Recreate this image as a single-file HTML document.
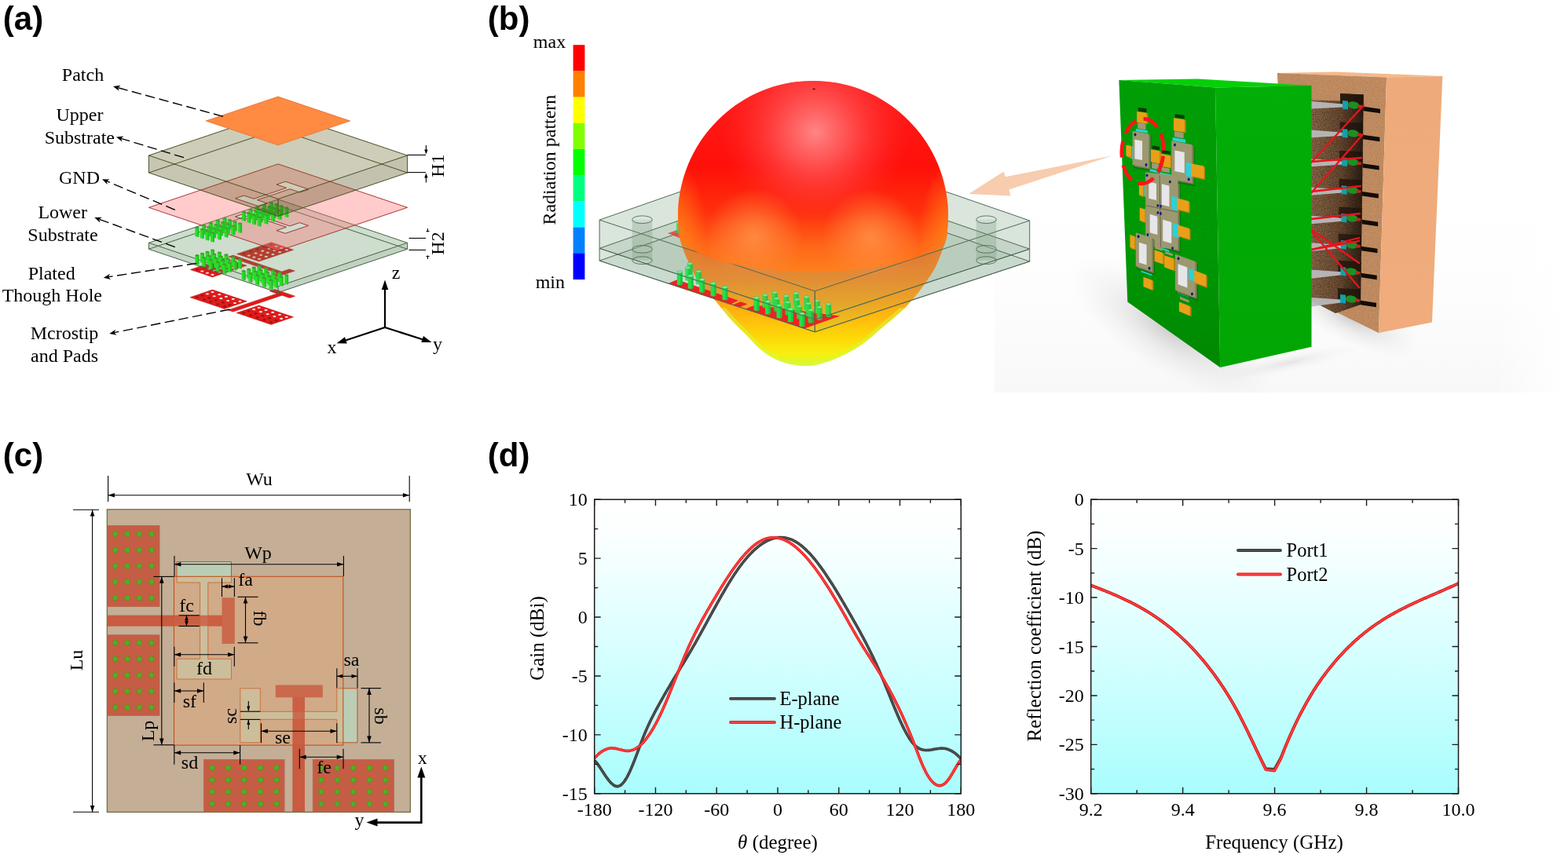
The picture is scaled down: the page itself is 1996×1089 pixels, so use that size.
<!DOCTYPE html>
<html lang="en"><head><meta charset="utf-8"><title>Figure</title>
<style>html,body{margin:0;padding:0;background:#fff;overflow:hidden}svg{display:block}text{white-space:pre}</style>
</head><body>
<svg width="1996" height="1089" viewBox="0 0 1996 1089">
<rect width="1996" height="1089" fill="#fff"/>
<g id="pa">
<path d="M345.46 308.67 L373.61 318.15 L329.64 332.95 L301.5 323.47ZM286 328.69 L314.14 338.16 L270.39 352.89 L242.25 343.41ZM270.49 369.07 L314.2 383.78 L285.64 393.39 L241.94 378.68ZM329.68 388.99 L373.6 403.77 L345.05 413.39 L301.12 398.6ZM296.67 325.1 L358.72 345.98 L368.32 342.75 L375.27 345.09 L350.21 353.52 L343.26 351.18 L352.87 347.95 L290.82 327.06ZM349.98 368.53 L375.56 377.14 L368.82 379.41 L359.1 376.13 L296.73 397.12 L290.12 394.9 L352.49 373.91 L343.23 370.8Z" fill="#e01a1a" stroke="#b01010" stroke-width="0.5"/>
<ellipse cx="345.16" cy="311.59" rx="2.1" ry="1.1" fill="#8c1414"/>
<ellipse cx="336.41" cy="314.53" rx="2.1" ry="1.1" fill="#8c1414"/>
<ellipse cx="327.74" cy="317.45" rx="2.1" ry="1.1" fill="#8c1414"/>
<ellipse cx="319.12" cy="320.35" rx="2.1" ry="1.1" fill="#8c1414"/>
<ellipse cx="310.37" cy="323.3" rx="2.1" ry="1.1" fill="#8c1414"/>
<ellipse cx="351.64" cy="313.77" rx="2.1" ry="1.1" fill="#f6e6e6"/>
<ellipse cx="342.89" cy="316.72" rx="2.1" ry="1.1" fill="#f6e6e6"/>
<ellipse cx="334.22" cy="319.63" rx="2.1" ry="1.1" fill="#f6e6e6"/>
<ellipse cx="325.6" cy="322.54" rx="2.1" ry="1.1" fill="#f6e6e6"/>
<ellipse cx="316.85" cy="325.48" rx="2.1" ry="1.1" fill="#f6e6e6"/>
<ellipse cx="358.21" cy="315.98" rx="2.1" ry="1.1" fill="#f6e6e6"/>
<ellipse cx="349.46" cy="318.93" rx="2.1" ry="1.1" fill="#f6e6e6"/>
<ellipse cx="340.79" cy="321.84" rx="2.1" ry="1.1" fill="#f6e6e6"/>
<ellipse cx="332.17" cy="324.75" rx="2.1" ry="1.1" fill="#f6e6e6"/>
<ellipse cx="323.42" cy="327.69" rx="2.1" ry="1.1" fill="#f6e6e6"/>
<ellipse cx="364.82" cy="318.21" rx="2.1" ry="1.1" fill="#f6e6e6"/>
<ellipse cx="356.07" cy="321.15" rx="2.1" ry="1.1" fill="#f6e6e6"/>
<ellipse cx="347.4" cy="324.07" rx="2.1" ry="1.1" fill="#f6e6e6"/>
<ellipse cx="338.78" cy="326.97" rx="2.1" ry="1.1" fill="#f6e6e6"/>
<ellipse cx="330.03" cy="329.92" rx="2.1" ry="1.1" fill="#f6e6e6"/>
<ellipse cx="285.91" cy="331.53" rx="2.1" ry="1.1" fill="#8c1414"/>
<ellipse cx="277.16" cy="334.48" rx="2.1" ry="1.1" fill="#8c1414"/>
<ellipse cx="268.32" cy="337.45" rx="2.1" ry="1.1" fill="#8c1414"/>
<ellipse cx="259.57" cy="340.4" rx="2.1" ry="1.1" fill="#8c1414"/>
<ellipse cx="250.82" cy="343.34" rx="2.1" ry="1.1" fill="#8c1414"/>
<ellipse cx="292.39" cy="333.71" rx="2.1" ry="1.1" fill="#f6e6e6"/>
<ellipse cx="283.64" cy="336.66" rx="2.1" ry="1.1" fill="#f6e6e6"/>
<ellipse cx="274.8" cy="339.63" rx="2.1" ry="1.1" fill="#f6e6e6"/>
<ellipse cx="266.05" cy="342.58" rx="2.1" ry="1.1" fill="#f6e6e6"/>
<ellipse cx="257.3" cy="345.52" rx="2.1" ry="1.1" fill="#f6e6e6"/>
<ellipse cx="298.96" cy="335.92" rx="2.1" ry="1.1" fill="#f6e6e6"/>
<ellipse cx="290.21" cy="338.87" rx="2.1" ry="1.1" fill="#f6e6e6"/>
<ellipse cx="281.37" cy="341.84" rx="2.1" ry="1.1" fill="#f6e6e6"/>
<ellipse cx="272.62" cy="344.79" rx="2.1" ry="1.1" fill="#f6e6e6"/>
<ellipse cx="263.87" cy="347.73" rx="2.1" ry="1.1" fill="#f6e6e6"/>
<ellipse cx="305.57" cy="338.15" rx="2.1" ry="1.1" fill="#f6e6e6"/>
<ellipse cx="296.82" cy="341.09" rx="2.1" ry="1.1" fill="#f6e6e6"/>
<ellipse cx="287.98" cy="344.07" rx="2.1" ry="1.1" fill="#f6e6e6"/>
<ellipse cx="279.23" cy="347.01" rx="2.1" ry="1.1" fill="#f6e6e6"/>
<ellipse cx="270.48" cy="349.96" rx="2.1" ry="1.1" fill="#f6e6e6"/>
<ellipse cx="270.49" cy="372.09" rx="2.1" ry="1.1" fill="#f6e6e6"/>
<ellipse cx="263.96" cy="374.28" rx="2.1" ry="1.1" fill="#f6e6e6"/>
<ellipse cx="257.47" cy="376.47" rx="2.1" ry="1.1" fill="#8c1414"/>
<ellipse cx="250.94" cy="378.67" rx="2.1" ry="1.1" fill="#8c1414"/>
<ellipse cx="279.23" cy="375.03" rx="2.1" ry="1.1" fill="#f6e6e6"/>
<ellipse cx="272.7" cy="377.23" rx="2.1" ry="1.1" fill="#f6e6e6"/>
<ellipse cx="266.21" cy="379.41" rx="2.1" ry="1.1" fill="#8c1414"/>
<ellipse cx="259.68" cy="381.61" rx="2.1" ry="1.1" fill="#8c1414"/>
<ellipse cx="287.89" cy="377.94" rx="2.1" ry="1.1" fill="#f6e6e6"/>
<ellipse cx="281.36" cy="380.14" rx="2.1" ry="1.1" fill="#f6e6e6"/>
<ellipse cx="274.87" cy="382.32" rx="2.1" ry="1.1" fill="#8c1414"/>
<ellipse cx="268.34" cy="384.52" rx="2.1" ry="1.1" fill="#8c1414"/>
<ellipse cx="296.71" cy="380.91" rx="2.1" ry="1.1" fill="#f6e6e6"/>
<ellipse cx="290.18" cy="383.11" rx="2.1" ry="1.1" fill="#f6e6e6"/>
<ellipse cx="283.69" cy="385.29" rx="2.1" ry="1.1" fill="#8c1414"/>
<ellipse cx="277.16" cy="387.49" rx="2.1" ry="1.1" fill="#8c1414"/>
<ellipse cx="305.46" cy="383.85" rx="2.1" ry="1.1" fill="#f6e6e6"/>
<ellipse cx="298.92" cy="386.05" rx="2.1" ry="1.1" fill="#f6e6e6"/>
<ellipse cx="292.44" cy="388.24" rx="2.1" ry="1.1" fill="#8c1414"/>
<ellipse cx="285.9" cy="390.44" rx="2.1" ry="1.1" fill="#8c1414"/>
<ellipse cx="329.68" cy="392.01" rx="2.1" ry="1.1" fill="#f6e6e6"/>
<ellipse cx="323.15" cy="394.21" rx="2.1" ry="1.1" fill="#f6e6e6"/>
<ellipse cx="316.66" cy="396.39" rx="2.1" ry="1.1" fill="#8c1414"/>
<ellipse cx="310.13" cy="398.59" rx="2.1" ry="1.1" fill="#8c1414"/>
<ellipse cx="338.42" cy="394.95" rx="2.1" ry="1.1" fill="#f6e6e6"/>
<ellipse cx="331.89" cy="397.15" rx="2.1" ry="1.1" fill="#f6e6e6"/>
<ellipse cx="325.4" cy="399.33" rx="2.1" ry="1.1" fill="#8c1414"/>
<ellipse cx="318.87" cy="401.53" rx="2.1" ry="1.1" fill="#8c1414"/>
<ellipse cx="347.16" cy="397.89" rx="2.1" ry="1.1" fill="#f6e6e6"/>
<ellipse cx="340.63" cy="400.09" rx="2.1" ry="1.1" fill="#f6e6e6"/>
<ellipse cx="334.14" cy="402.27" rx="2.1" ry="1.1" fill="#8c1414"/>
<ellipse cx="327.61" cy="404.47" rx="2.1" ry="1.1" fill="#8c1414"/>
<ellipse cx="355.9" cy="400.83" rx="2.1" ry="1.1" fill="#f6e6e6"/>
<ellipse cx="349.37" cy="403.03" rx="2.1" ry="1.1" fill="#f6e6e6"/>
<ellipse cx="342.88" cy="405.22" rx="2.1" ry="1.1" fill="#8c1414"/>
<ellipse cx="336.35" cy="407.41" rx="2.1" ry="1.1" fill="#8c1414"/>
<ellipse cx="364.64" cy="403.78" rx="2.1" ry="1.1" fill="#f6e6e6"/>
<ellipse cx="358.11" cy="405.97" rx="2.1" ry="1.1" fill="#f6e6e6"/>
<ellipse cx="351.62" cy="408.16" rx="2.1" ry="1.1" fill="#8c1414"/>
<ellipse cx="345.09" cy="410.36" rx="2.1" ry="1.1" fill="#8c1414"/>
<polygon points="189.4,309.3 354,253.9 518.6,309.3 518.6,317.3 354,372.7 189.4,317.3" fill="#5c8e5c" stroke="none" stroke-width="0" fill-opacity="0.3" />
<polygon points="189.4,309.3 354,364.7 354,372.7 189.4,317.3" fill="#000" stroke="none" stroke-width="0" fill-opacity="0.03" />
<polygon points="354,364.7 518.6,309.3 518.6,317.3 354,372.7" fill="#000" stroke="none" stroke-width="0" fill-opacity="0.05" />
<path d="M354 253.9 L518.6 309.3 L354 364.7 L189.4 309.3ZM354 261.9 L518.6 317.3 L354 372.7 L189.4 317.3ZM354 253.9L354 261.9M518.6 309.3L518.6 317.3M354 364.7L354 372.7M189.4 309.3L189.4 317.3" fill="none" stroke="#456345" stroke-width="1.0" stroke-linejoin="round"/>
<path d="M354 208.9 L518.6 264.3 L354 319.7 L189.4 264.3ZM363.35 231.21 L392.99 241.19 L381.68 245 L369.01 240.73 L327.48 254.71 L340.14 258.97 L329.17 262.67 L299.54 252.69 L310.51 249 L323.13 253.25 L364.66 239.27 L352.04 235.02ZM328.95 265.98 L339.83 269.64 L327.23 273.88 L368.81 287.88 L381.4 283.64 L392.58 287.4 L363.12 297.31 L351.95 293.55 L364.54 289.31 L322.97 275.32 L310.37 279.56 L299.5 275.9Z" fill="#ff7070" fill-opacity="0.36" fill-rule="evenodd" stroke="#a02424" stroke-width="0.9" stroke-linejoin="round"/>
<path d="M342.66 258.14V268.64A2.5 1.2 0 0 0 347.66 268.64V258.14Z" fill="#27e027"/>
<path d="M345.66 258.14V269.74A1 1.2 0 0 0 347.66 268.64V258.14Z" fill="#1fa81f" fill-opacity="0.55"/>
<ellipse cx="345.16" cy="258.14" rx="2.5" ry="1.2" fill="#4a9a3a"/>
<path d="M349.14 260.32V270.82A2.5 1.2 0 0 0 354.14 270.82V260.32Z" fill="#27e027"/>
<path d="M352.14 260.32V271.92A1 1.2 0 0 0 354.14 270.82V260.32Z" fill="#1fa81f" fill-opacity="0.55"/>
<ellipse cx="351.64" cy="260.32" rx="2.5" ry="1.2" fill="#4a9a3a"/>
<path d="M333.91 261.08V271.58A2.5 1.2 0 0 0 338.91 271.58V261.08Z" fill="#27e027"/>
<path d="M336.91 261.08V272.68A1 1.2 0 0 0 338.91 271.58V261.08Z" fill="#1fa81f" fill-opacity="0.55"/>
<ellipse cx="336.41" cy="261.08" rx="2.5" ry="1.2" fill="#4a9a3a"/>
<path d="M355.71 262.53V273.03A2.5 1.2 0 0 0 360.71 273.03V262.53Z" fill="#27e027"/>
<path d="M358.71 262.53V274.13A1 1.2 0 0 0 360.71 273.03V262.53Z" fill="#1fa81f" fill-opacity="0.55"/>
<ellipse cx="358.21" cy="262.53" rx="2.5" ry="1.2" fill="#4a9a3a"/>
<path d="M340.39 263.27V273.77A2.5 1.2 0 0 0 345.39 273.77V263.27Z" fill="#27e027"/>
<path d="M343.39 263.27V274.87A1 1.2 0 0 0 345.39 273.77V263.27Z" fill="#1fa81f" fill-opacity="0.55"/>
<ellipse cx="342.89" cy="263.27" rx="2.5" ry="1.2" fill="#4a9a3a"/>
<path d="M325.24 264V274.5A2.5 1.2 0 0 0 330.24 274.5V264Z" fill="#27e027"/>
<path d="M328.24 264V275.6A1 1.2 0 0 0 330.24 274.5V264Z" fill="#1fa81f" fill-opacity="0.55"/>
<ellipse cx="327.74" cy="264" rx="2.5" ry="1.2" fill="#4a9a3a"/>
<path d="M362.32 264.76V275.26A2.5 1.2 0 0 0 367.32 275.26V264.76Z" fill="#27e027"/>
<path d="M365.32 264.76V276.36A1 1.2 0 0 0 367.32 275.26V264.76Z" fill="#1fa81f" fill-opacity="0.55"/>
<ellipse cx="364.82" cy="264.76" rx="2.5" ry="1.2" fill="#4a9a3a"/>
<path d="M346.96 265.48V275.98A2.5 1.2 0 0 0 351.96 275.98V265.48Z" fill="#27e027"/>
<path d="M349.96 265.48V277.08A1 1.2 0 0 0 351.96 275.98V265.48Z" fill="#1fa81f" fill-opacity="0.55"/>
<ellipse cx="349.46" cy="265.48" rx="2.5" ry="1.2" fill="#4a9a3a"/>
<path d="M331.72 266.18V276.68A2.5 1.2 0 0 0 336.72 276.68V266.18Z" fill="#27e027"/>
<path d="M334.72 266.18V277.78A1 1.2 0 0 0 336.72 276.68V266.18Z" fill="#1fa81f" fill-opacity="0.55"/>
<ellipse cx="334.22" cy="266.18" rx="2.5" ry="1.2" fill="#4a9a3a"/>
<path d="M316.62 266.9V277.4A2.5 1.2 0 0 0 321.62 277.4V266.9Z" fill="#27e027"/>
<path d="M319.62 266.9V278.5A1 1.2 0 0 0 321.62 277.4V266.9Z" fill="#1fa81f" fill-opacity="0.55"/>
<ellipse cx="319.12" cy="266.9" rx="2.5" ry="1.2" fill="#4a9a3a"/>
<path d="M353.57 267.7V278.2A2.5 1.2 0 0 0 358.57 278.2V267.7Z" fill="#27e027"/>
<path d="M356.57 267.7V279.3A1 1.2 0 0 0 358.57 278.2V267.7Z" fill="#1fa81f" fill-opacity="0.55"/>
<ellipse cx="356.07" cy="267.7" rx="2.5" ry="1.2" fill="#4a9a3a"/>
<path d="M338.29 268.39V278.89A2.5 1.2 0 0 0 343.29 278.89V268.39Z" fill="#27e027"/>
<path d="M341.29 268.39V279.99A1 1.2 0 0 0 343.29 278.89V268.39Z" fill="#1fa81f" fill-opacity="0.55"/>
<ellipse cx="340.79" cy="268.39" rx="2.5" ry="1.2" fill="#4a9a3a"/>
<path d="M323.1 269.09V279.59A2.5 1.2 0 0 0 328.1 279.59V269.09Z" fill="#27e027"/>
<path d="M326.1 269.09V280.69A1 1.2 0 0 0 328.1 279.59V269.09Z" fill="#1fa81f" fill-opacity="0.55"/>
<ellipse cx="325.6" cy="269.09" rx="2.5" ry="1.2" fill="#4a9a3a"/>
<path d="M307.87 269.85V280.35A2.5 1.2 0 0 0 312.87 280.35V269.85Z" fill="#27e027"/>
<path d="M310.87 269.85V281.45A1 1.2 0 0 0 312.87 280.35V269.85Z" fill="#1fa81f" fill-opacity="0.55"/>
<ellipse cx="310.37" cy="269.85" rx="2.5" ry="1.2" fill="#4a9a3a"/>
<path d="M344.9 270.62V281.12A2.5 1.2 0 0 0 349.9 281.12V270.62Z" fill="#27e027"/>
<path d="M347.9 270.62V282.22A1 1.2 0 0 0 349.9 281.12V270.62Z" fill="#1fa81f" fill-opacity="0.55"/>
<ellipse cx="347.4" cy="270.62" rx="2.5" ry="1.2" fill="#4a9a3a"/>
<path d="M329.67 271.3V281.8A2.5 1.2 0 0 0 334.67 281.8V271.3Z" fill="#27e027"/>
<path d="M332.67 271.3V282.9A1 1.2 0 0 0 334.67 281.8V271.3Z" fill="#1fa81f" fill-opacity="0.55"/>
<ellipse cx="332.17" cy="271.3" rx="2.5" ry="1.2" fill="#4a9a3a"/>
<path d="M314.35 272.03V282.53A2.5 1.2 0 0 0 319.35 282.53V272.03Z" fill="#27e027"/>
<path d="M317.35 272.03V283.63A1 1.2 0 0 0 319.35 282.53V272.03Z" fill="#1fa81f" fill-opacity="0.55"/>
<ellipse cx="316.85" cy="272.03" rx="2.5" ry="1.2" fill="#4a9a3a"/>
<path d="M336.28 273.52V284.02A2.5 1.2 0 0 0 341.28 284.02V273.52Z" fill="#27e027"/>
<path d="M339.28 273.52V285.12A1 1.2 0 0 0 341.28 284.02V273.52Z" fill="#1fa81f" fill-opacity="0.55"/>
<ellipse cx="338.78" cy="273.52" rx="2.5" ry="1.2" fill="#4a9a3a"/>
<path d="M320.92 274.24V284.74A2.5 1.2 0 0 0 325.92 284.74V274.24Z" fill="#27e027"/>
<path d="M323.92 274.24V285.84A1 1.2 0 0 0 325.92 284.74V274.24Z" fill="#1fa81f" fill-opacity="0.55"/>
<ellipse cx="323.42" cy="274.24" rx="2.5" ry="1.2" fill="#4a9a3a"/>
<path d="M327.53 276.47V286.97A2.5 1.2 0 0 0 332.53 286.97V276.47Z" fill="#27e027"/>
<path d="M330.53 276.47V288.07A1 1.2 0 0 0 332.53 286.97V276.47Z" fill="#1fa81f" fill-opacity="0.55"/>
<ellipse cx="330.03" cy="276.47" rx="2.5" ry="1.2" fill="#4a9a3a"/>
<path d="M283.41 278.08V288.58A2.5 1.2 0 0 0 288.41 288.58V278.08Z" fill="#27e027"/>
<path d="M286.41 278.08V289.68A1 1.2 0 0 0 288.41 288.58V278.08Z" fill="#1fa81f" fill-opacity="0.55"/>
<ellipse cx="285.91" cy="278.08" rx="2.5" ry="1.2" fill="#4a9a3a"/>
<path d="M289.89 280.26V290.76A2.5 1.2 0 0 0 294.89 290.76V280.26Z" fill="#27e027"/>
<path d="M292.89 280.26V291.86A1 1.2 0 0 0 294.89 290.76V280.26Z" fill="#1fa81f" fill-opacity="0.55"/>
<ellipse cx="292.39" cy="280.26" rx="2.5" ry="1.2" fill="#4a9a3a"/>
<path d="M274.66 281.03V291.53A2.5 1.2 0 0 0 279.66 291.53V281.03Z" fill="#27e027"/>
<path d="M277.66 281.03V292.63A1 1.2 0 0 0 279.66 291.53V281.03Z" fill="#1fa81f" fill-opacity="0.55"/>
<ellipse cx="277.16" cy="281.03" rx="2.5" ry="1.2" fill="#4a9a3a"/>
<path d="M296.46 282.47V292.97A2.5 1.2 0 0 0 301.46 292.97V282.47Z" fill="#27e027"/>
<path d="M299.46 282.47V294.07A1 1.2 0 0 0 301.46 292.97V282.47Z" fill="#1fa81f" fill-opacity="0.55"/>
<ellipse cx="298.96" cy="282.47" rx="2.5" ry="1.2" fill="#4a9a3a"/>
<path d="M281.14 283.21V293.71A2.5 1.2 0 0 0 286.14 293.71V283.21Z" fill="#27e027"/>
<path d="M284.14 283.21V294.81A1 1.2 0 0 0 286.14 293.71V283.21Z" fill="#1fa81f" fill-opacity="0.55"/>
<ellipse cx="283.64" cy="283.21" rx="2.5" ry="1.2" fill="#4a9a3a"/>
<path d="M265.82 284V294.5A2.5 1.2 0 0 0 270.82 294.5V284Z" fill="#27e027"/>
<path d="M268.82 284V295.6A1 1.2 0 0 0 270.82 294.5V284Z" fill="#1fa81f" fill-opacity="0.55"/>
<ellipse cx="268.32" cy="284" rx="2.5" ry="1.2" fill="#4a9a3a"/>
<path d="M303.07 284.7V295.2A2.5 1.2 0 0 0 308.07 295.2V284.7Z" fill="#27e027"/>
<path d="M306.07 284.7V296.3A1 1.2 0 0 0 308.07 295.2V284.7Z" fill="#1fa81f" fill-opacity="0.55"/>
<ellipse cx="305.57" cy="284.7" rx="2.5" ry="1.2" fill="#4a9a3a"/>
<path d="M287.71 285.42V295.92A2.5 1.2 0 0 0 292.71 295.92V285.42Z" fill="#27e027"/>
<path d="M290.71 285.42V297.02A1 1.2 0 0 0 292.71 295.92V285.42Z" fill="#1fa81f" fill-opacity="0.55"/>
<ellipse cx="290.21" cy="285.42" rx="2.5" ry="1.2" fill="#4a9a3a"/>
<path d="M272.3 286.18V296.68A2.5 1.2 0 0 0 277.3 296.68V286.18Z" fill="#27e027"/>
<path d="M275.3 286.18V297.78A1 1.2 0 0 0 277.3 296.68V286.18Z" fill="#1fa81f" fill-opacity="0.55"/>
<ellipse cx="274.8" cy="286.18" rx="2.5" ry="1.2" fill="#4a9a3a"/>
<path d="M257.07 286.95V297.45A2.5 1.2 0 0 0 262.07 297.45V286.95Z" fill="#27e027"/>
<path d="M260.07 286.95V298.55A1 1.2 0 0 0 262.07 297.45V286.95Z" fill="#1fa81f" fill-opacity="0.55"/>
<ellipse cx="259.57" cy="286.95" rx="2.5" ry="1.2" fill="#4a9a3a"/>
<path d="M294.32 287.64V298.14A2.5 1.2 0 0 0 299.32 298.14V287.64Z" fill="#27e027"/>
<path d="M297.32 287.64V299.24A1 1.2 0 0 0 299.32 298.14V287.64Z" fill="#1fa81f" fill-opacity="0.55"/>
<ellipse cx="296.82" cy="287.64" rx="2.5" ry="1.2" fill="#4a9a3a"/>
<path d="M278.87 288.39V298.89A2.5 1.2 0 0 0 283.87 298.89V288.39Z" fill="#27e027"/>
<path d="M281.87 288.39V299.99A1 1.2 0 0 0 283.87 298.89V288.39Z" fill="#1fa81f" fill-opacity="0.55"/>
<ellipse cx="281.37" cy="288.39" rx="2.5" ry="1.2" fill="#4a9a3a"/>
<path d="M263.55 289.13V299.63A2.5 1.2 0 0 0 268.55 299.63V289.13Z" fill="#27e027"/>
<path d="M266.55 289.13V300.73A1 1.2 0 0 0 268.55 299.63V289.13Z" fill="#1fa81f" fill-opacity="0.55"/>
<ellipse cx="266.05" cy="289.13" rx="2.5" ry="1.2" fill="#4a9a3a"/>
<path d="M248.32 289.89V300.39A2.5 1.2 0 0 0 253.32 300.39V289.89Z" fill="#27e027"/>
<path d="M251.32 289.89V301.49A1 1.2 0 0 0 253.32 300.39V289.89Z" fill="#1fa81f" fill-opacity="0.55"/>
<ellipse cx="250.82" cy="289.89" rx="2.5" ry="1.2" fill="#4a9a3a"/>
<path d="M285.48 290.62V301.12A2.5 1.2 0 0 0 290.48 301.12V290.62Z" fill="#27e027"/>
<path d="M288.48 290.62V302.22A1 1.2 0 0 0 290.48 301.12V290.62Z" fill="#1fa81f" fill-opacity="0.55"/>
<ellipse cx="287.98" cy="290.62" rx="2.5" ry="1.2" fill="#4a9a3a"/>
<path d="M270.12 291.34V301.84A2.5 1.2 0 0 0 275.12 301.84V291.34Z" fill="#27e027"/>
<path d="M273.12 291.34V302.94A1 1.2 0 0 0 275.12 301.84V291.34Z" fill="#1fa81f" fill-opacity="0.55"/>
<ellipse cx="272.62" cy="291.34" rx="2.5" ry="1.2" fill="#4a9a3a"/>
<path d="M254.8 292.07V302.57A2.5 1.2 0 0 0 259.8 302.57V292.07Z" fill="#27e027"/>
<path d="M257.8 292.07V303.67A1 1.2 0 0 0 259.8 302.57V292.07Z" fill="#1fa81f" fill-opacity="0.55"/>
<ellipse cx="257.3" cy="292.07" rx="2.5" ry="1.2" fill="#4a9a3a"/>
<path d="M276.73 293.56V304.06A2.5 1.2 0 0 0 281.73 304.06V293.56Z" fill="#27e027"/>
<path d="M279.73 293.56V305.16A1 1.2 0 0 0 281.73 304.06V293.56Z" fill="#1fa81f" fill-opacity="0.55"/>
<ellipse cx="279.23" cy="293.56" rx="2.5" ry="1.2" fill="#4a9a3a"/>
<path d="M261.37 294.28V304.78A2.5 1.2 0 0 0 266.37 304.78V294.28Z" fill="#27e027"/>
<path d="M264.37 294.28V305.88A1 1.2 0 0 0 266.37 304.78V294.28Z" fill="#1fa81f" fill-opacity="0.55"/>
<ellipse cx="263.87" cy="294.28" rx="2.5" ry="1.2" fill="#4a9a3a"/>
<path d="M267.98 296.51V307.01A2.5 1.2 0 0 0 272.98 307.01V296.51Z" fill="#27e027"/>
<path d="M270.98 296.51V308.11A1 1.2 0 0 0 272.98 307.01V296.51Z" fill="#1fa81f" fill-opacity="0.55"/>
<ellipse cx="270.48" cy="296.51" rx="2.5" ry="1.2" fill="#4a9a3a"/>
<path d="M267.99 318.64V329.14A2.5 1.2 0 0 0 272.99 329.14V318.64Z" fill="#27e027"/>
<path d="M270.99 318.64V330.24A1 1.2 0 0 0 272.99 329.14V318.64Z" fill="#1fa81f" fill-opacity="0.55"/>
<ellipse cx="270.49" cy="318.64" rx="2.5" ry="1.2" fill="#4a9a3a"/>
<path d="M261.46 320.83V331.33A2.5 1.2 0 0 0 266.46 331.33V320.83Z" fill="#27e027"/>
<path d="M264.46 320.83V332.43A1 1.2 0 0 0 266.46 331.33V320.83Z" fill="#1fa81f" fill-opacity="0.55"/>
<ellipse cx="263.96" cy="320.83" rx="2.5" ry="1.2" fill="#4a9a3a"/>
<path d="M276.73 321.58V332.08A2.5 1.2 0 0 0 281.73 332.08V321.58Z" fill="#27e027"/>
<path d="M279.73 321.58V333.18A1 1.2 0 0 0 281.73 332.08V321.58Z" fill="#1fa81f" fill-opacity="0.55"/>
<ellipse cx="279.23" cy="321.58" rx="2.5" ry="1.2" fill="#4a9a3a"/>
<path d="M254.97 323.02V333.52A2.5 1.2 0 0 0 259.97 333.52V323.02Z" fill="#27e027"/>
<path d="M257.97 323.02V334.62A1 1.2 0 0 0 259.97 333.52V323.02Z" fill="#1fa81f" fill-opacity="0.55"/>
<ellipse cx="257.47" cy="323.02" rx="2.5" ry="1.2" fill="#4a9a3a"/>
<path d="M270.2 323.78V334.28A2.5 1.2 0 0 0 275.2 334.28V323.78Z" fill="#27e027"/>
<path d="M273.2 323.78V335.38A1 1.2 0 0 0 275.2 334.28V323.78Z" fill="#1fa81f" fill-opacity="0.55"/>
<ellipse cx="272.7" cy="323.78" rx="2.5" ry="1.2" fill="#4a9a3a"/>
<path d="M285.39 324.49V334.99A2.5 1.2 0 0 0 290.39 334.99V324.49Z" fill="#27e027"/>
<path d="M288.39 324.49V336.09A1 1.2 0 0 0 290.39 334.99V324.49Z" fill="#1fa81f" fill-opacity="0.55"/>
<ellipse cx="287.89" cy="324.49" rx="2.5" ry="1.2" fill="#4a9a3a"/>
<path d="M248.44 325.22V335.72A2.5 1.2 0 0 0 253.44 335.72V325.22Z" fill="#27e027"/>
<path d="M251.44 325.22V336.82A1 1.2 0 0 0 253.44 335.72V325.22Z" fill="#1fa81f" fill-opacity="0.55"/>
<ellipse cx="250.94" cy="325.22" rx="2.5" ry="1.2" fill="#4a9a3a"/>
<path d="M263.71 325.96V336.46A2.5 1.2 0 0 0 268.71 336.46V325.96Z" fill="#27e027"/>
<path d="M266.71 325.96V337.56A1 1.2 0 0 0 268.71 336.46V325.96Z" fill="#1fa81f" fill-opacity="0.55"/>
<ellipse cx="266.21" cy="325.96" rx="2.5" ry="1.2" fill="#4a9a3a"/>
<path d="M278.86 326.69V337.19A2.5 1.2 0 0 0 283.86 337.19V326.69Z" fill="#27e027"/>
<path d="M281.86 326.69V338.29A1 1.2 0 0 0 283.86 337.19V326.69Z" fill="#1fa81f" fill-opacity="0.55"/>
<ellipse cx="281.36" cy="326.69" rx="2.5" ry="1.2" fill="#4a9a3a"/>
<path d="M294.21 327.46V337.96A2.5 1.2 0 0 0 299.21 337.96V327.46Z" fill="#27e027"/>
<path d="M297.21 327.46V339.06A1 1.2 0 0 0 299.21 337.96V327.46Z" fill="#1fa81f" fill-opacity="0.55"/>
<ellipse cx="296.71" cy="327.46" rx="2.5" ry="1.2" fill="#4a9a3a"/>
<path d="M257.18 328.16V338.66A2.5 1.2 0 0 0 262.18 338.66V328.16Z" fill="#27e027"/>
<path d="M260.18 328.16V339.76A1 1.2 0 0 0 262.18 338.66V328.16Z" fill="#1fa81f" fill-opacity="0.55"/>
<ellipse cx="259.68" cy="328.16" rx="2.5" ry="1.2" fill="#4a9a3a"/>
<path d="M272.37 328.87V339.37A2.5 1.2 0 0 0 277.37 339.37V328.87Z" fill="#27e027"/>
<path d="M275.37 328.87V340.47A1 1.2 0 0 0 277.37 339.37V328.87Z" fill="#1fa81f" fill-opacity="0.55"/>
<ellipse cx="274.87" cy="328.87" rx="2.5" ry="1.2" fill="#4a9a3a"/>
<path d="M287.68 329.66V340.16A2.5 1.2 0 0 0 292.68 340.16V329.66Z" fill="#27e027"/>
<path d="M290.68 329.66V341.26A1 1.2 0 0 0 292.68 340.16V329.66Z" fill="#1fa81f" fill-opacity="0.55"/>
<ellipse cx="290.18" cy="329.66" rx="2.5" ry="1.2" fill="#4a9a3a"/>
<path d="M302.96 330.4V340.9A2.5 1.2 0 0 0 307.96 340.9V330.4Z" fill="#27e027"/>
<path d="M305.96 330.4V342A1 1.2 0 0 0 307.96 340.9V330.4Z" fill="#1fa81f" fill-opacity="0.55"/>
<ellipse cx="305.46" cy="330.4" rx="2.5" ry="1.2" fill="#4a9a3a"/>
<path d="M265.84 331.07V341.57A2.5 1.2 0 0 0 270.84 341.57V331.07Z" fill="#27e027"/>
<path d="M268.84 331.07V342.67A1 1.2 0 0 0 270.84 341.57V331.07Z" fill="#1fa81f" fill-opacity="0.55"/>
<ellipse cx="268.34" cy="331.07" rx="2.5" ry="1.2" fill="#4a9a3a"/>
<path d="M281.19 331.84V342.34A2.5 1.2 0 0 0 286.19 342.34V331.84Z" fill="#27e027"/>
<path d="M284.19 331.84V343.44A1 1.2 0 0 0 286.19 342.34V331.84Z" fill="#1fa81f" fill-opacity="0.55"/>
<ellipse cx="283.69" cy="331.84" rx="2.5" ry="1.2" fill="#4a9a3a"/>
<path d="M296.42 332.6V343.1A2.5 1.2 0 0 0 301.42 343.1V332.6Z" fill="#27e027"/>
<path d="M299.42 332.6V344.2A1 1.2 0 0 0 301.42 343.1V332.6Z" fill="#1fa81f" fill-opacity="0.55"/>
<ellipse cx="298.92" cy="332.6" rx="2.5" ry="1.2" fill="#4a9a3a"/>
<path d="M274.66 334.04V344.54A2.5 1.2 0 0 0 279.66 344.54V334.04Z" fill="#27e027"/>
<path d="M277.66 334.04V345.64A1 1.2 0 0 0 279.66 344.54V334.04Z" fill="#1fa81f" fill-opacity="0.55"/>
<ellipse cx="277.16" cy="334.04" rx="2.5" ry="1.2" fill="#4a9a3a"/>
<path d="M289.94 334.79V345.29A2.5 1.2 0 0 0 294.94 345.29V334.79Z" fill="#27e027"/>
<path d="M292.94 334.79V346.39A1 1.2 0 0 0 294.94 345.29V334.79Z" fill="#1fa81f" fill-opacity="0.55"/>
<ellipse cx="292.44" cy="334.79" rx="2.5" ry="1.2" fill="#4a9a3a"/>
<path d="M283.4 336.99V347.49A2.5 1.2 0 0 0 288.4 347.49V336.99Z" fill="#27e027"/>
<path d="M286.4 336.99V348.59A1 1.2 0 0 0 288.4 347.49V336.99Z" fill="#1fa81f" fill-opacity="0.55"/>
<ellipse cx="285.9" cy="336.99" rx="2.5" ry="1.2" fill="#4a9a3a"/>
<path d="M327.18 338.56V349.06A2.5 1.2 0 0 0 332.18 349.06V338.56Z" fill="#27e027"/>
<path d="M330.18 338.56V350.16A1 1.2 0 0 0 332.18 349.06V338.56Z" fill="#1fa81f" fill-opacity="0.55"/>
<ellipse cx="329.68" cy="338.56" rx="2.5" ry="1.2" fill="#4a9a3a"/>
<path d="M320.65 340.76V351.26A2.5 1.2 0 0 0 325.65 351.26V340.76Z" fill="#27e027"/>
<path d="M323.65 340.76V352.36A1 1.2 0 0 0 325.65 351.26V340.76Z" fill="#1fa81f" fill-opacity="0.55"/>
<ellipse cx="323.15" cy="340.76" rx="2.5" ry="1.2" fill="#4a9a3a"/>
<path d="M335.92 341.5V352A2.5 1.2 0 0 0 340.92 352V341.5Z" fill="#27e027"/>
<path d="M338.92 341.5V353.1A1 1.2 0 0 0 340.92 352V341.5Z" fill="#1fa81f" fill-opacity="0.55"/>
<ellipse cx="338.42" cy="341.5" rx="2.5" ry="1.2" fill="#4a9a3a"/>
<path d="M314.16 342.94V353.44A2.5 1.2 0 0 0 319.16 353.44V342.94Z" fill="#27e027"/>
<path d="M317.16 342.94V354.54A1 1.2 0 0 0 319.16 353.44V342.94Z" fill="#1fa81f" fill-opacity="0.55"/>
<ellipse cx="316.66" cy="342.94" rx="2.5" ry="1.2" fill="#4a9a3a"/>
<path d="M329.39 343.7V354.2A2.5 1.2 0 0 0 334.39 354.2V343.7Z" fill="#27e027"/>
<path d="M332.39 343.7V355.3A1 1.2 0 0 0 334.39 354.2V343.7Z" fill="#1fa81f" fill-opacity="0.55"/>
<ellipse cx="331.89" cy="343.7" rx="2.5" ry="1.2" fill="#4a9a3a"/>
<path d="M344.66 344.44V354.94A2.5 1.2 0 0 0 349.66 354.94V344.44Z" fill="#27e027"/>
<path d="M347.66 344.44V356.04A1 1.2 0 0 0 349.66 354.94V344.44Z" fill="#1fa81f" fill-opacity="0.55"/>
<ellipse cx="347.16" cy="344.44" rx="2.5" ry="1.2" fill="#4a9a3a"/>
<path d="M307.63 345.14V355.64A2.5 1.2 0 0 0 312.63 355.64V345.14Z" fill="#27e027"/>
<path d="M310.63 345.14V356.74A1 1.2 0 0 0 312.63 355.64V345.14Z" fill="#1fa81f" fill-opacity="0.55"/>
<ellipse cx="310.13" cy="345.14" rx="2.5" ry="1.2" fill="#4a9a3a"/>
<path d="M322.9 345.88V356.38A2.5 1.2 0 0 0 327.9 356.38V345.88Z" fill="#27e027"/>
<path d="M325.9 345.88V357.48A1 1.2 0 0 0 327.9 356.38V345.88Z" fill="#1fa81f" fill-opacity="0.55"/>
<ellipse cx="325.4" cy="345.88" rx="2.5" ry="1.2" fill="#4a9a3a"/>
<path d="M338.13 346.64V357.14A2.5 1.2 0 0 0 343.13 357.14V346.64Z" fill="#27e027"/>
<path d="M341.13 346.64V358.24A1 1.2 0 0 0 343.13 357.14V346.64Z" fill="#1fa81f" fill-opacity="0.55"/>
<ellipse cx="340.63" cy="346.64" rx="2.5" ry="1.2" fill="#4a9a3a"/>
<path d="M353.4 347.38V357.88A2.5 1.2 0 0 0 358.4 357.88V347.38Z" fill="#27e027"/>
<path d="M356.4 347.38V358.98A1 1.2 0 0 0 358.4 357.88V347.38Z" fill="#1fa81f" fill-opacity="0.55"/>
<ellipse cx="355.9" cy="347.38" rx="2.5" ry="1.2" fill="#4a9a3a"/>
<path d="M316.37 348.08V358.58A2.5 1.2 0 0 0 321.37 358.58V348.08Z" fill="#27e027"/>
<path d="M319.37 348.08V359.68A1 1.2 0 0 0 321.37 358.58V348.08Z" fill="#1fa81f" fill-opacity="0.55"/>
<ellipse cx="318.87" cy="348.08" rx="2.5" ry="1.2" fill="#4a9a3a"/>
<path d="M331.64 348.82V359.32A2.5 1.2 0 0 0 336.64 359.32V348.82Z" fill="#27e027"/>
<path d="M334.64 348.82V360.42A1 1.2 0 0 0 336.64 359.32V348.82Z" fill="#1fa81f" fill-opacity="0.55"/>
<ellipse cx="334.14" cy="348.82" rx="2.5" ry="1.2" fill="#4a9a3a"/>
<path d="M346.87 349.58V360.08A2.5 1.2 0 0 0 351.87 360.08V349.58Z" fill="#27e027"/>
<path d="M349.87 349.58V361.18A1 1.2 0 0 0 351.87 360.08V349.58Z" fill="#1fa81f" fill-opacity="0.55"/>
<ellipse cx="349.37" cy="349.58" rx="2.5" ry="1.2" fill="#4a9a3a"/>
<path d="M362.14 350.33V360.83A2.5 1.2 0 0 0 367.14 360.83V350.33Z" fill="#27e027"/>
<path d="M365.14 350.33V361.93A1 1.2 0 0 0 367.14 360.83V350.33Z" fill="#1fa81f" fill-opacity="0.55"/>
<ellipse cx="364.64" cy="350.33" rx="2.5" ry="1.2" fill="#4a9a3a"/>
<path d="M325.11 351.02V361.52A2.5 1.2 0 0 0 330.11 361.52V351.02Z" fill="#27e027"/>
<path d="M328.11 351.02V362.62A1 1.2 0 0 0 330.11 361.52V351.02Z" fill="#1fa81f" fill-opacity="0.55"/>
<ellipse cx="327.61" cy="351.02" rx="2.5" ry="1.2" fill="#4a9a3a"/>
<path d="M340.38 351.77V362.27A2.5 1.2 0 0 0 345.38 362.27V351.77Z" fill="#27e027"/>
<path d="M343.38 351.77V363.37A1 1.2 0 0 0 345.38 362.27V351.77Z" fill="#1fa81f" fill-opacity="0.55"/>
<ellipse cx="342.88" cy="351.77" rx="2.5" ry="1.2" fill="#4a9a3a"/>
<path d="M355.61 352.52V363.02A2.5 1.2 0 0 0 360.61 363.02V352.52Z" fill="#27e027"/>
<path d="M358.61 352.52V364.12A1 1.2 0 0 0 360.61 363.02V352.52Z" fill="#1fa81f" fill-opacity="0.55"/>
<ellipse cx="358.11" cy="352.52" rx="2.5" ry="1.2" fill="#4a9a3a"/>
<path d="M333.85 353.96V364.46A2.5 1.2 0 0 0 338.85 364.46V353.96Z" fill="#27e027"/>
<path d="M336.85 353.96V365.56A1 1.2 0 0 0 338.85 364.46V353.96Z" fill="#1fa81f" fill-opacity="0.55"/>
<ellipse cx="336.35" cy="353.96" rx="2.5" ry="1.2" fill="#4a9a3a"/>
<path d="M349.12 354.71V365.21A2.5 1.2 0 0 0 354.12 365.21V354.71Z" fill="#27e027"/>
<path d="M352.12 354.71V366.31A1 1.2 0 0 0 354.12 365.21V354.71Z" fill="#1fa81f" fill-opacity="0.55"/>
<ellipse cx="351.62" cy="354.71" rx="2.5" ry="1.2" fill="#4a9a3a"/>
<path d="M342.59 356.91V367.41A2.5 1.2 0 0 0 347.59 367.41V356.91Z" fill="#27e027"/>
<path d="M345.59 356.91V368.51A1 1.2 0 0 0 347.59 367.41V356.91Z" fill="#1fa81f" fill-opacity="0.55"/>
<ellipse cx="345.09" cy="356.91" rx="2.5" ry="1.2" fill="#4a9a3a"/>
<polygon points="189.4,198 354,142.6 518.6,198 518.6,220 354,275.4 189.4,220" fill="#5a5a16" stroke="none" stroke-width="0" fill-opacity="0.3" />
<polygon points="189.4,198 354,253.4 354,275.4 189.4,220" fill="#000" stroke="none" stroke-width="0" fill-opacity="0.03" />
<polygon points="354,253.4 518.6,198 518.6,220 354,275.4" fill="#000" stroke="none" stroke-width="0" fill-opacity="0.05" />
<path d="M354 142.6 L518.6 198 L354 253.4 L189.4 198ZM354 164.6 L518.6 220 L354 275.4 L189.4 220ZM354 142.6L354 164.6M518.6 198L518.6 220M354 253.4L354 275.4M189.4 198L189.4 220" fill="none" stroke="#4c5026" stroke-width="1.0" stroke-linejoin="round"/>
<path d="M353.83 123.11 L445.64 154.01 L353.95 184.87 L262.14 153.97Z" fill="#ff8a42" stroke="#e0702c" stroke-width="0.8"/>
<line x1="518.5" y1="197.4" x2="542" y2="197.4" stroke="#000" stroke-width="1.1" />
<line x1="518.5" y1="219.6" x2="542" y2="219.6" stroke="#000" stroke-width="1.1" />
<line x1="542.4" y1="185" x2="542.4" y2="191" stroke="#000" stroke-width="1.1" />
<polygon points="542.4,196.6 540.2,190.6 544.6,190.6" fill="#000" stroke="none" stroke-width="1" />
<line x1="542.4" y1="226" x2="542.4" y2="232.5" stroke="#000" stroke-width="1.1" />
<polygon points="542.4,220.4 544.6,226.4 540.2,226.4" fill="#000" stroke="none" stroke-width="1" />
<text x="564.5" y="211" font-family="'Liberation Serif','Times New Roman',serif" font-size="24" font-weight="normal" font-style="normal" text-anchor="middle" fill="#000" transform="rotate(-90 564.5 211)" >H1</text>
<line x1="520.5" y1="303.4" x2="542" y2="303.4" stroke="#000" stroke-width="1.1" />
<line x1="520.5" y1="318.4" x2="542" y2="318.4" stroke="#000" stroke-width="1.1" />
<line x1="544.4" y1="291" x2="544.4" y2="295.5" stroke="#000" stroke-width="1.1" />
<line x1="542.5" y1="294.5" x2="546.5" y2="294.5" stroke="#000" stroke-width="1.1" />
<line x1="544.4" y1="325.5" x2="544.4" y2="330" stroke="#000" stroke-width="1.1" />
<line x1="542.5" y1="326.5" x2="546.5" y2="326.5" stroke="#000" stroke-width="1.1" />
<text x="564.5" y="310" font-family="'Liberation Serif','Times New Roman',serif" font-size="24" font-weight="normal" font-style="normal" text-anchor="middle" fill="#000" transform="rotate(-90 564.5 310)" >H2</text>
<path d="M490 368V417L438.5 434M490 417L540 433" fill="none" stroke="#000" stroke-width="2.2" stroke-linejoin="miter"/>
<polygon points="490,356.5 494.25,369 485.75,369" fill="#000" stroke="none" stroke-width="1" />
<polygon points="428.5,437.3 439.01,429.32 441.7,437.38" fill="#000" stroke="none" stroke-width="1" />
<polygon points="549.5,436 536.3,436.08 538.99,428.02" fill="#000" stroke="none" stroke-width="1" />
<text x="504" y="355" font-family="'Liberation Serif','Times New Roman',serif" font-size="24" font-weight="normal" font-style="normal" text-anchor="middle" fill="#000" >z</text>
<text x="422.5" y="450" font-family="'Liberation Serif','Times New Roman',serif" font-size="24" font-weight="normal" font-style="normal" text-anchor="middle" fill="#000" >x</text>
<text x="557" y="446" font-family="'Liberation Serif','Times New Roman',serif" font-size="24" font-weight="normal" font-style="normal" text-anchor="middle" fill="#000" >y</text>
<text x="105.5" y="103.3" font-family="'Liberation Serif','Times New Roman',serif" font-size="24" font-weight="normal" font-style="normal" text-anchor="middle" fill="#000" >Patch</text>
<text x="101.5" y="153.8" font-family="'Liberation Serif','Times New Roman',serif" font-size="24" font-weight="normal" font-style="normal" text-anchor="middle" fill="#000" >Upper</text>
<text x="101.3" y="183" font-family="'Liberation Serif','Times New Roman',serif" font-size="24" font-weight="normal" font-style="normal" text-anchor="middle" fill="#000" >Substrate</text>
<text x="101" y="234.3" font-family="'Liberation Serif','Times New Roman',serif" font-size="24" font-weight="normal" font-style="normal" text-anchor="middle" fill="#000" >GND</text>
<text x="79.7" y="277.5" font-family="'Liberation Serif','Times New Roman',serif" font-size="24" font-weight="normal" font-style="normal" text-anchor="middle" fill="#000" >Lower</text>
<text x="80" y="306.8" font-family="'Liberation Serif','Times New Roman',serif" font-size="24" font-weight="normal" font-style="normal" text-anchor="middle" fill="#000" >Substrate</text>
<text x="65.7" y="355.8" font-family="'Liberation Serif','Times New Roman',serif" font-size="24" font-weight="normal" font-style="normal" text-anchor="middle" fill="#000" >Plated</text>
<text x="66.3" y="383.8" font-family="'Liberation Serif','Times New Roman',serif" font-size="24" font-weight="normal" font-style="normal" text-anchor="middle" fill="#000" >Though Hole</text>
<text x="82" y="431.7" font-family="'Liberation Serif','Times New Roman',serif" font-size="24" font-weight="normal" font-style="normal" text-anchor="middle" fill="#000" >Mcrostip</text>
<text x="82" y="460.7" font-family="'Liberation Serif','Times New Roman',serif" font-size="24" font-weight="normal" font-style="normal" text-anchor="middle" fill="#000" >and Pads</text>
<line x1="284" y1="148.3" x2="148.82" y2="111.32" stroke="#000" stroke-width="1.35" stroke-dasharray="12.5 5.5"/>
<polygon points="144,110 153.44,108.85 150.08,111.66 151.54,115.79" fill="#000" stroke="none" stroke-width="1" />
<line x1="234" y1="200.7" x2="152.78" y2="175.96" stroke="#000" stroke-width="1.35" stroke-dasharray="12.5 5.5"/>
<polygon points="148,174.5 157.47,173.62 154.03,176.34 155.37,180.51" fill="#000" stroke="none" stroke-width="1" />
<line x1="222.8" y1="267.3" x2="134.61" y2="230.24" stroke="#000" stroke-width="1.35" stroke-dasharray="12.5 5.5"/>
<polygon points="130,228.3 139.51,228.39 135.81,230.74 136.72,235.03" fill="#000" stroke="none" stroke-width="1" />
<line x1="222.8" y1="314.6" x2="124.99" y2="278.72" stroke="#000" stroke-width="1.35" stroke-dasharray="12.5 5.5"/>
<polygon points="120.3,277 129.8,276.65 126.21,279.17 127.32,283.41" fill="#000" stroke="none" stroke-width="1" />
<line x1="250.3" y1="335.3" x2="136.74" y2="352.93" stroke="#000" stroke-width="1.35" stroke-dasharray="12.5 5.5"/>
<polygon points="131.8,353.7 139.94,348.79 138.03,352.73 141.05,355.91" fill="#000" stroke="none" stroke-width="1" />
<line x1="292.5" y1="394" x2="144.1" y2="423.91" stroke="#000" stroke-width="1.35" stroke-dasharray="12.5 5.5"/>
<polygon points="139.2,424.9 147.12,419.63 145.38,423.66 148.54,426.69" fill="#000" stroke="none" stroke-width="1" />
</g>
<g id="pb">
<defs>
<linearGradient id="flg" x1="0" y1="0" x2="0" y2="1"><stop offset="0" stop-color="#ffffff"/><stop offset="0.5" stop-color="#fdfdfd"/><stop offset="1" stop-color="#f8f8f8"/></linearGradient>
<linearGradient id="flr" x1="0" y1="0" x2="1" y2="0"><stop offset="0" stop-color="#ffffff" stop-opacity="0"/><stop offset="1" stop-color="#ffffff" stop-opacity="1"/></linearGradient>
<radialGradient id="shd" gradientUnits="userSpaceOnUse" cx="0" cy="0" r="1"><stop offset="0" stop-color="#8a8a8a" stop-opacity="0.42"/><stop offset="0.5" stop-color="#aaaaaa" stop-opacity="0.18"/><stop offset="1" stop-color="#cccccc" stop-opacity="0"/></radialGradient>
<linearGradient id="gfront" x1="0" y1="0" x2="0" y2="1"><stop offset="0" stop-color="#00a206"/><stop offset="0.6" stop-color="#009a04"/><stop offset="1" stop-color="#008a02"/></linearGradient>
<linearGradient id="gside" x1="0" y1="0" x2="0" y2="1"><stop offset="0" stop-color="#02ae08"/><stop offset="1" stop-color="#02a604"/></linearGradient>
<linearGradient id="tside" x1="0" y1="0" x2="0" y2="1"><stop offset="0" stop-color="#eeaa7a"/><stop offset="1" stop-color="#f0ac7c"/></linearGradient>
<linearGradient id="rec" x1="0" y1="0" x2="1" y2="0"><stop offset="0" stop-color="#8a6848"/><stop offset="0.55" stop-color="#6a4a30"/><stop offset="1" stop-color="#2a1c12"/></linearGradient>
<filter id="noise" x="0" y="0" width="100%" height="100%"><feTurbulence type="fractalNoise" baseFrequency="0.9" numOctaves="2" seed="3" result="n"/><feColorMatrix in="n" type="matrix" values="0 0 0 0 0  0 0 0 0 0  0 0 0 0 0  0 0 0 -2.2 1.25"/><feComposite in2="SourceGraphic" operator="in"/></filter>
</defs>
<rect x="1266" y="250" width="730" height="250" fill="url(#flg)" stroke="none" stroke-width="1" />
<g clip-path="url(#flclip)"><clipPath id="flclip"><rect x="1266" y="250" width="730" height="250"/></clipPath>
<ellipse cx="0" cy="0" rx="1" ry="1" fill="url(#shd)" transform="translate(1490 420) rotate(32) scale(150 55)"/>
<ellipse cx="0" cy="0" rx="1" ry="1" fill="url(#shd)" transform="translate(1720 405) rotate(25) scale(95 32)"/>
<ellipse cx="0" cy="0" rx="1" ry="1" fill="url(#shd)" transform="translate(1640 462) rotate(-12) scale(90 12)" opacity="0.45"/>
<rect x="1900" y="250" width="96" height="250" fill="url(#flr)"/>
</g>
<rect x="729.6" y="57.2" width="14.8" height="33.4" fill="#ff0000" stroke="none" stroke-width="1" />
<rect x="729.6" y="90.4" width="14.8" height="33.4" fill="#ff8000" stroke="none" stroke-width="1" />
<rect x="729.6" y="123.6" width="14.8" height="33.4" fill="#ffff00" stroke="none" stroke-width="1" />
<rect x="729.6" y="156.8" width="14.8" height="33.4" fill="#80ff00" stroke="none" stroke-width="1" />
<rect x="729.6" y="190" width="14.8" height="33.4" fill="#00ff00" stroke="none" stroke-width="1" />
<rect x="729.6" y="223.2" width="14.8" height="33.4" fill="#00ff80" stroke="none" stroke-width="1" />
<rect x="729.6" y="256.4" width="14.8" height="33.4" fill="#00ffff" stroke="none" stroke-width="1" />
<rect x="729.6" y="289.6" width="14.8" height="33.4" fill="#0080ff" stroke="none" stroke-width="1" />
<rect x="729.6" y="322.8" width="14.8" height="33.2" fill="#0000ff" stroke="none" stroke-width="1" />
<text x="699.5" y="61" font-family="'Liberation Serif','Times New Roman',serif" font-size="24" font-weight="normal" font-style="normal" text-anchor="middle" fill="#000" >max</text>
<text x="700.3" y="367.3" font-family="'Liberation Serif','Times New Roman',serif" font-size="24" font-weight="normal" font-style="normal" text-anchor="middle" fill="#000" >min</text>
<text x="707" y="203.6" font-family="'Liberation Serif','Times New Roman',serif" font-size="24" font-weight="normal" font-style="normal" text-anchor="middle" fill="#000" transform="rotate(-90 707 203.6)" >Radiation pattern</text>
<polygon points="763.1,280.1 1034,185.4 1310.7,281 1310.7,333 1037.3,422.8 763.1,332.1" fill="#8fb094" stroke="none" stroke-width="0" fill-opacity="0.33" />
<polygon points="763.1,316.3 1037.3,407 1310.7,317.2 1034,221.6" fill="#7fa386" stroke="none" stroke-width="0" fill-opacity="0.22" />
<polygon points="763.1,332.1 1037.3,422.8 1310.7,333 1034,237.4" fill="#7fa386" stroke="none" stroke-width="0" fill-opacity="0.16" />
<path d="M763.1 280.1 L1037.3 370.8 L1310.7 281 L1034 185.4ZM763.1 316.3 L1037.3 407 L1310.7 317.2 L1034 221.6ZM763.1 332.1 L1037.3 422.8 L1310.7 333 L1034 237.4ZM763.1 280.1V332.1M1037.3 370.8V422.8M1310.7 281V333M1034 185.4V237.4" fill="none" stroke="#4f6a55" stroke-width="1" stroke-linejoin="round"/>
<rect x="804.7" y="279.7" width="25.6" height="52" fill="#6f9378" stroke="none" stroke-width="0" fill-opacity="0.28"/>
<ellipse cx="817.5" cy="279.7" rx="12.8" ry="4.8" fill="#dfe9df" fill-opacity="0.5" stroke="#4f6a55" stroke-width="0.9"/>
<ellipse cx="817.5" cy="317.4" rx="12.8" ry="4.8" fill="#dfe9df" fill-opacity="0.15" stroke="#4f6a55" stroke-width="0.9"/>
<ellipse cx="817.5" cy="331.7" rx="12.8" ry="4.8" fill="#dfe9df" fill-opacity="0.15" stroke="#4f6a55" stroke-width="0.9"/>
<rect x="1242.7" y="279.7" width="25.6" height="52" fill="#6f9378" stroke="none" stroke-width="0" fill-opacity="0.28"/>
<ellipse cx="1255.5" cy="279.7" rx="12.8" ry="4.8" fill="#dfe9df" fill-opacity="0.5" stroke="#4f6a55" stroke-width="0.9"/>
<ellipse cx="1255.5" cy="317.4" rx="12.8" ry="4.8" fill="#dfe9df" fill-opacity="0.15" stroke="#4f6a55" stroke-width="0.9"/>
<ellipse cx="1255.5" cy="331.7" rx="12.8" ry="4.8" fill="#dfe9df" fill-opacity="0.15" stroke="#4f6a55" stroke-width="0.9"/>
<polygon points="850,297 868,291 884,297 866,303.5" fill="#e03838" stroke="none" stroke-width="0" fill-opacity="0.8" />
<g opacity="0.8"><path d="M861 284V296A3 1.6 0 0 0 867 296V284Z" fill="#22e04a"/>
<rect x="864.72" y="284" width="2.28" height="13" fill="#0fae3a" fill-opacity="0.55"/>
<ellipse cx="864" cy="284" rx="3" ry="1.7" fill="#7af09a" stroke="#1fae45" stroke-width="0.5"/></g>
<g opacity="0.8"><path d="M867 280V292A3 1.6 0 0 0 873 292V280Z" fill="#22e04a"/>
<rect x="870.72" y="280" width="2.28" height="13" fill="#0fae3a" fill-opacity="0.55"/>
<ellipse cx="870" cy="280" rx="3" ry="1.7" fill="#7af09a" stroke="#1fae45" stroke-width="0.5"/></g>
<defs>
<clipPath id="pclip"><path d="M865.61 304.87C863.99 298.73 864.09 294.97 863.65 289.99C863.22 285.01 863 280 863 275C863 270 863.22 264.99 863.65 260.01C864.09 255.03 864.75 250.05 865.61 245.13C866.48 240.21 867.57 235.31 868.86 230.48C870.15 225.66 871.66 220.87 873.37 216.17C875.08 211.48 877 206.84 879.12 202.31C881.23 197.78 883.55 193.33 886.04 189C888.54 184.67 891.24 180.44 894.11 176.34C896.97 172.25 900.03 168.27 903.24 164.44C906.45 160.61 909.84 156.91 913.38 153.38C916.91 149.84 920.61 146.45 924.44 143.24C928.27 140.03 932.25 136.97 936.34 134.11C940.44 131.24 944.67 128.54 949 126.04C953.33 123.55 957.78 121.23 962.31 119.12C966.84 117 971.48 115.08 976.17 113.37C980.87 111.66 985.66 110.15 990.48 108.86C995.31 107.57 1000.21 106.48 1005.13 105.61C1010.05 104.75 1015.03 104.09 1020.01 103.65C1024.99 103.22 1030 103 1035 103C1040 103 1045.01 103.22 1049.99 103.65C1054.97 104.09 1059.95 104.75 1064.87 105.61C1069.79 106.48 1074.69 107.57 1079.52 108.86C1084.34 110.15 1089.13 111.66 1093.83 113.37C1098.52 115.08 1103.16 117 1107.69 119.12C1112.22 121.23 1116.67 123.55 1121 126.04C1125.33 128.54 1129.56 131.24 1133.66 134.11C1137.75 136.97 1141.73 140.03 1145.56 143.24C1149.39 146.45 1153.09 149.84 1156.62 153.38C1160.16 156.91 1163.55 160.61 1166.76 164.44C1169.97 168.27 1173.03 172.25 1175.89 176.34C1178.76 180.44 1181.46 184.67 1183.96 189C1186.45 193.33 1188.77 197.78 1190.88 202.31C1193 206.84 1194.92 211.48 1196.63 216.17C1198.34 220.87 1199.85 225.66 1201.14 230.48C1202.43 235.31 1203.52 240.21 1204.39 245.13C1205.25 250.05 1205.91 255.03 1206.35 260.01C1206.78 264.99 1207 270 1207 275C1207 280 1206.78 285.01 1206.35 289.99C1205.91 294.97 1205.56 300.02 1204.39 304.87C1203.21 309.72 1201.76 312.88 1199.3 319.1C1196.84 325.32 1193.78 334.48 1189.6 342.2C1185.42 349.92 1179.33 358.32 1174.2 365.4C1169.07 372.48 1163.93 378.92 1158.8 384.7C1153.67 390.48 1149.83 394.32 1143.4 400.1C1136.97 405.88 1127.92 412.97 1120.2 419.4C1112.48 425.83 1105.45 432.92 1097.1 438.7C1088.75 444.48 1079.1 449.93 1070.1 454.1C1061.1 458.27 1051.45 461.77 1043.1 463.7C1034.75 465.63 1028.35 466.33 1020 465.7C1011.65 465.07 1001.37 463.12 993 459.9C984.63 456.68 976.88 451.87 969.8 446.4C962.72 440.93 956.92 433.53 950.5 427.1C944.08 420.67 937.72 414.87 931.3 407.8C924.88 400.73 919.08 393.05 912 384.7C904.92 376.35 895.23 367.35 888.8 357.7C882.37 348.05 877.26 335.61 873.4 326.8C869.54 317.99 867.24 311 865.61 304.87Z"/></clipPath>
<clipPath id="lowclip"><rect x="855" y="392" width="360" height="90"/></clipPath>
<clipPath id="fclip"><path d="M860 292A173 54 0 0 0 1210 292V480H860Z"/></clipPath>
<linearGradient id="pbase" gradientUnits="userSpaceOnUse" x1="0" y1="103" x2="0" y2="466">
<stop offset="0" stop-color="#ff1c1c"/><stop offset="0.3" stop-color="#ff100a"/><stop offset="0.46" stop-color="#ff300c"/>
<stop offset="0.58" stop-color="#ff6618"/><stop offset="0.7" stop-color="#fd8a1e"/><stop offset="0.8" stop-color="#ffae10"/>
<stop offset="0.9" stop-color="#fdd808"/><stop offset="0.96" stop-color="#f6f010"/><stop offset="1" stop-color="#d6f832"/></linearGradient>
<radialGradient id="phl" gradientUnits="userSpaceOnUse" cx="1038" cy="168" r="120"><stop offset="0" stop-color="#ff8686"/><stop offset="0.35" stop-color="#ff5a5a" stop-opacity="0.85"/><stop offset="1" stop-color="#ff2a2a" stop-opacity="0"/></radialGradient>
<radialGradient id="pho" gradientUnits="userSpaceOnUse" cx="0" cy="0" r="62"><stop offset="0" stop-color="#ff8c40" stop-opacity="0.95"/><stop offset="1" stop-color="#ff8c40" stop-opacity="0"/></radialGradient>
<radialGradient id="pedge" gradientUnits="userSpaceOnUse" cx="0" cy="0" r="1"><stop offset="0" stop-color="#ff8a18" stop-opacity="0.85"/><stop offset="0.5" stop-color="#ff8a18" stop-opacity="0.45"/><stop offset="1" stop-color="#ff8a18" stop-opacity="0"/></radialGradient>
</defs>
<g clip-path="url(#pclip)">
<rect x="855" y="95" width="360" height="380" fill="url(#pbase)"/>
<ellipse cx="0" cy="0" rx="1" ry="1" fill="url(#pedge)" transform="translate(858 300) scale(42 95)"/>
<ellipse cx="0" cy="0" rx="1" ry="1" fill="url(#pedge)" transform="translate(1212 300) scale(42 95)"/>
<rect x="855" y="95" width="360" height="260" fill="url(#phl)"/>
<rect x="-75" y="-65" width="150" height="130" fill="url(#pho)" transform="translate(960 302)"/>
<rect x="-75" y="-65" width="150" height="130" fill="url(#pho)" transform="translate(1108 303)"/>
<path d="M865.61 304.87C863.99 298.73 864.09 294.97 863.65 289.99C863.22 285.01 863 280 863 275C863 270 863.22 264.99 863.65 260.01C864.09 255.03 864.75 250.05 865.61 245.13C866.48 240.21 867.57 235.31 868.86 230.48C870.15 225.66 871.66 220.87 873.37 216.17C875.08 211.48 877 206.84 879.12 202.31C881.23 197.78 883.55 193.33 886.04 189C888.54 184.67 891.24 180.44 894.11 176.34C896.97 172.25 900.03 168.27 903.24 164.44C906.45 160.61 909.84 156.91 913.38 153.38C916.91 149.84 920.61 146.45 924.44 143.24C928.27 140.03 932.25 136.97 936.34 134.11C940.44 131.24 944.67 128.54 949 126.04C953.33 123.55 957.78 121.23 962.31 119.12C966.84 117 971.48 115.08 976.17 113.37C980.87 111.66 985.66 110.15 990.48 108.86C995.31 107.57 1000.21 106.48 1005.13 105.61C1010.05 104.75 1015.03 104.09 1020.01 103.65C1024.99 103.22 1030 103 1035 103C1040 103 1045.01 103.22 1049.99 103.65C1054.97 104.09 1059.95 104.75 1064.87 105.61C1069.79 106.48 1074.69 107.57 1079.52 108.86C1084.34 110.15 1089.13 111.66 1093.83 113.37C1098.52 115.08 1103.16 117 1107.69 119.12C1112.22 121.23 1116.67 123.55 1121 126.04C1125.33 128.54 1129.56 131.24 1133.66 134.11C1137.75 136.97 1141.73 140.03 1145.56 143.24C1149.39 146.45 1153.09 149.84 1156.62 153.38C1160.16 156.91 1163.55 160.61 1166.76 164.44C1169.97 168.27 1173.03 172.25 1175.89 176.34C1178.76 180.44 1181.46 184.67 1183.96 189C1186.45 193.33 1188.77 197.78 1190.88 202.31C1193 206.84 1194.92 211.48 1196.63 216.17C1198.34 220.87 1199.85 225.66 1201.14 230.48C1202.43 235.31 1203.52 240.21 1204.39 245.13C1205.25 250.05 1205.91 255.03 1206.35 260.01C1206.78 264.99 1207 270 1207 275C1207 280 1206.78 285.01 1206.35 289.99C1205.91 294.97 1205.56 300.02 1204.39 304.87C1203.21 309.72 1201.76 312.88 1199.3 319.1C1196.84 325.32 1193.78 334.48 1189.6 342.2C1185.42 349.92 1179.33 358.32 1174.2 365.4C1169.07 372.48 1163.93 378.92 1158.8 384.7C1153.67 390.48 1149.83 394.32 1143.4 400.1C1136.97 405.88 1127.92 412.97 1120.2 419.4C1112.48 425.83 1105.45 432.92 1097.1 438.7C1088.75 444.48 1079.1 449.93 1070.1 454.1C1061.1 458.27 1051.45 461.77 1043.1 463.7C1034.75 465.63 1028.35 466.33 1020 465.7C1011.65 465.07 1001.37 463.12 993 459.9C984.63 456.68 976.88 451.87 969.8 446.4C962.72 440.93 956.92 433.53 950.5 427.1C944.08 420.67 937.72 414.87 931.3 407.8C924.88 400.73 919.08 393.05 912 384.7C904.92 376.35 895.23 367.35 888.8 357.7C882.37 348.05 877.26 335.61 873.4 326.8C869.54 317.99 867.24 311 865.61 304.87Z" fill="none" stroke="#d4fb3c" stroke-width="9" stroke-opacity="0.55" clip-path="url(#lowclip)"/>
<ellipse cx="1036.2" cy="113.3" rx="1.8" ry="0.9" fill="#5a1010"/>
</g>
<g clip-path="url(#pclip)"><g clip-path="url(#fclip)">
<polygon points="763.1,280.1 1034,185.4 1310.7,281 1310.7,333 1037.3,422.8 763.1,332.1" fill="#8fb094" stroke="none" stroke-width="0" fill-opacity="0.10890000000000001" />
<polygon points="763.1,316.3 1037.3,407 1310.7,317.2 1034,221.6" fill="#7fa386" stroke="none" stroke-width="0" fill-opacity="0.0726" />
<polygon points="763.1,332.1 1037.3,422.8 1310.7,333 1034,237.4" fill="#7fa386" stroke="none" stroke-width="0" fill-opacity="0.05280000000000001" />
<path d="M763.1 280.1 L1037.3 370.8 L1310.7 281 L1034 185.4ZM763.1 316.3 L1037.3 407 L1310.7 317.2 L1034 221.6ZM763.1 332.1 L1037.3 422.8 L1310.7 333 L1034 237.4ZM763.1 280.1V332.1M1037.3 370.8V422.8M1310.7 281V333M1034 185.4V237.4" fill="none" stroke="#4f6a55" stroke-width="1" stroke-linejoin="round"/>
<rect x="804.7" y="279.7" width="25.6" height="52" fill="#6f9378" stroke="none" stroke-width="0" fill-opacity="0.28"/>
<ellipse cx="817.5" cy="279.7" rx="12.8" ry="4.8" fill="#dfe9df" fill-opacity="0.5" stroke="#4f6a55" stroke-width="0.9"/>
<ellipse cx="817.5" cy="317.4" rx="12.8" ry="4.8" fill="#dfe9df" fill-opacity="0.15" stroke="#4f6a55" stroke-width="0.9"/>
<ellipse cx="817.5" cy="331.7" rx="12.8" ry="4.8" fill="#dfe9df" fill-opacity="0.15" stroke="#4f6a55" stroke-width="0.9"/>
<rect x="1242.7" y="279.7" width="25.6" height="52" fill="#6f9378" stroke="none" stroke-width="0" fill-opacity="0.28"/>
<ellipse cx="1255.5" cy="279.7" rx="12.8" ry="4.8" fill="#dfe9df" fill-opacity="0.5" stroke="#4f6a55" stroke-width="0.9"/>
<ellipse cx="1255.5" cy="317.4" rx="12.8" ry="4.8" fill="#dfe9df" fill-opacity="0.15" stroke="#4f6a55" stroke-width="0.9"/>
<ellipse cx="1255.5" cy="331.7" rx="12.8" ry="4.8" fill="#dfe9df" fill-opacity="0.15" stroke="#4f6a55" stroke-width="0.9"/>
</g></g>
<polygon points="850.66,361.12 861.84,356.3 939.93,382.72 929.33,387.73" fill="#ee2222" stroke="none" stroke-width="1" />
<polygon points="932.22,388.5 942.83,384.26 951.5,387.15 940.9,391.59" fill="#ee2222" stroke="none" stroke-width="1" />
<polygon points="948.61,393.52 961.15,388.5 1069.3,402.4 1024,418.6" fill="#ee2222" stroke="none" stroke-width="1" />
<g opacity="0.85"><path d="M874.73 335.8V350.8A3.5 1.6 0 0 0 881.73 350.8V335.8Z" fill="#22e04a"/>
<rect x="879.07" y="335.8" width="2.66" height="16" fill="#0fae3a" fill-opacity="0.55"/>
<ellipse cx="878.23" cy="335.8" rx="3.5" ry="1.7" fill="#7af09a" stroke="#1fae45" stroke-width="0.5"/></g>
<g opacity="0.85"><path d="M872.22 341.01V356.01A3.5 1.6 0 0 0 879.22 356.01V341.01Z" fill="#22e04a"/>
<rect x="876.56" y="341.01" width="2.66" height="16" fill="#0fae3a" fill-opacity="0.55"/>
<ellipse cx="875.72" cy="341.01" rx="3.5" ry="1.7" fill="#7af09a" stroke="#1fae45" stroke-width="0.5"/></g>
<g opacity="0.85"><path d="M885.72 345.64V360.64A3.5 1.6 0 0 0 892.72 360.64V345.64Z" fill="#22e04a"/>
<rect x="890.06" y="345.64" width="2.66" height="16" fill="#0fae3a" fill-opacity="0.55"/>
<ellipse cx="889.22" cy="345.64" rx="3.5" ry="1.7" fill="#7af09a" stroke="#1fae45" stroke-width="0.5"/></g>
<g opacity="1"><path d="M861.81 346.41V361.41A3.5 1.6 0 0 0 868.81 361.41V346.41Z" fill="#22e04a"/>
<rect x="866.15" y="346.41" width="2.66" height="16" fill="#0fae3a" fill-opacity="0.55"/>
<ellipse cx="865.31" cy="346.41" rx="3.5" ry="1.7" fill="#7af09a" stroke="#1fae45" stroke-width="0.5"/></g>
<g opacity="1"><path d="M875.69 351.23V366.23A3.5 1.6 0 0 0 882.69 366.23V351.23Z" fill="#22e04a"/>
<rect x="880.03" y="351.23" width="2.66" height="16" fill="#0fae3a" fill-opacity="0.55"/>
<ellipse cx="879.19" cy="351.23" rx="3.5" ry="1.7" fill="#7af09a" stroke="#1fae45" stroke-width="0.5"/></g>
<g opacity="1"><path d="M890.16 356.05V371.05A3.5 1.6 0 0 0 897.16 371.05V356.05Z" fill="#22e04a"/>
<rect x="894.5" y="356.05" width="2.66" height="16" fill="#0fae3a" fill-opacity="0.55"/>
<ellipse cx="893.66" cy="356.05" rx="3.5" ry="1.7" fill="#7af09a" stroke="#1fae45" stroke-width="0.5"/></g>
<g opacity="1"><path d="M904.62 360.87V375.87A3.5 1.6 0 0 0 911.62 375.87V360.87Z" fill="#22e04a"/>
<rect x="908.96" y="360.87" width="2.66" height="16" fill="#0fae3a" fill-opacity="0.55"/>
<ellipse cx="908.12" cy="360.87" rx="3.5" ry="1.7" fill="#7af09a" stroke="#1fae45" stroke-width="0.5"/></g>
<g opacity="1"><path d="M919.47 365.69V380.69A3.5 1.6 0 0 0 926.47 380.69V365.69Z" fill="#22e04a"/>
<rect x="923.81" y="365.69" width="2.66" height="16" fill="#0fae3a" fill-opacity="0.55"/>
<ellipse cx="922.97" cy="365.69" rx="3.5" ry="1.7" fill="#7af09a" stroke="#1fae45" stroke-width="0.5"/></g>
<g opacity="0.85"><path d="M982.71 372.44V387.44A3.5 1.6 0 0 0 989.71 387.44V372.44Z" fill="#22e04a"/>
<rect x="987.05" y="372.44" width="2.66" height="16" fill="#0fae3a" fill-opacity="0.55"/>
<ellipse cx="986.21" cy="372.44" rx="3.5" ry="1.7" fill="#7af09a" stroke="#1fae45" stroke-width="0.5"/></g>
<g opacity="0.85"><path d="M1009.71 373.4V388.4A3.5 1.6 0 0 0 1016.71 388.4V373.4Z" fill="#22e04a"/>
<rect x="1014.05" y="373.4" width="2.66" height="16" fill="#0fae3a" fill-opacity="0.55"/>
<ellipse cx="1013.21" cy="373.4" rx="3.5" ry="1.7" fill="#7af09a" stroke="#1fae45" stroke-width="0.5"/></g>
<g opacity="0.85"><path d="M970.56 375.72V390.72A3.5 1.6 0 0 0 977.56 390.72V375.72Z" fill="#22e04a"/>
<rect x="974.9" y="375.72" width="2.66" height="16" fill="#0fae3a" fill-opacity="0.55"/>
<ellipse cx="974.06" cy="375.72" rx="3.5" ry="1.7" fill="#7af09a" stroke="#1fae45" stroke-width="0.5"/></g>
<g opacity="0.85"><path d="M997.17 376.88V391.88A3.5 1.6 0 0 0 1004.17 391.88V376.88Z" fill="#22e04a"/>
<rect x="1001.51" y="376.88" width="2.66" height="16" fill="#0fae3a" fill-opacity="0.55"/>
<ellipse cx="1000.67" cy="376.88" rx="3.5" ry="1.7" fill="#7af09a" stroke="#1fae45" stroke-width="0.5"/></g>
<g opacity="0.85"><path d="M1023.21 378.23V393.23A3.5 1.6 0 0 0 1030.21 393.23V378.23Z" fill="#22e04a"/>
<rect x="1027.55" y="378.23" width="2.66" height="16" fill="#0fae3a" fill-opacity="0.55"/>
<ellipse cx="1026.71" cy="378.23" rx="3.5" ry="1.7" fill="#7af09a" stroke="#1fae45" stroke-width="0.5"/></g>
<g opacity="1"><path d="M959.57 379.19V394.19A3.5 1.6 0 0 0 966.57 394.19V379.19Z" fill="#22e04a"/>
<rect x="963.91" y="379.19" width="2.66" height="16" fill="#0fae3a" fill-opacity="0.55"/>
<ellipse cx="963.07" cy="379.19" rx="3.5" ry="1.7" fill="#7af09a" stroke="#1fae45" stroke-width="0.5"/></g>
<g opacity="0.85"><path d="M985.22 380.15V395.15A3.5 1.6 0 0 0 992.22 395.15V380.15Z" fill="#22e04a"/>
<rect x="989.56" y="380.15" width="2.66" height="16" fill="#0fae3a" fill-opacity="0.55"/>
<ellipse cx="988.72" cy="380.15" rx="3.5" ry="1.7" fill="#7af09a" stroke="#1fae45" stroke-width="0.5"/></g>
<g opacity="0.85"><path d="M1011.06 381.5V396.5A3.5 1.6 0 0 0 1018.06 396.5V381.5Z" fill="#22e04a"/>
<rect x="1015.4" y="381.5" width="2.66" height="16" fill="#0fae3a" fill-opacity="0.55"/>
<ellipse cx="1014.56" cy="381.5" rx="3.5" ry="1.7" fill="#7af09a" stroke="#1fae45" stroke-width="0.5"/></g>
<g opacity="0.85"><path d="M1036.7 383.05V398.05A3.5 1.6 0 0 0 1043.7 398.05V383.05Z" fill="#22e04a"/>
<rect x="1041.04" y="383.05" width="2.66" height="16" fill="#0fae3a" fill-opacity="0.55"/>
<ellipse cx="1040.2" cy="383.05" rx="3.5" ry="1.7" fill="#7af09a" stroke="#1fae45" stroke-width="0.5"/></g>
<g opacity="1"><path d="M974.04 384.01V399.01A3.5 1.6 0 0 0 981.04 399.01V384.01Z" fill="#22e04a"/>
<rect x="978.38" y="384.01" width="2.66" height="16" fill="#0fae3a" fill-opacity="0.55"/>
<ellipse cx="977.54" cy="384.01" rx="3.5" ry="1.7" fill="#7af09a" stroke="#1fae45" stroke-width="0.5"/></g>
<g opacity="0.85"><path d="M999.49 384.97V399.97A3.5 1.6 0 0 0 1006.49 399.97V384.97Z" fill="#22e04a"/>
<rect x="1003.83" y="384.97" width="2.66" height="16" fill="#0fae3a" fill-opacity="0.55"/>
<ellipse cx="1002.99" cy="384.97" rx="3.5" ry="1.7" fill="#7af09a" stroke="#1fae45" stroke-width="0.5"/></g>
<g opacity="0.85"><path d="M1025.52 386.52V401.52A3.5 1.6 0 0 0 1032.52 401.52V386.52Z" fill="#22e04a"/>
<rect x="1029.86" y="386.52" width="2.66" height="16" fill="#0fae3a" fill-opacity="0.55"/>
<ellipse cx="1029.02" cy="386.52" rx="3.5" ry="1.7" fill="#7af09a" stroke="#1fae45" stroke-width="0.5"/></g>
<g opacity="0.85"><path d="M1051.17 387.29V402.29A3.5 1.6 0 0 0 1058.17 402.29V387.29Z" fill="#22e04a"/>
<rect x="1055.51" y="387.29" width="2.66" height="16" fill="#0fae3a" fill-opacity="0.55"/>
<ellipse cx="1054.67" cy="387.29" rx="3.5" ry="1.7" fill="#7af09a" stroke="#1fae45" stroke-width="0.5"/></g>
<g opacity="1"><path d="M988.5 388.83V403.83A3.5 1.6 0 0 0 995.5 403.83V388.83Z" fill="#22e04a"/>
<rect x="992.84" y="388.83" width="2.66" height="16" fill="#0fae3a" fill-opacity="0.55"/>
<ellipse cx="992" cy="388.83" rx="3.5" ry="1.7" fill="#7af09a" stroke="#1fae45" stroke-width="0.5"/></g>
<g opacity="0.85"><path d="M1014.14 389.99V404.99A3.5 1.6 0 0 0 1021.14 404.99V389.99Z" fill="#22e04a"/>
<rect x="1018.48" y="389.99" width="2.66" height="16" fill="#0fae3a" fill-opacity="0.55"/>
<ellipse cx="1017.64" cy="389.99" rx="3.5" ry="1.7" fill="#7af09a" stroke="#1fae45" stroke-width="0.5"/></g>
<g opacity="0.85"><path d="M1039.6 391.15V406.15A3.5 1.6 0 0 0 1046.6 406.15V391.15Z" fill="#22e04a"/>
<rect x="1043.94" y="391.15" width="2.66" height="16" fill="#0fae3a" fill-opacity="0.55"/>
<ellipse cx="1043.1" cy="391.15" rx="3.5" ry="1.7" fill="#7af09a" stroke="#1fae45" stroke-width="0.5"/></g>
<g opacity="1"><path d="M1002.96 393.65V408.65A3.5 1.6 0 0 0 1009.96 408.65V393.65Z" fill="#22e04a"/>
<rect x="1007.3" y="393.65" width="2.66" height="16" fill="#0fae3a" fill-opacity="0.55"/>
<ellipse cx="1006.46" cy="393.65" rx="3.5" ry="1.7" fill="#7af09a" stroke="#1fae45" stroke-width="0.5"/></g>
<g opacity="0.85"><path d="M1028.61 395V410A3.5 1.6 0 0 0 1035.61 410V395Z" fill="#22e04a"/>
<rect x="1032.95" y="395" width="2.66" height="16" fill="#0fae3a" fill-opacity="0.55"/>
<ellipse cx="1032.11" cy="395" rx="3.5" ry="1.7" fill="#7af09a" stroke="#1fae45" stroke-width="0.5"/></g>
<g opacity="1"><path d="M1017.42 399.44V414.44A3.5 1.6 0 0 0 1024.42 414.44V399.44Z" fill="#22e04a"/>
<rect x="1021.76" y="399.44" width="2.66" height="16" fill="#0fae3a" fill-opacity="0.55"/>
<ellipse cx="1020.92" cy="399.44" rx="3.5" ry="1.7" fill="#7af09a" stroke="#1fae45" stroke-width="0.5"/></g>
<path d="M763.1 316.3L1037.3 407M1037.3 407L1310.7 317.2M763.1 332.1L1037.3 422.8L1310.7 333M1037.3 370.8V422.8" fill="none" stroke="#4f6a55" stroke-width="1" stroke-opacity="0.9"/>
<polygon points="1416.1,198.2 1279.8,225.3 1277.6,218.5 1233.1,247.1 1286.6,249.4 1284.3,241.6" fill="#f8ccae" stroke="none" stroke-width="1" />
<polygon points="1625.9,92.9 1700,91.5 1836.3,96.9 1765,98.4" fill="#f6b88a" stroke="none" stroke-width="1" />
<polygon points="1625.9,92.9 1765,98.4 1755,424 1640,367.5" fill="#c48e62" stroke="none" stroke-width="1" />
<polygon points="1625.9,92.9 1765,98.4 1755,424 1640,367.5" fill="#3a2410" stroke="none" stroke-width="0" fill-opacity="0.16" filter="url(#noise)"/>
<polygon points="1765,98.4 1836.3,96.9 1822.9,410.6 1755,424" fill="url(#tside)" stroke="none" stroke-width="1" />
<polygon points="1669,127.5 1706,128.5 1706,119 1735.8,120.5 1732,388 1700,399 1669,383" fill="url(#rec)" stroke="none" stroke-width="1" />
<polygon points="1669,127.5 1706,128.5 1706,119 1735.8,120.5 1732,388 1700,399 1669,383" fill="#000" stroke="none" stroke-width="0" fill-opacity="0.55" filter="url(#noise)"/>
<polygon points="1706,119 1735.5,120.5 1735.5,136.5 1706,135" fill="#1c120a" stroke="none" stroke-width="0" fill-opacity="0.75" />
<polygon points="1669,129 1710,132.5 1710,136.5 1669,138.5" fill="#b9b9bc" stroke="none" stroke-width="0" fill-opacity="0.95" />
<polygon points="1735.5,135.8 1757,138.8 1757,144.2 1735.5,141.2" fill="#120c08" stroke="none" stroke-width="1" />
<polygon points="1709,128 1716,128.7 1716,139.5 1709,138.8" fill="#14a0aa" stroke="none" stroke-width="1" />
<ellipse cx="1723" cy="134" rx="7.5" ry="4.6" fill="#1e8f24" transform="rotate(8 1723 134)"/>
<ellipse cx="1731" cy="135.5" rx="3.2" ry="2" fill="#c02818"/>
<polygon points="1705.57,155.14 1735,156.64 1735,172.5 1705.57,171" fill="#1c120a" stroke="none" stroke-width="0" fill-opacity="0.75" />
<polygon points="1669,165.43 1709.57,168.79 1709.57,172.79 1669,175.21" fill="#b9b9bc" stroke="none" stroke-width="0" fill-opacity="0.95" />
<polygon points="1735,171.8 1756.29,174.8 1756.29,180.2 1735,177.2" fill="#120c08" stroke="none" stroke-width="1" />
<polygon points="1708.57,164 1715.57,164.7 1715.57,175.5 1708.57,174.8" fill="#14a0aa" stroke="none" stroke-width="1" />
<ellipse cx="1722.57" cy="170" rx="7.5" ry="4.6" fill="#1e8f24" transform="rotate(8 1722.57 170)"/>
<ellipse cx="1730.57" cy="171.5" rx="3.2" ry="2" fill="#c02818"/>
<polygon points="1705.14,191.69 1734.5,193.19 1734.5,208.9 1705.14,207.4" fill="#1c120a" stroke="none" stroke-width="0" fill-opacity="0.75" />
<polygon points="1669,202.26 1709.14,205.47 1709.14,209.47 1669,212.33" fill="#b9b9bc" stroke="none" stroke-width="0" fill-opacity="0.95" />
<polygon points="1734.5,208.2 1755.57,211.2 1755.57,216.6 1734.5,213.6" fill="#120c08" stroke="none" stroke-width="1" />
<polygon points="1708.14,200.4 1715.14,201.1 1715.14,211.9 1708.14,211.2" fill="#14a0aa" stroke="none" stroke-width="1" />
<ellipse cx="1722.14" cy="206.4" rx="7.5" ry="4.6" fill="#1e8f24" transform="rotate(8 1722.14 206.4)"/>
<ellipse cx="1730.14" cy="207.9" rx="3.2" ry="2" fill="#c02818"/>
<polygon points="1704.71,227.63 1734,229.13 1734,244.7 1704.71,243.2" fill="#1c120a" stroke="none" stroke-width="0" fill-opacity="0.75" />
<polygon points="1669,238.49 1708.71,241.56 1708.71,245.56 1669,248.84" fill="#b9b9bc" stroke="none" stroke-width="0" fill-opacity="0.95" />
<polygon points="1734,244 1754.86,247 1754.86,252.4 1734,249.4" fill="#120c08" stroke="none" stroke-width="1" />
<polygon points="1707.71,236.2 1714.71,236.9 1714.71,247.7 1707.71,247" fill="#14a0aa" stroke="none" stroke-width="1" />
<ellipse cx="1721.71" cy="242.2" rx="7.5" ry="4.6" fill="#1e8f24" transform="rotate(8 1721.71 242.2)"/>
<ellipse cx="1729.71" cy="243.7" rx="3.2" ry="2" fill="#c02818"/>
<polygon points="1704.29,263.57 1733.5,265.07 1733.5,280.5 1704.29,279" fill="#1c120a" stroke="none" stroke-width="0" fill-opacity="0.75" />
<polygon points="1669,274.71 1708.29,277.64 1708.29,281.64 1669,285.36" fill="#b9b9bc" stroke="none" stroke-width="0" fill-opacity="0.95" />
<polygon points="1733.5,279.8 1754.14,282.8 1754.14,288.2 1733.5,285.2" fill="#120c08" stroke="none" stroke-width="1" />
<polygon points="1707.29,272 1714.29,272.7 1714.29,283.5 1707.29,282.8" fill="#14a0aa" stroke="none" stroke-width="1" />
<ellipse cx="1721.29" cy="278" rx="7.5" ry="4.6" fill="#1e8f24" transform="rotate(8 1721.29 278)"/>
<ellipse cx="1729.29" cy="279.5" rx="3.2" ry="2" fill="#c02818"/>
<polygon points="1703.86,297.71 1733,299.21 1733,314.5 1703.86,313" fill="#1c120a" stroke="none" stroke-width="0" fill-opacity="0.75" />
<polygon points="1669,309.14 1707.86,311.93 1707.86,315.93 1669,320.07" fill="#b9b9bc" stroke="none" stroke-width="0" fill-opacity="0.95" />
<polygon points="1733,313.8 1753.43,316.8 1753.43,322.2 1733,319.2" fill="#120c08" stroke="none" stroke-width="1" />
<polygon points="1706.86,306 1713.86,306.7 1713.86,317.5 1706.86,316.8" fill="#14a0aa" stroke="none" stroke-width="1" />
<ellipse cx="1720.86" cy="312" rx="7.5" ry="4.6" fill="#1e8f24" transform="rotate(8 1720.86 312)"/>
<ellipse cx="1728.86" cy="313.5" rx="3.2" ry="2" fill="#c02818"/>
<polygon points="1703.43,331.86 1732.5,333.36 1732.5,348.5 1703.43,347" fill="#1c120a" stroke="none" stroke-width="0" fill-opacity="0.75" />
<polygon points="1669,343.57 1707.43,346.21 1707.43,350.21 1669,354.79" fill="#b9b9bc" stroke="none" stroke-width="0" fill-opacity="0.95" />
<polygon points="1732.5,347.8 1752.71,350.8 1752.71,356.2 1732.5,353.2" fill="#120c08" stroke="none" stroke-width="1" />
<polygon points="1706.43,340 1713.43,340.7 1713.43,351.5 1706.43,350.8" fill="#14a0aa" stroke="none" stroke-width="1" />
<ellipse cx="1720.43" cy="346" rx="7.5" ry="4.6" fill="#1e8f24" transform="rotate(8 1720.43 346)"/>
<ellipse cx="1728.43" cy="347.5" rx="3.2" ry="2" fill="#c02818"/>
<polygon points="1703,367 1732,368.5 1732,383.5 1703,382" fill="#1c120a" stroke="none" stroke-width="0" fill-opacity="0.75" />
<polygon points="1669,379 1707,381.5 1707,385.5 1669,390.5" fill="#b9b9bc" stroke="none" stroke-width="0" fill-opacity="0.95" />
<polygon points="1732,382.8 1752,385.8 1752,391.2 1732,388.2" fill="#120c08" stroke="none" stroke-width="1" />
<polygon points="1706,375 1713,375.7 1713,386.5 1706,385.8" fill="#14a0aa" stroke="none" stroke-width="1" />
<ellipse cx="1720" cy="381" rx="7.5" ry="4.6" fill="#1e8f24" transform="rotate(8 1720 381)"/>
<ellipse cx="1728" cy="382.5" rx="3.2" ry="2" fill="#c02818"/>
<line x1="1736" y1="134" x2="1669" y2="207" stroke="#e8141c" stroke-width="2.3" stroke-linecap="round"/>
<line x1="1735" y1="171" x2="1669" y2="246" stroke="#e8141c" stroke-width="2.3" stroke-linecap="round"/>
<line x1="1733" y1="201" x2="1669" y2="206" stroke="#e8141c" stroke-width="2.3" stroke-linecap="round"/>
<line x1="1732" y1="237" x2="1669" y2="244" stroke="#e8141c" stroke-width="2.3" stroke-linecap="round"/>
<line x1="1731" y1="272" x2="1669" y2="279" stroke="#e8141c" stroke-width="2.3" stroke-linecap="round"/>
<line x1="1730" y1="307" x2="1669" y2="318" stroke="#e8141c" stroke-width="2.3" stroke-linecap="round"/>
<line x1="1730" y1="335" x2="1669" y2="292" stroke="#e8141c" stroke-width="2.3" stroke-linecap="round"/>
<line x1="1730" y1="366" x2="1669" y2="294" stroke="#e8141c" stroke-width="2.3" stroke-linecap="round"/>
<line x1="1730" y1="303" x2="1669" y2="318" stroke="#e8141c" stroke-width="2.3" stroke-linecap="round"/>
<polygon points="1424.4,102 1525,100.4 1669.5,108.9 1547,111.5" fill="#04d008" stroke="none" stroke-width="1" />
<polygon points="1547,111.5 1669.5,108.9 1669.5,441.7 1553.2,468" fill="url(#gside)" stroke="none" stroke-width="1" />
<polygon points="1424.4,102 1547,111.5 1553.2,468 1435.3,384.4" fill="url(#gfront)" stroke="none" stroke-width="1" />
<polygon points="1424.4,102 1547,111.5 1553.2,468 1435.3,384.4" fill="#000" stroke="none" stroke-width="0" fill-opacity="0.1" filter="url(#noise)"/>
<polygon points="1438.92,186.1 1442.5,186.75 1442.5,202.62 1438.92,201.97" fill="#2cd0d8" stroke="none" stroke-width="0" />
<polygon points="1434.79,186.1 1441.12,187.25 1441.12,201.52 1434.79,200.37" fill="#c08010" stroke="none" stroke-width="0" />
<polygon points="1433.41,184.72 1439.74,185.86 1439.74,199.87 1433.41,198.73" fill="#e8a018" stroke="none" stroke-width="0" />
<polygon points="1448.28,156.08 1458.47,157.54 1458.47,165.17 1448.28,163.7" fill="#a09878" stroke="none" stroke-width="0" />
<polygon points="1448.83,137.08 1459.57,138.37 1459.57,143.13 1448.83,141.84" fill="#0a3a0a" stroke="none" stroke-width="0" />
<polygon points="1445.8,164.06 1460.95,166.35 1460.95,169.57 1445.8,167.29" fill="#2cd0d8" stroke="none" stroke-width="0" />
<polygon points="1448.83,142.86 1461.5,144.53 1461.5,158.01 1448.83,156.33" fill="#c08010" stroke="none" stroke-width="0" />
<polygon points="1447.18,142.03 1459.57,143.66 1459.57,157.18 1447.18,155.56" fill="#e8a018" stroke="none" stroke-width="0" />
<polygon points="1442.77,168.47 1465.63,172.62 1465.63,218.04 1442.77,213.9" fill="#003c00" stroke="none" stroke-width="0" fill-opacity="0.35" />
<polygon points="1443.87,167.92 1464.53,171.64 1464.53,215.84 1443.87,212.13" fill="#7c7a58" stroke="none" stroke-width="0" />
<polygon points="1441.67,166.82 1462.33,170.49 1462.33,213.64 1441.67,209.96" fill="#9c9870" stroke="none" stroke-width="0" />
<polygon points="1444.43,177.84 1454.06,179.56 1454.06,204 1444.43,202.28" fill="#e6e6ea" stroke="none" stroke-width="0" />
<ellipse cx="1444.98" cy="171.5" rx="1.5" ry="2" fill="#101a80"/>
<ellipse cx="1459.02" cy="209.89" rx="1.5" ry="2" fill="#101a80"/>
<polygon points="1495.1,167.09 1506.67,168.9 1506.67,176.18 1495.1,174.37" fill="#a09878" stroke="none" stroke-width="0" />
<polygon points="1495.65,145.34 1507.77,146.91 1507.77,151.4 1495.65,149.83" fill="#0a3a0a" stroke="none" stroke-width="0" />
<polygon points="1492.62,175.08 1509.15,177.8 1509.15,181.97 1492.62,179.25" fill="#2cd0d8" stroke="none" stroke-width="0" />
<polygon points="1495.65,151.12 1509.7,153.13 1509.7,169.02 1495.65,167.01" fill="#c08010" stroke="none" stroke-width="0" />
<polygon points="1494,150.29 1507.77,152.25 1507.77,168.2 1494,166.24" fill="#e8a018" stroke="none" stroke-width="0" />
<polygon points="1492.35,180.86 1520.71,186.53 1520.71,237.32 1492.35,231.66" fill="#003c00" stroke="none" stroke-width="0" fill-opacity="0.35" />
<polygon points="1493.45,180.31 1519.61,185.5 1519.61,235.12 1493.45,229.94" fill="#7c7a58" stroke="none" stroke-width="0" />
<polygon points="1491.24,179.21 1517.41,184.35 1517.41,232.92 1491.24,227.78" fill="#9c9870" stroke="none" stroke-width="0" />
<polygon points="1495.38,191.61 1507.77,194.04 1507.77,220.52 1495.38,218.09" fill="#e6e6ea" stroke="none" stroke-width="0" />
<ellipse cx="1495.43" cy="184.58" rx="1.5" ry="2" fill="#101a80"/>
<ellipse cx="1513.22" cy="228.62" rx="1.5" ry="2" fill="#101a80"/>
<polygon points="1509.7,206.75 1518.79,208.64 1518.79,226.03 1509.7,224.14" fill="#2cd0d8" stroke="none" stroke-width="0" />
<polygon points="1517.41,209.51 1533.93,213 1533.93,229.06 1517.41,225.57" fill="#c08010" stroke="none" stroke-width="0" />
<polygon points="1516.03,208.13 1532.56,211.6 1532.56,227.41 1516.03,223.94" fill="#e8a018" stroke="none" stroke-width="0" />
<polygon points="1466.18,207.03 1475,208.81 1475,216.12 1466.18,214.33" fill="#a09878" stroke="none" stroke-width="0" />
<polygon points="1466.73,185.27 1476.1,186.92 1476.1,191.33 1466.73,189.68" fill="#0a3a0a" stroke="none" stroke-width="0" />
<polygon points="1463.7,215.02 1474.72,217.33 1474.72,220.52 1463.7,218.21" fill="#2cd0d8" stroke="none" stroke-width="0" />
<polygon points="1466.73,191.05 1478.03,193.19 1478.03,208.96 1466.73,206.82" fill="#c08010" stroke="none" stroke-width="0" />
<polygon points="1465.08,190.23 1476.1,192.3 1476.1,208.13 1465.08,206.06" fill="#e8a018" stroke="none" stroke-width="0" />
<polygon points="1478.58,212.54 1488.77,214.66 1488.77,220.25 1478.58,218.13" fill="#a09878" stroke="none" stroke-width="0" />
<polygon points="1479.13,190.78 1489.87,192.74 1489.87,196.84 1479.13,194.88" fill="#0a3a0a" stroke="none" stroke-width="0" />
<polygon points="1476.1,219.15 1491.24,222.4 1491.24,224.65 1476.1,221.41" fill="#2cd0d8" stroke="none" stroke-width="0" />
<polygon points="1479.13,196.56 1491.8,199.04 1491.8,214.46 1479.13,211.99" fill="#c08010" stroke="none" stroke-width="0" />
<polygon points="1477.47,195.74 1489.87,198.15 1489.87,213.64 1477.47,211.23" fill="#e8a018" stroke="none" stroke-width="0" />
<polygon points="1455.44,234.29 1459.57,235.28 1459.57,250.82 1455.44,249.83" fill="#2cd0d8" stroke="none" stroke-width="0" />
<polygon points="1451.31,234.29 1456.82,235.61 1456.82,251.09 1451.31,249.78" fill="#c08010" stroke="none" stroke-width="0" />
<polygon points="1449.93,232.92 1455.44,234.22 1455.44,249.44 1449.93,248.14" fill="#e8a018" stroke="none" stroke-width="0" />
<polygon points="1456.27,265.97 1460.67,267.18 1460.67,283.04 1456.27,281.83" fill="#2cd0d8" stroke="none" stroke-width="0" />
<polygon points="1452.14,265.97 1458.75,267.79 1458.75,284.14 1452.14,282.32" fill="#c08010" stroke="none" stroke-width="0" />
<polygon points="1450.76,264.59 1457.37,266.4 1457.37,282.49 1450.76,280.68" fill="#e8a018" stroke="none" stroke-width="0" />
<polygon points="1470.31,313.06 1479.13,315.91 1479.13,319.39 1470.31,316.54" fill="#a09878" stroke="none" stroke-width="0" />
<polygon points="1466.46,308.65 1474.72,311.28 1474.72,314.16 1466.46,311.54" fill="#2cd0d8" stroke="none" stroke-width="0" />
<polygon points="1470.86,319.12 1482.16,322.92 1482.16,337.02 1470.86,333.21" fill="#c08010" stroke="none" stroke-width="0" />
<polygon points="1469.21,318.29 1480.23,321.99 1480.23,336.19 1469.21,332.49" fill="#e8a018" stroke="none" stroke-width="0" />
<polygon points="1483.26,319.94 1492.9,323.14 1492.9,326.28 1483.26,323.09" fill="#a09878" stroke="none" stroke-width="0" />
<polygon points="1478.85,315.54 1488.49,318.68 1488.49,321.05 1478.85,317.91" fill="#2cd0d8" stroke="none" stroke-width="0" />
<polygon points="1483.81,326 1495.93,330.19 1495.93,345.28 1483.81,341.09" fill="#c08010" stroke="none" stroke-width="0" />
<polygon points="1482.16,325.18 1494,329.26 1494,344.46 1482.16,340.37" fill="#e8a018" stroke="none" stroke-width="0" />
<polygon points="1460.67,223.55 1502.81,235.08 1502.81,322.7 1460.67,311.17" fill="#003c00" stroke="none" stroke-width="0" fill-opacity="0.35" />
<polygon points="1461.78,224.1 1501.71,234.99 1501.71,320.5 1461.78,309.61" fill="#7c7a58" stroke="none" stroke-width="0" />
<polygon points="1458.2,219.15 1499.51,224.1 1499.51,318.29 1458.2,313.34" fill="#9c9870" stroke="none" stroke-width="0" />
<polygon points="1462.33,231.54 1471.97,233.84 1471.97,254.95 1462.33,252.64" fill="#e6e6ea" stroke="none" stroke-width="0" />
<polygon points="1478.85,234.29 1488.49,236.66 1488.49,263.21 1478.85,260.84" fill="#e6e6ea" stroke="none" stroke-width="0" />
<polygon points="1463.7,272.85 1473.34,275.63 1473.34,299.01 1463.7,296.23" fill="#e6e6ea" stroke="none" stroke-width="0" />
<polygon points="1480.23,279.74 1491.24,283.03 1491.24,310.03 1480.23,306.74" fill="#e6e6ea" stroke="none" stroke-width="0" />
<line x1="1476.1" y1="223.28" x2="1477.47" y2="314.16" stroke="#5c5a40" stroke-width="0.8" />
<line x1="1459.02" y1="261.83" x2="1499.51" y2="270.1" stroke="#5c5a40" stroke-width="0.8" />
<ellipse cx="1473.89" cy="261.83" rx="1.4" ry="1.9" fill="#101a80"/>
<ellipse cx="1477.47" cy="262.66" rx="1.4" ry="1.9" fill="#101a80"/>
<ellipse cx="1473.89" cy="270.92" rx="1.4" ry="1.9" fill="#101a80"/>
<ellipse cx="1477.47" cy="272.02" rx="1.4" ry="1.9" fill="#101a80"/>
<ellipse cx="1460.12" cy="223.28" rx="1.4" ry="1.9" fill="#101a80"/>
<ellipse cx="1489.32" cy="231.54" rx="1.4" ry="1.9" fill="#101a80"/>
<ellipse cx="1460.95" cy="299.01" rx="1.4" ry="1.9" fill="#101a80"/>
<ellipse cx="1492.62" cy="316.09" rx="1.4" ry="1.9" fill="#101a80"/>
<polygon points="1491.24,249.44 1499.51,251.57 1499.51,268.72 1491.24,266.59" fill="#2cd0d8" stroke="none" stroke-width="0" />
<polygon points="1499.51,253.57 1514.65,257.53 1514.65,271.75 1499.51,267.79" fill="#c08010" stroke="none" stroke-width="0" />
<polygon points="1498.13,252.19 1513.28,256.13 1513.28,270.1 1498.13,266.16" fill="#e8a018" stroke="none" stroke-width="0" />
<polygon points="1492.62,283.87 1500.88,286.32 1500.88,303.15 1492.62,300.69" fill="#2cd0d8" stroke="none" stroke-width="0" />
<polygon points="1500.88,288 1515.48,292.4 1515.48,306.17 1500.88,301.78" fill="#c08010" stroke="none" stroke-width="0" />
<polygon points="1499.51,286.62 1514.1,290.99 1514.1,304.52 1499.51,300.15" fill="#e8a018" stroke="none" stroke-width="0" />
<polygon points="1443.6,301.77 1447.18,302.9 1447.18,318.29 1443.6,317.16" fill="#2cd0d8" stroke="none" stroke-width="0" />
<polygon points="1439.74,300.39 1445.8,302.3 1445.8,318.57 1439.74,316.66" fill="#c08010" stroke="none" stroke-width="0" />
<polygon points="1438.37,299.01 1444.43,300.92 1444.43,316.92 1438.37,315.01" fill="#e8a018" stroke="none" stroke-width="0" />
<polygon points="1456.54,350.24 1465.36,353.45 1465.36,353.82 1456.54,350.61" fill="#a09878" stroke="none" stroke-width="0" />
<polygon points="1452.69,344.46 1466.46,349.41 1466.46,351.34 1452.69,346.39" fill="#2cd0d8" stroke="none" stroke-width="0" />
<polygon points="1457.09,353.54 1468.39,357.79 1468.39,370.07 1457.09,365.82" fill="#c08010" stroke="none" stroke-width="0" />
<polygon points="1455.44,352.72 1466.46,356.85 1466.46,369.24 1455.44,365.11" fill="#e8a018" stroke="none" stroke-width="0" />
<polygon points="1446.9,297.91 1469.76,305.51 1469.76,350.24 1446.9,342.64" fill="#003c00" stroke="none" stroke-width="0" fill-opacity="0.35" />
<polygon points="1448.01,297.36 1468.66,304.19 1468.66,348.04 1448.01,341.2" fill="#7c7a58" stroke="none" stroke-width="0" />
<polygon points="1445.8,296.26 1466.46,303.05 1466.46,345.83 1445.8,339.04" fill="#9c9870" stroke="none" stroke-width="0" />
<polygon points="1449.93,308.65 1459.57,311.85 1459.57,337.57 1449.93,334.38" fill="#e6e6ea" stroke="none" stroke-width="0" />
<ellipse cx="1449.11" cy="301.22" rx="1.5" ry="2" fill="#101a80"/>
<ellipse cx="1463.15" cy="341.87" rx="1.5" ry="2" fill="#101a80"/>
<polygon points="1501.99,377.78 1513.55,382.39 1513.55,385.49 1501.99,380.88" fill="#a09878" stroke="none" stroke-width="0" />
<polygon points="1498.13,372 1513.28,377.93 1513.28,378.88 1498.13,372.95" fill="#2cd0d8" stroke="none" stroke-width="0" />
<polygon points="1502.54,385.22 1516.58,391.02 1516.58,403.12 1502.54,397.31" fill="#c08010" stroke="none" stroke-width="0" />
<polygon points="1500.88,384.39 1514.65,390.07 1514.65,402.29 1500.88,396.61" fill="#e8a018" stroke="none" stroke-width="0" />
<polygon points="1497.03,325.45 1524.84,335.67 1524.84,383.29 1497.03,373.07" fill="#003c00" stroke="none" stroke-width="0" fill-opacity="0.35" />
<polygon points="1498.13,324.9 1523.74,334.27 1523.74,381.09 1498.13,371.72" fill="#7c7a58" stroke="none" stroke-width="0" />
<polygon points="1495.93,323.8 1521.54,333.12 1521.54,378.88 1495.93,369.56" fill="#9c9870" stroke="none" stroke-width="0" />
<polygon points="1499.51,336.19 1511.35,340.5 1511.35,366.49 1499.51,362.18" fill="#e6e6ea" stroke="none" stroke-width="0" />
<ellipse cx="1500.02" cy="329.31" rx="1.5" ry="2" fill="#101a80"/>
<ellipse cx="1517.44" cy="374.48" rx="1.5" ry="2" fill="#101a80"/>
<polygon points="1513.28,341.7 1522.92,345.2 1522.92,359.6 1513.28,356.1" fill="#2cd0d8" stroke="none" stroke-width="0" />
<polygon points="1521.54,345.83 1536.69,351.43 1536.69,366.76 1521.54,361.17" fill="#c08010" stroke="none" stroke-width="0" />
<polygon points="1520.16,344.46 1535.31,350.03 1535.31,365.11 1520.16,359.54" fill="#e8a018" stroke="none" stroke-width="0" />
<ellipse cx="1454.5" cy="192.6" rx="26.6" ry="41.3" fill="none" stroke="#ff1418" stroke-width="4.7" stroke-dasharray="21.5 9.6" stroke-dashoffset="-4.8" transform="rotate(3 1454.5 192.6)"/>
</g>
<g id="pc">
<rect x="136.3" y="648.8" width="386" height="385.6" fill="#c4ae96" stroke="#6e6640" stroke-width="1.2" />
<rect x="137" y="669.5" width="66" height="103" fill="#c55d45" stroke="#b8634a" stroke-width="0.8" />
<rect x="137" y="808.8" width="66" height="102.5" fill="#c55d45" stroke="#b8634a" stroke-width="0.8" />
<rect x="259.5" y="967.5" width="102.5" height="66.5" fill="#c55d45" stroke="#b8634a" stroke-width="0.8" />
<rect x="398.3" y="967.5" width="103" height="66.5" fill="#c55d45" stroke="#b8634a" stroke-width="0.8" />
<circle cx="146.8" cy="680" r="3.4" fill="#52b020" stroke="#3f8a1c" stroke-width="0.5"/>
<circle cx="146.8" cy="700.5" r="3.4" fill="#52b020" stroke="#3f8a1c" stroke-width="0.5"/>
<circle cx="146.8" cy="720.8" r="3.4" fill="#52b020" stroke="#3f8a1c" stroke-width="0.5"/>
<circle cx="146.8" cy="741" r="3.4" fill="#52b020" stroke="#3f8a1c" stroke-width="0.5"/>
<circle cx="146.8" cy="761.5" r="3.4" fill="#52b020" stroke="#3f8a1c" stroke-width="0.5"/>
<circle cx="162" cy="680" r="3.4" fill="#52b020" stroke="#3f8a1c" stroke-width="0.5"/>
<circle cx="162" cy="700.5" r="3.4" fill="#52b020" stroke="#3f8a1c" stroke-width="0.5"/>
<circle cx="162" cy="720.8" r="3.4" fill="#52b020" stroke="#3f8a1c" stroke-width="0.5"/>
<circle cx="162" cy="741" r="3.4" fill="#52b020" stroke="#3f8a1c" stroke-width="0.5"/>
<circle cx="162" cy="761.5" r="3.4" fill="#52b020" stroke="#3f8a1c" stroke-width="0.5"/>
<circle cx="177.4" cy="680" r="3.4" fill="#52b020" stroke="#3f8a1c" stroke-width="0.5"/>
<circle cx="177.4" cy="700.5" r="3.4" fill="#52b020" stroke="#3f8a1c" stroke-width="0.5"/>
<circle cx="177.4" cy="720.8" r="3.4" fill="#52b020" stroke="#3f8a1c" stroke-width="0.5"/>
<circle cx="177.4" cy="741" r="3.4" fill="#52b020" stroke="#3f8a1c" stroke-width="0.5"/>
<circle cx="177.4" cy="761.5" r="3.4" fill="#52b020" stroke="#3f8a1c" stroke-width="0.5"/>
<circle cx="192.9" cy="680" r="3.4" fill="#52b020" stroke="#3f8a1c" stroke-width="0.5"/>
<circle cx="192.9" cy="700.5" r="3.4" fill="#52b020" stroke="#3f8a1c" stroke-width="0.5"/>
<circle cx="192.9" cy="720.8" r="3.4" fill="#52b020" stroke="#3f8a1c" stroke-width="0.5"/>
<circle cx="192.9" cy="741" r="3.4" fill="#52b020" stroke="#3f8a1c" stroke-width="0.5"/>
<circle cx="192.9" cy="761.5" r="3.4" fill="#52b020" stroke="#3f8a1c" stroke-width="0.5"/>
<circle cx="146.8" cy="818.8" r="3.4" fill="#52b020" stroke="#3f8a1c" stroke-width="0.5"/>
<circle cx="146.8" cy="839.3" r="3.4" fill="#52b020" stroke="#3f8a1c" stroke-width="0.5"/>
<circle cx="146.8" cy="860" r="3.4" fill="#52b020" stroke="#3f8a1c" stroke-width="0.5"/>
<circle cx="146.8" cy="880.5" r="3.4" fill="#52b020" stroke="#3f8a1c" stroke-width="0.5"/>
<circle cx="146.8" cy="901" r="3.4" fill="#52b020" stroke="#3f8a1c" stroke-width="0.5"/>
<circle cx="162" cy="818.8" r="3.4" fill="#52b020" stroke="#3f8a1c" stroke-width="0.5"/>
<circle cx="162" cy="839.3" r="3.4" fill="#52b020" stroke="#3f8a1c" stroke-width="0.5"/>
<circle cx="162" cy="860" r="3.4" fill="#52b020" stroke="#3f8a1c" stroke-width="0.5"/>
<circle cx="162" cy="880.5" r="3.4" fill="#52b020" stroke="#3f8a1c" stroke-width="0.5"/>
<circle cx="162" cy="901" r="3.4" fill="#52b020" stroke="#3f8a1c" stroke-width="0.5"/>
<circle cx="177.4" cy="818.8" r="3.4" fill="#52b020" stroke="#3f8a1c" stroke-width="0.5"/>
<circle cx="177.4" cy="839.3" r="3.4" fill="#52b020" stroke="#3f8a1c" stroke-width="0.5"/>
<circle cx="177.4" cy="860" r="3.4" fill="#52b020" stroke="#3f8a1c" stroke-width="0.5"/>
<circle cx="177.4" cy="880.5" r="3.4" fill="#52b020" stroke="#3f8a1c" stroke-width="0.5"/>
<circle cx="177.4" cy="901" r="3.4" fill="#52b020" stroke="#3f8a1c" stroke-width="0.5"/>
<circle cx="192.9" cy="818.8" r="3.4" fill="#52b020" stroke="#3f8a1c" stroke-width="0.5"/>
<circle cx="192.9" cy="839.3" r="3.4" fill="#52b020" stroke="#3f8a1c" stroke-width="0.5"/>
<circle cx="192.9" cy="860" r="3.4" fill="#52b020" stroke="#3f8a1c" stroke-width="0.5"/>
<circle cx="192.9" cy="880.5" r="3.4" fill="#52b020" stroke="#3f8a1c" stroke-width="0.5"/>
<circle cx="192.9" cy="901" r="3.4" fill="#52b020" stroke="#3f8a1c" stroke-width="0.5"/>
<circle cx="270" cy="978" r="3.4" fill="#52b020" stroke="#3f8a1c" stroke-width="0.5"/>
<circle cx="270" cy="993.3" r="3.4" fill="#52b020" stroke="#3f8a1c" stroke-width="0.5"/>
<circle cx="270" cy="1008.5" r="3.4" fill="#52b020" stroke="#3f8a1c" stroke-width="0.5"/>
<circle cx="270" cy="1023.8" r="3.4" fill="#52b020" stroke="#3f8a1c" stroke-width="0.5"/>
<circle cx="290.5" cy="978" r="3.4" fill="#52b020" stroke="#3f8a1c" stroke-width="0.5"/>
<circle cx="290.5" cy="993.3" r="3.4" fill="#52b020" stroke="#3f8a1c" stroke-width="0.5"/>
<circle cx="290.5" cy="1008.5" r="3.4" fill="#52b020" stroke="#3f8a1c" stroke-width="0.5"/>
<circle cx="290.5" cy="1023.8" r="3.4" fill="#52b020" stroke="#3f8a1c" stroke-width="0.5"/>
<circle cx="310.8" cy="978" r="3.4" fill="#52b020" stroke="#3f8a1c" stroke-width="0.5"/>
<circle cx="310.8" cy="993.3" r="3.4" fill="#52b020" stroke="#3f8a1c" stroke-width="0.5"/>
<circle cx="310.8" cy="1008.5" r="3.4" fill="#52b020" stroke="#3f8a1c" stroke-width="0.5"/>
<circle cx="310.8" cy="1023.8" r="3.4" fill="#52b020" stroke="#3f8a1c" stroke-width="0.5"/>
<circle cx="331.5" cy="978" r="3.4" fill="#52b020" stroke="#3f8a1c" stroke-width="0.5"/>
<circle cx="331.5" cy="993.3" r="3.4" fill="#52b020" stroke="#3f8a1c" stroke-width="0.5"/>
<circle cx="331.5" cy="1008.5" r="3.4" fill="#52b020" stroke="#3f8a1c" stroke-width="0.5"/>
<circle cx="331.5" cy="1023.8" r="3.4" fill="#52b020" stroke="#3f8a1c" stroke-width="0.5"/>
<circle cx="352" cy="978" r="3.4" fill="#52b020" stroke="#3f8a1c" stroke-width="0.5"/>
<circle cx="352" cy="993.3" r="3.4" fill="#52b020" stroke="#3f8a1c" stroke-width="0.5"/>
<circle cx="352" cy="1008.5" r="3.4" fill="#52b020" stroke="#3f8a1c" stroke-width="0.5"/>
<circle cx="352" cy="1023.8" r="3.4" fill="#52b020" stroke="#3f8a1c" stroke-width="0.5"/>
<circle cx="408.8" cy="978" r="3.4" fill="#52b020" stroke="#3f8a1c" stroke-width="0.5"/>
<circle cx="408.8" cy="993.3" r="3.4" fill="#52b020" stroke="#3f8a1c" stroke-width="0.5"/>
<circle cx="408.8" cy="1008.5" r="3.4" fill="#52b020" stroke="#3f8a1c" stroke-width="0.5"/>
<circle cx="408.8" cy="1023.8" r="3.4" fill="#52b020" stroke="#3f8a1c" stroke-width="0.5"/>
<circle cx="429.3" cy="978" r="3.4" fill="#52b020" stroke="#3f8a1c" stroke-width="0.5"/>
<circle cx="429.3" cy="993.3" r="3.4" fill="#52b020" stroke="#3f8a1c" stroke-width="0.5"/>
<circle cx="429.3" cy="1008.5" r="3.4" fill="#52b020" stroke="#3f8a1c" stroke-width="0.5"/>
<circle cx="429.3" cy="1023.8" r="3.4" fill="#52b020" stroke="#3f8a1c" stroke-width="0.5"/>
<circle cx="449.8" cy="978" r="3.4" fill="#52b020" stroke="#3f8a1c" stroke-width="0.5"/>
<circle cx="449.8" cy="993.3" r="3.4" fill="#52b020" stroke="#3f8a1c" stroke-width="0.5"/>
<circle cx="449.8" cy="1008.5" r="3.4" fill="#52b020" stroke="#3f8a1c" stroke-width="0.5"/>
<circle cx="449.8" cy="1023.8" r="3.4" fill="#52b020" stroke="#3f8a1c" stroke-width="0.5"/>
<circle cx="470.3" cy="978" r="3.4" fill="#52b020" stroke="#3f8a1c" stroke-width="0.5"/>
<circle cx="470.3" cy="993.3" r="3.4" fill="#52b020" stroke="#3f8a1c" stroke-width="0.5"/>
<circle cx="470.3" cy="1008.5" r="3.4" fill="#52b020" stroke="#3f8a1c" stroke-width="0.5"/>
<circle cx="470.3" cy="1023.8" r="3.4" fill="#52b020" stroke="#3f8a1c" stroke-width="0.5"/>
<circle cx="490.8" cy="978" r="3.4" fill="#52b020" stroke="#3f8a1c" stroke-width="0.5"/>
<circle cx="490.8" cy="993.3" r="3.4" fill="#52b020" stroke="#3f8a1c" stroke-width="0.5"/>
<circle cx="490.8" cy="1008.5" r="3.4" fill="#52b020" stroke="#3f8a1c" stroke-width="0.5"/>
<circle cx="490.8" cy="1023.8" r="3.4" fill="#52b020" stroke="#3f8a1c" stroke-width="0.5"/>
<rect x="137" y="783.8" width="146" height="13.7" fill="#c55d45" stroke="none" stroke-width="1" />
<rect x="372.5" y="888" width="15.5" height="146" fill="#c55d45" stroke="none" stroke-width="1" />
<path d="M225 715.5H294.5V742H264.8V839.3H294.5V865H225V839.3H254.6V742H225ZM305.8 876.8H331.3V906.3H428.8V876.8H455V945.8H428.8V916.3H331.3V945.8H305.8Z" fill="#bccdb5" stroke="#c0521e" stroke-width="1"/>
<rect x="221.5" y="734.3" width="215.3" height="214.8" fill="#e8a470" stroke="#c0521e" stroke-width="1.1" fill-opacity="0.36"/>
<path d="M137 783.8H282.5V761.3H298.8V820H282.5V797.5H137Z M350.8 872.5H410.8V888.3H388V1034H372.5V888.3H350.8Z" fill="#c85a40" fill-opacity="0.82"/>
<line x1="137.6" y1="630.8" x2="521.2" y2="630.8" stroke="#000" stroke-width="1.1" />
<polygon points="137.6,630.8 145.9,628 145.9,633.6" fill="#000" stroke="none" stroke-width="1" />
<polygon points="521.2,630.8 512.9,633.6 512.9,628" fill="#000" stroke="none" stroke-width="1" />
<line x1="137.6" y1="606" x2="137.6" y2="639" stroke="#000" stroke-width="1.1" />
<line x1="521.2" y1="606" x2="521.2" y2="639" stroke="#000" stroke-width="1.1" />
<text x="330" y="617.5" font-family="'Liberation Serif','Times New Roman',serif" font-size="24" font-weight="normal" font-style="normal" text-anchor="middle" fill="#000" >Wu</text>
<line x1="117.6" y1="649.3" x2="117.6" y2="1034.3" stroke="#000" stroke-width="1.1" />
<polygon points="117.6,649.3 120.4,657.6 114.8,657.6" fill="#000" stroke="none" stroke-width="1" />
<polygon points="117.6,1034.3 114.8,1026 120.4,1026" fill="#000" stroke="none" stroke-width="1" />
<line x1="93" y1="649.3" x2="126" y2="649.3" stroke="#000" stroke-width="1.1" />
<line x1="93" y1="1034.3" x2="126" y2="1034.3" stroke="#000" stroke-width="1.1" />
<text x="105" y="841" font-family="'Liberation Serif','Times New Roman',serif" font-size="24" font-weight="normal" font-style="normal" text-anchor="middle" fill="#000" transform="rotate(-90 105 841)" >Lu</text>
<line x1="222" y1="718.8" x2="437.4" y2="718.8" stroke="#000" stroke-width="1.1" />
<polygon points="222,718.8 230.3,716 230.3,721.6" fill="#000" stroke="none" stroke-width="1" />
<polygon points="437.4,718.8 429.1,721.6 429.1,716" fill="#000" stroke="none" stroke-width="1" />
<line x1="222" y1="708" x2="222" y2="734" stroke="#000" stroke-width="1.1" />
<line x1="437.4" y1="708" x2="437.4" y2="734" stroke="#000" stroke-width="1.1" />
<text x="328.5" y="712.3" font-family="'Liberation Serif','Times New Roman',serif" font-size="24" font-weight="normal" font-style="normal" text-anchor="middle" fill="#000" >Wp</text>
<line x1="205.8" y1="734.4" x2="205.8" y2="948.8" stroke="#000" stroke-width="1.1" />
<polygon points="205.8,734.4 208.6,742.7 203,742.7" fill="#000" stroke="none" stroke-width="1" />
<polygon points="205.8,948.8 203,940.5 208.6,940.5" fill="#000" stroke="none" stroke-width="1" />
<line x1="195.5" y1="734.4" x2="221.5" y2="734.4" stroke="#000" stroke-width="1.1" />
<line x1="195.5" y1="948.8" x2="221.5" y2="948.8" stroke="#000" stroke-width="1.1" />
<text x="195.8" y="931" font-family="'Liberation Serif','Times New Roman',serif" font-size="24" font-weight="normal" font-style="normal" text-anchor="middle" fill="#000" transform="rotate(-90 195.8 931)" >Lp</text>
<line x1="282.5" y1="747" x2="298.4" y2="747" stroke="#000" stroke-width="1.1" />
<polygon points="282.5,747 290,744.5 290,749.5" fill="#000" stroke="none" stroke-width="1" />
<polygon points="298.4,747 290.9,749.5 290.9,744.5" fill="#000" stroke="none" stroke-width="1" />
<line x1="282.5" y1="736.3" x2="282.5" y2="760" stroke="#000" stroke-width="1.1" />
<line x1="298.4" y1="736.3" x2="298.4" y2="760" stroke="#000" stroke-width="1.1" />
<text x="303.3" y="745.5" font-family="'Liberation Serif','Times New Roman',serif" font-size="24" font-weight="normal" font-style="normal" text-anchor="start" fill="#000" >fa</text>
<line x1="312.5" y1="760.3" x2="312.5" y2="818.8" stroke="#000" stroke-width="1.1" />
<polygon points="312.5,760.3 315.3,768.6 309.7,768.6" fill="#000" stroke="none" stroke-width="1" />
<polygon points="312.5,818.8 309.7,810.5 315.3,810.5" fill="#000" stroke="none" stroke-width="1" />
<line x1="302.5" y1="760.3" x2="328.5" y2="760.3" stroke="#000" stroke-width="1.1" />
<line x1="302.5" y1="818.8" x2="328.5" y2="818.8" stroke="#000" stroke-width="1.1" />
<text x="323" y="787.5" font-family="'Liberation Serif','Times New Roman',serif" font-size="24" font-weight="normal" font-style="normal" text-anchor="middle" fill="#000" transform="rotate(90 323 787.5)" >fb</text>
<line x1="237.5" y1="783.8" x2="237.5" y2="797.5" stroke="#000" stroke-width="1.1" />
<polygon points="237.5,783.8 239.8,790.3 235.2,790.3" fill="#000" stroke="none" stroke-width="1" />
<polygon points="237.5,797.5 235.2,791 239.8,791" fill="#000" stroke="none" stroke-width="1" />
<line x1="227.5" y1="783.8" x2="253.8" y2="783.8" stroke="#000" stroke-width="1.1" />
<line x1="227.5" y1="797.5" x2="253.8" y2="797.5" stroke="#000" stroke-width="1.1" />
<text x="237.5" y="778.5" font-family="'Liberation Serif','Times New Roman',serif" font-size="24" font-weight="normal" font-style="normal" text-anchor="middle" fill="#000" >fc</text>
<line x1="221.8" y1="833.8" x2="298.3" y2="833.8" stroke="#000" stroke-width="1.1" />
<polygon points="221.8,833.8 230.1,831 230.1,836.6" fill="#000" stroke="none" stroke-width="1" />
<polygon points="298.3,833.8 290,836.6 290,831" fill="#000" stroke="none" stroke-width="1" />
<line x1="221.8" y1="823.8" x2="221.8" y2="848.8" stroke="#000" stroke-width="1.1" />
<line x1="298.3" y1="823.8" x2="298.3" y2="848.8" stroke="#000" stroke-width="1.1" />
<text x="260" y="858.8" font-family="'Liberation Serif','Times New Roman',serif" font-size="24" font-weight="normal" font-style="normal" text-anchor="middle" fill="#000" >fd</text>
<line x1="221.8" y1="880" x2="259.3" y2="880" stroke="#000" stroke-width="1.1" />
<polygon points="221.8,880 230.1,877.2 230.1,882.8" fill="#000" stroke="none" stroke-width="1" />
<polygon points="259.3,880 251,882.8 251,877.2" fill="#000" stroke="none" stroke-width="1" />
<line x1="221.8" y1="869.5" x2="221.8" y2="895" stroke="#000" stroke-width="1.1" />
<line x1="259.3" y1="869.5" x2="259.3" y2="895" stroke="#000" stroke-width="1.1" />
<text x="241.3" y="901.3" font-family="'Liberation Serif','Times New Roman',serif" font-size="24" font-weight="normal" font-style="normal" text-anchor="middle" fill="#000" >sf</text>
<line x1="221.8" y1="958.8" x2="305.6" y2="958.8" stroke="#000" stroke-width="1.1" />
<polygon points="221.8,958.8 230.1,956 230.1,961.6" fill="#000" stroke="none" stroke-width="1" />
<polygon points="305.6,958.8 297.3,961.6 297.3,956" fill="#000" stroke="none" stroke-width="1" />
<line x1="221.8" y1="949" x2="221.8" y2="973.8" stroke="#000" stroke-width="1.1" />
<line x1="305.6" y1="949" x2="305.6" y2="973.8" stroke="#000" stroke-width="1.1" />
<text x="241.5" y="979" font-family="'Liberation Serif','Times New Roman',serif" font-size="24" font-weight="normal" font-style="normal" text-anchor="middle" fill="#000" >sd</text>
<line x1="332.5" y1="931.3" x2="428.8" y2="931.3" stroke="#000" stroke-width="1.1" />
<polygon points="332.5,931.3 340.8,928.5 340.8,934.1" fill="#000" stroke="none" stroke-width="1" />
<polygon points="428.8,931.3 420.5,934.1 420.5,928.5" fill="#000" stroke="none" stroke-width="1" />
<line x1="332.5" y1="921.3" x2="332.5" y2="946.3" stroke="#000" stroke-width="1.1" />
<line x1="428.8" y1="921.3" x2="428.8" y2="946.3" stroke="#000" stroke-width="1.1" />
<text x="360" y="946.5" font-family="'Liberation Serif','Times New Roman',serif" font-size="24" font-weight="normal" font-style="normal" text-anchor="middle" fill="#000" >se</text>
<line x1="381.3" y1="964.3" x2="437" y2="964.3" stroke="#000" stroke-width="1.1" />
<polygon points="381.3,964.3 389.6,961.5 389.6,967.1" fill="#000" stroke="none" stroke-width="1" />
<polygon points="437,964.3 428.7,967.1 428.7,961.5" fill="#000" stroke="none" stroke-width="1" />
<line x1="381.3" y1="953.8" x2="381.3" y2="979.3" stroke="#000" stroke-width="1.1" />
<line x1="437" y1="953.8" x2="437" y2="979.3" stroke="#000" stroke-width="1.1" />
<text x="412.5" y="984.5" font-family="'Liberation Serif','Times New Roman',serif" font-size="24" font-weight="normal" font-style="normal" text-anchor="middle" fill="#000" >fe</text>
<line x1="428.8" y1="861.3" x2="455" y2="861.3" stroke="#000" stroke-width="1.1" />
<polygon points="428.8,861.3 436.3,858.8 436.3,863.8" fill="#000" stroke="none" stroke-width="1" />
<polygon points="455,861.3 447.5,863.8 447.5,858.8" fill="#000" stroke="none" stroke-width="1" />
<line x1="428.8" y1="851.3" x2="428.8" y2="876.3" stroke="#000" stroke-width="1.1" />
<line x1="455" y1="851.3" x2="455" y2="876.3" stroke="#000" stroke-width="1.1" />
<text x="447.5" y="847.5" font-family="'Liberation Serif','Times New Roman',serif" font-size="24" font-weight="normal" font-style="normal" text-anchor="middle" fill="#000" >sa</text>
<line x1="470" y1="876.6" x2="470" y2="945.9" stroke="#000" stroke-width="1.1" />
<polygon points="470,876.6 472.8,884.9 467.2,884.9" fill="#000" stroke="none" stroke-width="1" />
<polygon points="470,945.9 467.2,937.6 472.8,937.6" fill="#000" stroke="none" stroke-width="1" />
<line x1="459.5" y1="876.6" x2="485" y2="876.6" stroke="#000" stroke-width="1.1" />
<line x1="459.5" y1="945.9" x2="485" y2="945.9" stroke="#000" stroke-width="1.1" />
<text x="476.5" y="912" font-family="'Liberation Serif','Times New Roman',serif" font-size="24" font-weight="normal" font-style="normal" text-anchor="middle" fill="#000" transform="rotate(90 476.5 912)" >sb</text>
<line x1="316.3" y1="893" x2="316.3" y2="905.5" stroke="#000" stroke-width="1.1" />
<polygon points="316.3,906 314.3,899.5 318.3,899.5" fill="#000" stroke="none" stroke-width="1" />
<line x1="316.3" y1="917" x2="316.3" y2="929" stroke="#000" stroke-width="1.1" />
<polygon points="316.3,916.6 318.3,923.1 314.3,923.1" fill="#000" stroke="none" stroke-width="1" />
<line x1="305.8" y1="906.2" x2="331.3" y2="906.2" stroke="#000" stroke-width="1.1" />
<line x1="305.8" y1="916.4" x2="331.3" y2="916.4" stroke="#000" stroke-width="1.1" />
<text x="301" y="912" font-family="'Liberation Serif','Times New Roman',serif" font-size="24" font-weight="normal" font-style="normal" text-anchor="middle" fill="#000" transform="rotate(-90 301 912)" >sc</text>
<path d="M536.3 988V1047.6H480" fill="none" stroke="#000" stroke-width="2.6"/>
<polygon points="536.3,976.5 541.3,990.5 531.3,990.5" fill="#000" stroke="none" stroke-width="1" />
<polygon points="466.5,1047.6 480.5,1042.6 480.5,1052.6" fill="#000" stroke="none" stroke-width="1" />
<text x="537.8" y="972.5" font-family="'Liberation Serif','Times New Roman',serif" font-size="24" font-weight="normal" font-style="normal" text-anchor="middle" fill="#000" >x</text>
<text x="457.5" y="1052" font-family="'Liberation Serif','Times New Roman',serif" font-size="24" font-weight="normal" font-style="normal" text-anchor="middle" fill="#000" >y</text>
</g>
<g id="pd">
<defs><linearGradient id="gd1" x1="0" y1="0" x2="0" y2="1"><stop offset="0" stop-color="#ffffff"/><stop offset="0.12" stop-color="#fbffff"/><stop offset="0.5" stop-color="#d9ffff"/><stop offset="1" stop-color="#a9fdfd"/></linearGradient></defs>
<rect x="756.7" y="636.2" width="466.6" height="374.6" fill="url(#gd1)" stroke="none" stroke-width="1" />
<g clip-path="url(#cl1)"><clipPath id="cl1"><rect x="756.7" y="636.2" width="466.6" height="374.6"/></clipPath>
<path d="M756.7 968.35 L758.5 970.38 L760.3 972.67 L762.1 975.14 L763.91 977.76 L765.71 980.47 L767.51 983.22 L769.31 985.95 L771.11 988.63 L772.91 991.19 L774.72 993.59 L776.52 995.77 L778.32 997.68 L780.12 999.27 L781.92 1000.49 L783.72 1001.3 L785.52 1001.62 L787.33 1001.43 L789.13 1000.7 L790.93 999.45 L792.73 997.71 L794.53 995.52 L796.33 992.89 L798.14 989.85 L799.94 986.43 L801.74 982.66 L803.54 978.59 L805.34 974.27 L807.14 969.76 L808.94 965.09 L810.75 960.32 L812.55 955.5 L814.35 950.67 L816.15 945.89 L817.95 941.2 L819.75 936.65 L821.56 932.3 L823.36 928.13 L825.16 924.13 L826.96 920.28 L828.76 916.57 L830.56 912.96 L832.36 909.45 L834.17 906.01 L835.97 902.63 L837.77 899.3 L839.57 896.01 L841.37 892.77 L843.17 889.56 L844.98 886.4 L846.78 883.27 L848.58 880.17 L850.38 877.09 L852.18 874.04 L853.98 871.02 L855.78 868.01 L857.59 865.01 L859.39 862.03 L861.19 859.06 L862.99 856.09 L864.79 853.12 L866.59 850.16 L868.4 847.19 L870.2 844.21 L872 841.23 L873.8 838.23 L875.6 835.21 L877.4 832.18 L879.21 829.12 L881.01 826.04 L882.81 822.92 L884.61 819.78 L886.41 816.61 L888.21 813.4 L890.01 810.18 L891.82 806.93 L893.62 803.66 L895.42 800.38 L897.22 797.09 L899.02 793.79 L900.82 790.49 L902.63 787.18 L904.43 783.88 L906.23 780.59 L908.03 777.3 L909.83 774.02 L911.63 770.76 L913.43 767.52 L915.24 764.31 L917.04 761.11 L918.84 757.95 L920.64 754.82 L922.44 751.73 L924.24 748.67 L926.05 745.66 L927.85 742.69 L929.65 739.77 L931.45 736.91 L933.25 734.1 L935.05 731.35 L936.85 728.66 L938.66 726.04 L940.46 723.48 L942.26 721 L944.06 718.6 L945.86 716.27 L947.66 714.01 L949.47 711.83 L951.27 709.73 L953.07 707.71 L954.87 705.77 L956.67 703.9 L958.47 702.12 L960.27 700.42 L962.08 698.8 L963.88 697.26 L965.68 695.81 L967.48 694.44 L969.28 693.16 L971.08 691.96 L972.89 690.85 L974.69 689.83 L976.49 688.89 L978.29 688.04 L980.09 687.28 L981.89 686.62 L983.69 686.04 L985.5 685.56 L987.3 685.16 L989.1 684.87 L990.9 684.66 L992.7 684.55 L994.5 684.54 L996.31 684.62 L998.11 684.8 L999.91 685.08 L1001.71 685.45 L1003.51 685.93 L1005.31 686.5 L1007.11 687.18 L1008.92 687.95 L1010.72 688.83 L1012.52 689.82 L1014.32 690.9 L1016.12 692.09 L1017.92 693.37 L1019.73 694.74 L1021.53 696.21 L1023.33 697.77 L1025.13 699.42 L1026.93 701.15 L1028.73 702.96 L1030.53 704.86 L1032.34 706.83 L1034.14 708.87 L1035.94 710.99 L1037.74 713.18 L1039.54 715.44 L1041.34 717.76 L1043.15 720.15 L1044.95 722.59 L1046.75 725.09 L1048.55 727.65 L1050.35 730.26 L1052.15 732.92 L1053.95 735.63 L1055.76 738.39 L1057.56 741.19 L1059.36 744.03 L1061.16 746.9 L1062.96 749.81 L1064.76 752.76 L1066.57 755.74 L1068.37 758.74 L1070.17 761.77 L1071.97 764.82 L1073.77 767.9 L1075.57 770.99 L1077.37 774.1 L1079.18 777.22 L1080.98 780.35 L1082.78 783.49 L1084.58 786.65 L1086.38 789.81 L1088.18 792.99 L1089.99 796.19 L1091.79 799.42 L1093.59 802.67 L1095.39 805.96 L1097.19 809.28 L1098.99 812.65 L1100.79 816.05 L1102.6 819.5 L1104.4 823.01 L1106.2 826.57 L1108 830.18 L1109.8 833.86 L1111.6 837.61 L1113.41 841.42 L1115.21 845.31 L1117.01 849.28 L1118.81 853.32 L1120.61 857.45 L1122.41 861.67 L1124.22 865.96 L1126.02 870.31 L1127.82 874.71 L1129.62 879.13 L1131.42 883.58 L1133.22 888.02 L1135.02 892.45 L1136.83 896.86 L1138.63 901.22 L1140.43 905.53 L1142.23 909.76 L1144.03 913.91 L1145.83 917.94 L1147.64 921.85 L1149.44 925.62 L1151.24 929.23 L1153.04 932.66 L1154.84 935.9 L1156.64 938.93 L1158.44 941.73 L1160.25 944.29 L1162.05 946.59 L1163.85 948.61 L1165.65 950.33 L1167.45 951.76 L1169.25 952.92 L1171.06 953.84 L1172.86 954.53 L1174.66 955.01 L1176.46 955.32 L1178.26 955.47 L1180.06 955.49 L1181.86 955.39 L1183.67 955.2 L1185.47 954.95 L1187.27 954.65 L1189.07 954.32 L1190.87 954 L1192.67 953.7 L1194.48 953.44 L1196.28 953.25 L1198.08 953.16 L1199.88 953.17 L1201.68 953.31 L1203.48 953.59 L1205.28 954.02 L1207.09 954.58 L1208.89 955.29 L1210.69 956.15 L1212.49 957.16 L1214.29 958.32 L1216.09 959.63 L1217.9 961.1 L1219.7 962.73 L1221.5 964.52 L1223.3 966.47" fill="none" stroke="#3a3a3a" stroke-width="3.6" stroke-linejoin="round"/><path d="M756.7 968.35 L758.5 970.38 L760.3 972.67 L762.1 975.14 L763.91 977.76 L765.71 980.47 L767.51 983.22 L769.31 985.95 L771.11 988.63 L772.91 991.19 L774.72 993.59 L776.52 995.77 L778.32 997.68 L780.12 999.27 L781.92 1000.49 L783.72 1001.3 L785.52 1001.62 L787.33 1001.43 L789.13 1000.7 L790.93 999.45 L792.73 997.71 L794.53 995.52 L796.33 992.89 L798.14 989.85 L799.94 986.43 L801.74 982.66 L803.54 978.59 L805.34 974.27 L807.14 969.76 L808.94 965.09 L810.75 960.32 L812.55 955.5 L814.35 950.67 L816.15 945.89 L817.95 941.2 L819.75 936.65 L821.56 932.3 L823.36 928.13 L825.16 924.13 L826.96 920.28 L828.76 916.57 L830.56 912.96 L832.36 909.45 L834.17 906.01 L835.97 902.63 L837.77 899.3 L839.57 896.01 L841.37 892.77 L843.17 889.56 L844.98 886.4 L846.78 883.27 L848.58 880.17 L850.38 877.09 L852.18 874.04 L853.98 871.02 L855.78 868.01 L857.59 865.01 L859.39 862.03 L861.19 859.06 L862.99 856.09 L864.79 853.12 L866.59 850.16 L868.4 847.19 L870.2 844.21 L872 841.23 L873.8 838.23 L875.6 835.21 L877.4 832.18 L879.21 829.12 L881.01 826.04 L882.81 822.92 L884.61 819.78 L886.41 816.61 L888.21 813.4 L890.01 810.18 L891.82 806.93 L893.62 803.66 L895.42 800.38 L897.22 797.09 L899.02 793.79 L900.82 790.49 L902.63 787.18 L904.43 783.88 L906.23 780.59 L908.03 777.3 L909.83 774.02 L911.63 770.76 L913.43 767.52 L915.24 764.31 L917.04 761.11 L918.84 757.95 L920.64 754.82 L922.44 751.73 L924.24 748.67 L926.05 745.66 L927.85 742.69 L929.65 739.77 L931.45 736.91 L933.25 734.1 L935.05 731.35 L936.85 728.66 L938.66 726.04 L940.46 723.48 L942.26 721 L944.06 718.6 L945.86 716.27 L947.66 714.01 L949.47 711.83 L951.27 709.73 L953.07 707.71 L954.87 705.77 L956.67 703.9 L958.47 702.12 L960.27 700.42 L962.08 698.8 L963.88 697.26 L965.68 695.81 L967.48 694.44 L969.28 693.16 L971.08 691.96 L972.89 690.85 L974.69 689.83 L976.49 688.89 L978.29 688.04 L980.09 687.28 L981.89 686.62 L983.69 686.04 L985.5 685.56 L987.3 685.16 L989.1 684.87 L990.9 684.66 L992.7 684.55 L994.5 684.54 L996.31 684.62 L998.11 684.8 L999.91 685.08 L1001.71 685.45 L1003.51 685.93 L1005.31 686.5 L1007.11 687.18 L1008.92 687.95 L1010.72 688.83 L1012.52 689.82 L1014.32 690.9 L1016.12 692.09 L1017.92 693.37 L1019.73 694.74 L1021.53 696.21 L1023.33 697.77 L1025.13 699.42 L1026.93 701.15 L1028.73 702.96 L1030.53 704.86 L1032.34 706.83 L1034.14 708.87 L1035.94 710.99 L1037.74 713.18 L1039.54 715.44 L1041.34 717.76 L1043.15 720.15 L1044.95 722.59 L1046.75 725.09 L1048.55 727.65 L1050.35 730.26 L1052.15 732.92 L1053.95 735.63 L1055.76 738.39 L1057.56 741.19 L1059.36 744.03 L1061.16 746.9 L1062.96 749.81 L1064.76 752.76 L1066.57 755.74 L1068.37 758.74 L1070.17 761.77 L1071.97 764.82 L1073.77 767.9 L1075.57 770.99 L1077.37 774.1 L1079.18 777.22 L1080.98 780.35 L1082.78 783.49 L1084.58 786.65 L1086.38 789.81 L1088.18 792.99 L1089.99 796.19 L1091.79 799.42 L1093.59 802.67 L1095.39 805.96 L1097.19 809.28 L1098.99 812.65 L1100.79 816.05 L1102.6 819.5 L1104.4 823.01 L1106.2 826.57 L1108 830.18 L1109.8 833.86 L1111.6 837.61 L1113.41 841.42 L1115.21 845.31 L1117.01 849.28 L1118.81 853.32 L1120.61 857.45 L1122.41 861.67 L1124.22 865.96 L1126.02 870.31 L1127.82 874.71 L1129.62 879.13 L1131.42 883.58 L1133.22 888.02 L1135.02 892.45 L1136.83 896.86 L1138.63 901.22 L1140.43 905.53 L1142.23 909.76 L1144.03 913.91 L1145.83 917.94 L1147.64 921.85 L1149.44 925.62 L1151.24 929.23 L1153.04 932.66 L1154.84 935.9 L1156.64 938.93 L1158.44 941.73 L1160.25 944.29 L1162.05 946.59 L1163.85 948.61 L1165.65 950.33 L1167.45 951.76 L1169.25 952.92 L1171.06 953.84 L1172.86 954.53 L1174.66 955.01 L1176.46 955.32 L1178.26 955.47 L1180.06 955.49 L1181.86 955.39 L1183.67 955.2 L1185.47 954.95 L1187.27 954.65 L1189.07 954.32 L1190.87 954 L1192.67 953.7 L1194.48 953.44 L1196.28 953.25 L1198.08 953.16 L1199.88 953.17 L1201.68 953.31 L1203.48 953.59 L1205.28 954.02 L1207.09 954.58 L1208.89 955.29 L1210.69 956.15 L1212.49 957.16 L1214.29 958.32 L1216.09 959.63 L1217.9 961.1 L1219.7 962.73 L1221.5 964.52 L1223.3 966.47" fill="none" stroke="#555" stroke-width="1.26" stroke-linejoin="round"/>
<path d="M756.7 965.78 L758.5 963.76 L760.3 961.91 L762.1 960.24 L763.91 958.75 L765.71 957.43 L767.51 956.28 L769.31 955.3 L771.11 954.49 L772.91 953.85 L774.72 953.37 L776.52 953.06 L778.32 952.91 L780.12 952.93 L781.92 953.09 L783.72 953.37 L785.52 953.74 L787.33 954.17 L789.13 954.64 L790.93 955.1 L792.73 955.53 L794.53 955.9 L796.33 956.19 L798.14 956.35 L799.94 956.36 L801.74 956.19 L803.54 955.83 L805.34 955.29 L807.14 954.56 L808.94 953.64 L810.75 952.55 L812.55 951.28 L814.35 949.83 L816.15 948.21 L817.95 946.41 L819.75 944.45 L821.56 942.32 L823.36 940.03 L825.16 937.57 L826.96 934.95 L828.76 932.18 L830.56 929.25 L832.36 926.17 L834.17 922.94 L835.97 919.56 L837.77 916.04 L839.57 912.37 L841.37 908.56 L843.17 904.64 L844.98 900.6 L846.78 896.46 L848.58 892.23 L850.38 887.93 L852.18 883.56 L853.98 879.14 L855.78 874.68 L857.59 870.19 L859.39 865.68 L861.19 861.17 L862.99 856.67 L864.79 852.18 L866.59 847.72 L868.4 843.31 L870.2 838.94 L872 834.65 L873.8 830.43 L875.6 826.3 L877.4 822.28 L879.21 818.35 L881.01 814.52 L882.81 810.79 L884.61 807.14 L886.41 803.57 L888.21 800.08 L890.01 796.65 L891.82 793.29 L893.62 789.98 L895.42 786.73 L897.22 783.52 L899.02 780.35 L900.82 777.21 L902.63 774.11 L904.43 771.02 L906.23 767.96 L908.03 764.9 L909.83 761.86 L911.63 758.84 L913.43 755.83 L915.24 752.85 L917.04 749.9 L918.84 746.97 L920.64 744.08 L922.44 741.22 L924.24 738.4 L926.05 735.63 L927.85 732.89 L929.65 730.2 L931.45 727.57 L933.25 724.99 L935.05 722.46 L936.85 719.99 L938.66 717.59 L940.46 715.24 L942.26 712.97 L944.06 710.76 L945.86 708.63 L947.66 706.57 L949.47 704.58 L951.27 702.68 L953.07 700.86 L954.87 699.12 L956.67 697.47 L958.47 695.9 L960.27 694.43 L962.08 693.05 L963.88 691.77 L965.68 690.59 L967.48 689.51 L969.28 688.54 L971.08 687.67 L972.89 686.91 L974.69 686.26 L976.49 685.73 L978.29 685.3 L980.09 684.99 L981.89 684.78 L983.69 684.68 L985.5 684.69 L987.3 684.8 L989.1 685.02 L990.9 685.33 L992.7 685.75 L994.5 686.26 L996.31 686.87 L998.11 687.58 L999.91 688.38 L1001.71 689.27 L1003.51 690.25 L1005.31 691.33 L1007.11 692.49 L1008.92 693.74 L1010.72 695.07 L1012.52 696.49 L1014.32 697.99 L1016.12 699.56 L1017.92 701.22 L1019.73 702.95 L1021.53 704.75 L1023.33 706.63 L1025.13 708.57 L1026.93 710.59 L1028.73 712.67 L1030.53 714.81 L1032.34 717.02 L1034.14 719.29 L1035.94 721.62 L1037.74 724.01 L1039.54 726.45 L1041.34 728.95 L1043.15 731.49 L1044.95 734.09 L1046.75 736.74 L1048.55 739.44 L1050.35 742.18 L1052.15 744.96 L1053.95 747.78 L1055.76 750.65 L1057.56 753.55 L1059.36 756.48 L1061.16 759.45 L1062.96 762.46 L1064.76 765.49 L1066.57 768.55 L1068.37 771.64 L1070.17 774.76 L1071.97 777.9 L1073.77 781.06 L1075.57 784.23 L1077.37 787.43 L1079.18 790.63 L1080.98 793.83 L1082.78 797.03 L1084.58 800.21 L1086.38 803.38 L1088.18 806.51 L1089.99 809.61 L1091.79 812.66 L1093.59 815.67 L1095.39 818.63 L1097.19 821.56 L1098.99 824.45 L1100.79 827.31 L1102.6 830.16 L1104.4 832.99 L1106.2 835.81 L1108 838.62 L1109.8 841.44 L1111.6 844.26 L1113.41 847.09 L1115.21 849.95 L1117.01 852.82 L1118.81 855.73 L1120.61 858.67 L1122.41 861.64 L1124.22 864.67 L1126.02 867.73 L1127.82 870.85 L1129.62 874.02 L1131.42 877.25 L1133.22 880.53 L1135.02 883.88 L1136.83 887.29 L1138.63 890.77 L1140.43 894.32 L1142.23 897.94 L1144.03 901.64 L1145.83 905.42 L1147.64 909.29 L1149.44 913.24 L1151.24 917.27 L1153.04 921.4 L1154.84 925.61 L1156.64 929.9 L1158.44 934.27 L1160.25 938.72 L1162.05 943.25 L1163.85 947.85 L1165.65 952.52 L1167.45 957.22 L1169.25 961.91 L1171.06 966.51 L1172.86 970.95 L1174.66 975.19 L1176.46 979.16 L1178.26 982.81 L1180.06 986.14 L1181.86 989.15 L1183.67 991.83 L1185.47 994.16 L1187.27 996.15 L1189.07 997.78 L1190.87 999.05 L1192.67 999.96 L1194.48 1000.49 L1196.28 1000.64 L1198.08 1000.4 L1199.88 999.76 L1201.68 998.72 L1203.48 997.27 L1205.28 995.41 L1207.09 993.17 L1208.89 990.6 L1210.69 987.8 L1212.49 984.82 L1214.29 981.73 L1216.09 978.61 L1217.9 975.52 L1219.7 972.54 L1221.5 969.73 L1223.3 967.17" fill="none" stroke="#f01c1c" stroke-width="3.6" stroke-linejoin="round"/><path d="M756.7 965.78 L758.5 963.76 L760.3 961.91 L762.1 960.24 L763.91 958.75 L765.71 957.43 L767.51 956.28 L769.31 955.3 L771.11 954.49 L772.91 953.85 L774.72 953.37 L776.52 953.06 L778.32 952.91 L780.12 952.93 L781.92 953.09 L783.72 953.37 L785.52 953.74 L787.33 954.17 L789.13 954.64 L790.93 955.1 L792.73 955.53 L794.53 955.9 L796.33 956.19 L798.14 956.35 L799.94 956.36 L801.74 956.19 L803.54 955.83 L805.34 955.29 L807.14 954.56 L808.94 953.64 L810.75 952.55 L812.55 951.28 L814.35 949.83 L816.15 948.21 L817.95 946.41 L819.75 944.45 L821.56 942.32 L823.36 940.03 L825.16 937.57 L826.96 934.95 L828.76 932.18 L830.56 929.25 L832.36 926.17 L834.17 922.94 L835.97 919.56 L837.77 916.04 L839.57 912.37 L841.37 908.56 L843.17 904.64 L844.98 900.6 L846.78 896.46 L848.58 892.23 L850.38 887.93 L852.18 883.56 L853.98 879.14 L855.78 874.68 L857.59 870.19 L859.39 865.68 L861.19 861.17 L862.99 856.67 L864.79 852.18 L866.59 847.72 L868.4 843.31 L870.2 838.94 L872 834.65 L873.8 830.43 L875.6 826.3 L877.4 822.28 L879.21 818.35 L881.01 814.52 L882.81 810.79 L884.61 807.14 L886.41 803.57 L888.21 800.08 L890.01 796.65 L891.82 793.29 L893.62 789.98 L895.42 786.73 L897.22 783.52 L899.02 780.35 L900.82 777.21 L902.63 774.11 L904.43 771.02 L906.23 767.96 L908.03 764.9 L909.83 761.86 L911.63 758.84 L913.43 755.83 L915.24 752.85 L917.04 749.9 L918.84 746.97 L920.64 744.08 L922.44 741.22 L924.24 738.4 L926.05 735.63 L927.85 732.89 L929.65 730.2 L931.45 727.57 L933.25 724.99 L935.05 722.46 L936.85 719.99 L938.66 717.59 L940.46 715.24 L942.26 712.97 L944.06 710.76 L945.86 708.63 L947.66 706.57 L949.47 704.58 L951.27 702.68 L953.07 700.86 L954.87 699.12 L956.67 697.47 L958.47 695.9 L960.27 694.43 L962.08 693.05 L963.88 691.77 L965.68 690.59 L967.48 689.51 L969.28 688.54 L971.08 687.67 L972.89 686.91 L974.69 686.26 L976.49 685.73 L978.29 685.3 L980.09 684.99 L981.89 684.78 L983.69 684.68 L985.5 684.69 L987.3 684.8 L989.1 685.02 L990.9 685.33 L992.7 685.75 L994.5 686.26 L996.31 686.87 L998.11 687.58 L999.91 688.38 L1001.71 689.27 L1003.51 690.25 L1005.31 691.33 L1007.11 692.49 L1008.92 693.74 L1010.72 695.07 L1012.52 696.49 L1014.32 697.99 L1016.12 699.56 L1017.92 701.22 L1019.73 702.95 L1021.53 704.75 L1023.33 706.63 L1025.13 708.57 L1026.93 710.59 L1028.73 712.67 L1030.53 714.81 L1032.34 717.02 L1034.14 719.29 L1035.94 721.62 L1037.74 724.01 L1039.54 726.45 L1041.34 728.95 L1043.15 731.49 L1044.95 734.09 L1046.75 736.74 L1048.55 739.44 L1050.35 742.18 L1052.15 744.96 L1053.95 747.78 L1055.76 750.65 L1057.56 753.55 L1059.36 756.48 L1061.16 759.45 L1062.96 762.46 L1064.76 765.49 L1066.57 768.55 L1068.37 771.64 L1070.17 774.76 L1071.97 777.9 L1073.77 781.06 L1075.57 784.23 L1077.37 787.43 L1079.18 790.63 L1080.98 793.83 L1082.78 797.03 L1084.58 800.21 L1086.38 803.38 L1088.18 806.51 L1089.99 809.61 L1091.79 812.66 L1093.59 815.67 L1095.39 818.63 L1097.19 821.56 L1098.99 824.45 L1100.79 827.31 L1102.6 830.16 L1104.4 832.99 L1106.2 835.81 L1108 838.62 L1109.8 841.44 L1111.6 844.26 L1113.41 847.09 L1115.21 849.95 L1117.01 852.82 L1118.81 855.73 L1120.61 858.67 L1122.41 861.64 L1124.22 864.67 L1126.02 867.73 L1127.82 870.85 L1129.62 874.02 L1131.42 877.25 L1133.22 880.53 L1135.02 883.88 L1136.83 887.29 L1138.63 890.77 L1140.43 894.32 L1142.23 897.94 L1144.03 901.64 L1145.83 905.42 L1147.64 909.29 L1149.44 913.24 L1151.24 917.27 L1153.04 921.4 L1154.84 925.61 L1156.64 929.9 L1158.44 934.27 L1160.25 938.72 L1162.05 943.25 L1163.85 947.85 L1165.65 952.52 L1167.45 957.22 L1169.25 961.91 L1171.06 966.51 L1172.86 970.95 L1174.66 975.19 L1176.46 979.16 L1178.26 982.81 L1180.06 986.14 L1181.86 989.15 L1183.67 991.83 L1185.47 994.16 L1187.27 996.15 L1189.07 997.78 L1190.87 999.05 L1192.67 999.96 L1194.48 1000.49 L1196.28 1000.64 L1198.08 1000.4 L1199.88 999.76 L1201.68 998.72 L1203.48 997.27 L1205.28 995.41 L1207.09 993.17 L1208.89 990.6 L1210.69 987.8 L1212.49 984.82 L1214.29 981.73 L1216.09 978.61 L1217.9 975.52 L1219.7 972.54 L1221.5 969.73 L1223.3 967.17" fill="none" stroke="#ff4a4a" stroke-width="1.26" stroke-linejoin="round"/>
</g>
<path d="M756.7 1010.8v-8M756.7 636.2v8M834.47 1010.8v-8M834.47 636.2v8M912.23 1010.8v-8M912.23 636.2v8M990 1010.8v-8M990 636.2v8M1067.77 1010.8v-8M1067.77 636.2v8M1145.53 1010.8v-8M1145.53 636.2v8M1223.3 1010.8v-8M1223.3 636.2v8M795.58 1010.8v-4.5M795.58 636.2v4.5M873.35 1010.8v-4.5M873.35 636.2v4.5M951.12 1010.8v-4.5M951.12 636.2v4.5M1028.88 1010.8v-4.5M1028.88 636.2v4.5M1106.65 1010.8v-4.5M1106.65 636.2v4.5M1184.42 1010.8v-4.5M1184.42 636.2v4.5M756.7 636.2h8M1223.3 636.2h-8M756.7 711.12h8M1223.3 711.12h-8M756.7 786.04h8M1223.3 786.04h-8M756.7 860.96h8M1223.3 860.96h-8M756.7 935.88h8M1223.3 935.88h-8M756.7 1010.8h8M1223.3 1010.8h-8M756.7 673.66h4.5M1223.3 673.66h-4.5M756.7 748.58h4.5M1223.3 748.58h-4.5M756.7 823.5h4.5M1223.3 823.5h-4.5M756.7 898.42h4.5M1223.3 898.42h-4.5M756.7 973.34h4.5M1223.3 973.34h-4.5" stroke="#1a1a1a" stroke-width="1.4" fill="none"/>
<rect x="756.7" y="636.2" width="466.6" height="374.6" fill="none" stroke="#1a1a1a" stroke-width="1.5" />
<text x="756.7" y="1039.3" font-family="'Liberation Serif','Times New Roman',serif" font-size="24" font-weight="normal" font-style="normal" text-anchor="middle" fill="#000" >-180</text>
<text x="834.47" y="1039.3" font-family="'Liberation Serif','Times New Roman',serif" font-size="24" font-weight="normal" font-style="normal" text-anchor="middle" fill="#000" >-120</text>
<text x="912.23" y="1039.3" font-family="'Liberation Serif','Times New Roman',serif" font-size="24" font-weight="normal" font-style="normal" text-anchor="middle" fill="#000" >-60</text>
<text x="990" y="1039.3" font-family="'Liberation Serif','Times New Roman',serif" font-size="24" font-weight="normal" font-style="normal" text-anchor="middle" fill="#000" >0</text>
<text x="1067.77" y="1039.3" font-family="'Liberation Serif','Times New Roman',serif" font-size="24" font-weight="normal" font-style="normal" text-anchor="middle" fill="#000" >60</text>
<text x="1145.53" y="1039.3" font-family="'Liberation Serif','Times New Roman',serif" font-size="24" font-weight="normal" font-style="normal" text-anchor="middle" fill="#000" >120</text>
<text x="1223.3" y="1039.3" font-family="'Liberation Serif','Times New Roman',serif" font-size="24" font-weight="normal" font-style="normal" text-anchor="middle" fill="#000" >180</text>
<text x="747.7" y="644.2" font-family="'Liberation Serif','Times New Roman',serif" font-size="24" font-weight="normal" font-style="normal" text-anchor="end" fill="#000" >10</text>
<text x="747.7" y="719.12" font-family="'Liberation Serif','Times New Roman',serif" font-size="24" font-weight="normal" font-style="normal" text-anchor="end" fill="#000" >5</text>
<text x="747.7" y="794.04" font-family="'Liberation Serif','Times New Roman',serif" font-size="24" font-weight="normal" font-style="normal" text-anchor="end" fill="#000" >0</text>
<text x="747.7" y="868.96" font-family="'Liberation Serif','Times New Roman',serif" font-size="24" font-weight="normal" font-style="normal" text-anchor="end" fill="#000" >-5</text>
<text x="747.7" y="943.88" font-family="'Liberation Serif','Times New Roman',serif" font-size="24" font-weight="normal" font-style="normal" text-anchor="end" fill="#000" >-10</text>
<text x="747.7" y="1018.8" font-family="'Liberation Serif','Times New Roman',serif" font-size="24" font-weight="normal" font-style="normal" text-anchor="end" fill="#000" >-15</text>
<line x1="930" y1="889.8" x2="986" y2="889.8" stroke="#3a3a3a" stroke-width="3.8" stroke-linecap="round"/>
<line x1="930" y1="889.8" x2="986" y2="889.8" stroke="#555" stroke-width="1.3" stroke-linecap="round"/>
<text x="992.5" y="897.8" font-family="'Liberation Serif','Times New Roman',serif" font-size="24.5" font-weight="normal" font-style="normal" text-anchor="start" fill="#000" >E-plane</text>
<line x1="930" y1="920" x2="986" y2="920" stroke="#f01c1c" stroke-width="3.8" stroke-linecap="round"/>
<line x1="930" y1="920" x2="986" y2="920" stroke="#ff4a4a" stroke-width="1.3" stroke-linecap="round"/>
<text x="992.5" y="928" font-family="'Liberation Serif','Times New Roman',serif" font-size="24.5" font-weight="normal" font-style="normal" text-anchor="start" fill="#000" >H-plane</text>
<text x="990" y="1081" font-family="'Liberation Serif','Times New Roman',serif" font-size="25" text-anchor="middle"><tspan font-style="italic">θ</tspan> (degree)</text>
<text x="692" y="813" font-family="'Liberation Serif','Times New Roman',serif" font-size="25" font-weight="normal" font-style="normal" text-anchor="middle" fill="#000" transform="rotate(-90 692 813)" >Gain (dBi)</text>
<defs><linearGradient id="gd2" x1="0" y1="0" x2="0" y2="1"><stop offset="0" stop-color="#ffffff"/><stop offset="0.12" stop-color="#fbffff"/><stop offset="0.5" stop-color="#d9ffff"/><stop offset="1" stop-color="#a9fdfd"/></linearGradient></defs>
<rect x="1388.7" y="636.2" width="467.8" height="374.6" fill="url(#gd2)" stroke="none" stroke-width="1" />
<g clip-path="url(#cl2)"><clipPath id="cl2"><rect x="1388.7" y="636.2" width="467.8" height="374.6"/></clipPath>
<path d="M1388.7 745.6 L1390.3 746.21 L1391.9 746.81 L1393.5 747.42 L1395.11 748.03 L1396.71 748.65 L1398.31 749.26 L1399.91 749.89 L1401.51 750.51 L1403.11 751.14 L1404.71 751.77 L1406.32 752.41 L1407.92 753.06 L1409.52 753.71 L1411.12 754.36 L1412.72 755.02 L1414.32 755.69 L1415.92 756.36 L1417.53 757.04 L1419.13 757.73 L1420.73 758.43 L1422.33 759.13 L1423.93 759.84 L1425.53 760.56 L1427.13 761.29 L1428.74 762.02 L1430.34 762.77 L1431.94 763.53 L1433.54 764.29 L1435.14 765.07 L1436.74 765.85 L1438.34 766.65 L1439.95 767.45 L1441.55 768.27 L1443.15 769.1 L1444.75 769.94 L1446.35 770.79 L1447.95 771.66 L1449.55 772.54 L1451.16 773.43 L1452.76 774.33 L1454.36 775.25 L1455.96 776.18 L1457.56 777.13 L1459.16 778.09 L1460.76 779.06 L1462.37 780.05 L1463.97 781.06 L1465.57 782.08 L1467.17 783.11 L1468.77 784.16 L1470.37 785.23 L1471.97 786.32 L1473.58 787.42 L1475.18 788.54 L1476.78 789.67 L1478.38 790.83 L1479.98 792 L1481.58 793.19 L1483.18 794.4 L1484.79 795.63 L1486.39 796.87 L1487.99 798.14 L1489.59 799.43 L1491.19 800.73 L1492.79 802.06 L1494.39 803.41 L1496 804.78 L1497.6 806.17 L1499.2 807.58 L1500.8 809.01 L1502.4 810.47 L1504 811.95 L1505.61 813.45 L1507.21 814.97 L1508.81 816.52 L1510.41 818.09 L1512.01 819.68 L1513.61 821.3 L1515.21 822.94 L1516.82 824.61 L1518.42 826.3 L1520.02 828.02 L1521.62 829.76 L1523.22 831.53 L1524.82 833.33 L1526.42 835.15 L1528.03 837 L1529.63 838.87 L1531.23 840.78 L1532.83 842.71 L1534.43 844.67 L1536.03 846.65 L1537.63 848.67 L1539.24 850.71 L1540.84 852.78 L1542.44 854.88 L1544.04 857.02 L1545.64 859.18 L1547.24 861.38 L1548.84 863.61 L1550.45 865.88 L1552.05 868.18 L1553.65 870.52 L1555.25 872.89 L1556.85 875.31 L1558.45 877.76 L1560.05 880.26 L1561.66 882.79 L1563.26 885.37 L1564.86 888 L1566.46 890.67 L1568.06 893.38 L1569.66 896.15 L1571.26 898.96 L1572.87 901.82 L1574.47 904.73 L1576.07 907.69 L1577.67 910.7 L1579.27 913.76 L1580.87 916.87 L1582.47 920.03 L1584.08 923.23 L1585.68 926.46 L1587.28 929.73 L1588.88 933.03 L1590.48 936.36 L1592.08 939.71 L1593.68 943.07 L1595.29 946.44 L1596.89 949.82 L1598.49 953.19 L1600.09 956.55 L1601.69 959.89 L1603.29 963.19 L1604.89 966.47 L1606.5 969.7 L1608.1 972.89 L1609.7 976.03 L1611.3 979.12 L1622.4 979.7 L1630.5 965.15 L1632.13 961.06 L1633.75 957.03 L1635.38 953.07 L1637 949.18 L1638.63 945.34 L1640.26 941.56 L1641.88 937.83 L1643.51 934.17 L1645.13 930.57 L1646.76 927.03 L1648.38 923.56 L1650.01 920.15 L1651.64 916.81 L1653.26 913.53 L1654.89 910.31 L1656.51 907.16 L1658.14 904.06 L1659.77 901.03 L1661.39 898.06 L1663.02 895.15 L1664.64 892.29 L1666.27 889.49 L1667.9 886.75 L1669.52 884.05 L1671.15 881.41 L1672.77 878.83 L1674.4 876.29 L1676.03 873.8 L1677.65 871.36 L1679.28 868.96 L1680.9 866.61 L1682.53 864.31 L1684.15 862.05 L1685.78 859.82 L1687.41 857.64 L1689.03 855.5 L1690.66 853.4 L1692.28 851.33 L1693.91 849.3 L1695.54 847.3 L1697.16 845.34 L1698.79 843.4 L1700.41 841.5 L1702.04 839.63 L1703.67 837.79 L1705.29 835.98 L1706.92 834.2 L1708.54 832.45 L1710.17 830.72 L1711.79 829.03 L1713.42 827.36 L1715.05 825.72 L1716.67 824.1 L1718.3 822.52 L1719.92 820.95 L1721.55 819.42 L1723.18 817.91 L1724.8 816.42 L1726.43 814.96 L1728.05 813.53 L1729.68 812.12 L1731.31 810.73 L1732.93 809.36 L1734.56 808.02 L1736.18 806.7 L1737.81 805.4 L1739.44 804.12 L1741.06 802.87 L1742.69 801.63 L1744.31 800.42 L1745.94 799.22 L1747.56 798.05 L1749.19 796.89 L1750.82 795.75 L1752.44 794.63 L1754.07 793.53 L1755.69 792.45 L1757.32 791.38 L1758.95 790.33 L1760.57 789.29 L1762.2 788.28 L1763.82 787.27 L1765.45 786.29 L1767.08 785.31 L1768.7 784.36 L1770.33 783.41 L1771.95 782.48 L1773.58 781.56 L1775.21 780.66 L1776.83 779.77 L1778.46 778.88 L1780.08 778.02 L1781.71 777.16 L1783.33 776.31 L1784.96 775.48 L1786.59 774.65 L1788.21 773.83 L1789.84 773.02 L1791.46 772.23 L1793.09 771.44 L1794.72 770.65 L1796.34 769.88 L1797.97 769.11 L1799.59 768.35 L1801.22 767.6 L1802.85 766.85 L1804.47 766.11 L1806.1 765.37 L1807.72 764.64 L1809.35 763.91 L1810.97 763.19 L1812.6 762.47 L1814.23 761.75 L1815.85 761.04 L1817.48 760.33 L1819.1 759.62 L1820.73 758.91 L1822.36 758.2 L1823.98 757.5 L1825.61 756.8 L1827.23 756.09 L1828.86 755.39 L1830.49 754.68 L1832.11 753.98 L1833.74 753.27 L1835.36 752.56 L1836.99 751.85 L1838.62 751.13 L1840.24 750.41 L1841.87 749.69 L1843.49 748.97 L1845.12 748.24 L1846.74 747.51 L1848.37 746.77 L1850 746.03 L1851.62 745.28 L1853.25 744.52 L1854.87 743.76 L1856.5 742.99" fill="none" stroke="#3a3a3a" stroke-width="3.6" stroke-linejoin="round"/><path d="M1388.7 745.6 L1390.3 746.21 L1391.9 746.81 L1393.5 747.42 L1395.11 748.03 L1396.71 748.65 L1398.31 749.26 L1399.91 749.89 L1401.51 750.51 L1403.11 751.14 L1404.71 751.77 L1406.32 752.41 L1407.92 753.06 L1409.52 753.71 L1411.12 754.36 L1412.72 755.02 L1414.32 755.69 L1415.92 756.36 L1417.53 757.04 L1419.13 757.73 L1420.73 758.43 L1422.33 759.13 L1423.93 759.84 L1425.53 760.56 L1427.13 761.29 L1428.74 762.02 L1430.34 762.77 L1431.94 763.53 L1433.54 764.29 L1435.14 765.07 L1436.74 765.85 L1438.34 766.65 L1439.95 767.45 L1441.55 768.27 L1443.15 769.1 L1444.75 769.94 L1446.35 770.79 L1447.95 771.66 L1449.55 772.54 L1451.16 773.43 L1452.76 774.33 L1454.36 775.25 L1455.96 776.18 L1457.56 777.13 L1459.16 778.09 L1460.76 779.06 L1462.37 780.05 L1463.97 781.06 L1465.57 782.08 L1467.17 783.11 L1468.77 784.16 L1470.37 785.23 L1471.97 786.32 L1473.58 787.42 L1475.18 788.54 L1476.78 789.67 L1478.38 790.83 L1479.98 792 L1481.58 793.19 L1483.18 794.4 L1484.79 795.63 L1486.39 796.87 L1487.99 798.14 L1489.59 799.43 L1491.19 800.73 L1492.79 802.06 L1494.39 803.41 L1496 804.78 L1497.6 806.17 L1499.2 807.58 L1500.8 809.01 L1502.4 810.47 L1504 811.95 L1505.61 813.45 L1507.21 814.97 L1508.81 816.52 L1510.41 818.09 L1512.01 819.68 L1513.61 821.3 L1515.21 822.94 L1516.82 824.61 L1518.42 826.3 L1520.02 828.02 L1521.62 829.76 L1523.22 831.53 L1524.82 833.33 L1526.42 835.15 L1528.03 837 L1529.63 838.87 L1531.23 840.78 L1532.83 842.71 L1534.43 844.67 L1536.03 846.65 L1537.63 848.67 L1539.24 850.71 L1540.84 852.78 L1542.44 854.88 L1544.04 857.02 L1545.64 859.18 L1547.24 861.38 L1548.84 863.61 L1550.45 865.88 L1552.05 868.18 L1553.65 870.52 L1555.25 872.89 L1556.85 875.31 L1558.45 877.76 L1560.05 880.26 L1561.66 882.79 L1563.26 885.37 L1564.86 888 L1566.46 890.67 L1568.06 893.38 L1569.66 896.15 L1571.26 898.96 L1572.87 901.82 L1574.47 904.73 L1576.07 907.69 L1577.67 910.7 L1579.27 913.76 L1580.87 916.87 L1582.47 920.03 L1584.08 923.23 L1585.68 926.46 L1587.28 929.73 L1588.88 933.03 L1590.48 936.36 L1592.08 939.71 L1593.68 943.07 L1595.29 946.44 L1596.89 949.82 L1598.49 953.19 L1600.09 956.55 L1601.69 959.89 L1603.29 963.19 L1604.89 966.47 L1606.5 969.7 L1608.1 972.89 L1609.7 976.03 L1611.3 979.12 L1622.4 979.7 L1630.5 965.15 L1632.13 961.06 L1633.75 957.03 L1635.38 953.07 L1637 949.18 L1638.63 945.34 L1640.26 941.56 L1641.88 937.83 L1643.51 934.17 L1645.13 930.57 L1646.76 927.03 L1648.38 923.56 L1650.01 920.15 L1651.64 916.81 L1653.26 913.53 L1654.89 910.31 L1656.51 907.16 L1658.14 904.06 L1659.77 901.03 L1661.39 898.06 L1663.02 895.15 L1664.64 892.29 L1666.27 889.49 L1667.9 886.75 L1669.52 884.05 L1671.15 881.41 L1672.77 878.83 L1674.4 876.29 L1676.03 873.8 L1677.65 871.36 L1679.28 868.96 L1680.9 866.61 L1682.53 864.31 L1684.15 862.05 L1685.78 859.82 L1687.41 857.64 L1689.03 855.5 L1690.66 853.4 L1692.28 851.33 L1693.91 849.3 L1695.54 847.3 L1697.16 845.34 L1698.79 843.4 L1700.41 841.5 L1702.04 839.63 L1703.67 837.79 L1705.29 835.98 L1706.92 834.2 L1708.54 832.45 L1710.17 830.72 L1711.79 829.03 L1713.42 827.36 L1715.05 825.72 L1716.67 824.1 L1718.3 822.52 L1719.92 820.95 L1721.55 819.42 L1723.18 817.91 L1724.8 816.42 L1726.43 814.96 L1728.05 813.53 L1729.68 812.12 L1731.31 810.73 L1732.93 809.36 L1734.56 808.02 L1736.18 806.7 L1737.81 805.4 L1739.44 804.12 L1741.06 802.87 L1742.69 801.63 L1744.31 800.42 L1745.94 799.22 L1747.56 798.05 L1749.19 796.89 L1750.82 795.75 L1752.44 794.63 L1754.07 793.53 L1755.69 792.45 L1757.32 791.38 L1758.95 790.33 L1760.57 789.29 L1762.2 788.28 L1763.82 787.27 L1765.45 786.29 L1767.08 785.31 L1768.7 784.36 L1770.33 783.41 L1771.95 782.48 L1773.58 781.56 L1775.21 780.66 L1776.83 779.77 L1778.46 778.88 L1780.08 778.02 L1781.71 777.16 L1783.33 776.31 L1784.96 775.48 L1786.59 774.65 L1788.21 773.83 L1789.84 773.02 L1791.46 772.23 L1793.09 771.44 L1794.72 770.65 L1796.34 769.88 L1797.97 769.11 L1799.59 768.35 L1801.22 767.6 L1802.85 766.85 L1804.47 766.11 L1806.1 765.37 L1807.72 764.64 L1809.35 763.91 L1810.97 763.19 L1812.6 762.47 L1814.23 761.75 L1815.85 761.04 L1817.48 760.33 L1819.1 759.62 L1820.73 758.91 L1822.36 758.2 L1823.98 757.5 L1825.61 756.8 L1827.23 756.09 L1828.86 755.39 L1830.49 754.68 L1832.11 753.98 L1833.74 753.27 L1835.36 752.56 L1836.99 751.85 L1838.62 751.13 L1840.24 750.41 L1841.87 749.69 L1843.49 748.97 L1845.12 748.24 L1846.74 747.51 L1848.37 746.77 L1850 746.03 L1851.62 745.28 L1853.25 744.52 L1854.87 743.76 L1856.5 742.99" fill="none" stroke="#555" stroke-width="1.26" stroke-linejoin="round"/>
<path d="M1388.7 745.6 L1390.3 746.21 L1391.9 746.81 L1393.5 747.42 L1395.11 748.03 L1396.71 748.65 L1398.31 749.26 L1399.91 749.89 L1401.51 750.51 L1403.11 751.14 L1404.71 751.77 L1406.32 752.41 L1407.92 753.06 L1409.52 753.71 L1411.12 754.36 L1412.72 755.02 L1414.32 755.69 L1415.92 756.36 L1417.53 757.04 L1419.13 757.73 L1420.73 758.43 L1422.33 759.13 L1423.93 759.84 L1425.53 760.56 L1427.13 761.29 L1428.74 762.02 L1430.34 762.77 L1431.94 763.53 L1433.54 764.29 L1435.14 765.07 L1436.74 765.85 L1438.34 766.65 L1439.95 767.45 L1441.55 768.27 L1443.15 769.1 L1444.75 769.94 L1446.35 770.79 L1447.95 771.66 L1449.55 772.54 L1451.16 773.43 L1452.76 774.33 L1454.36 775.25 L1455.96 776.18 L1457.56 777.13 L1459.16 778.09 L1460.76 779.06 L1462.37 780.05 L1463.97 781.06 L1465.57 782.08 L1467.17 783.11 L1468.77 784.16 L1470.37 785.23 L1471.97 786.32 L1473.58 787.42 L1475.18 788.54 L1476.78 789.67 L1478.38 790.83 L1479.98 792 L1481.58 793.19 L1483.18 794.4 L1484.79 795.63 L1486.39 796.87 L1487.99 798.14 L1489.59 799.43 L1491.19 800.73 L1492.79 802.06 L1494.39 803.41 L1496 804.78 L1497.6 806.17 L1499.2 807.58 L1500.8 809.01 L1502.4 810.47 L1504 811.95 L1505.61 813.45 L1507.21 814.97 L1508.81 816.52 L1510.41 818.09 L1512.01 819.68 L1513.61 821.3 L1515.21 822.94 L1516.82 824.61 L1518.42 826.3 L1520.02 828.02 L1521.62 829.76 L1523.22 831.53 L1524.82 833.33 L1526.42 835.15 L1528.03 837 L1529.63 838.87 L1531.23 840.78 L1532.83 842.71 L1534.43 844.67 L1536.03 846.65 L1537.63 848.67 L1539.24 850.71 L1540.84 852.78 L1542.44 854.88 L1544.04 857.02 L1545.64 859.18 L1547.24 861.38 L1548.84 863.61 L1550.45 865.88 L1552.05 868.18 L1553.65 870.52 L1555.25 872.89 L1556.85 875.31 L1558.45 877.76 L1560.05 880.26 L1561.66 882.79 L1563.26 885.37 L1564.86 888 L1566.46 890.67 L1568.06 893.38 L1569.66 896.15 L1571.26 898.96 L1572.87 901.82 L1574.47 904.73 L1576.07 907.69 L1577.67 910.7 L1579.27 913.76 L1580.87 916.87 L1582.47 920.03 L1584.08 923.23 L1585.68 926.46 L1587.28 929.73 L1588.88 933.04 L1590.48 936.37 L1592.08 939.72 L1593.68 943.1 L1595.29 946.48 L1596.89 949.88 L1598.49 953.29 L1600.09 956.7 L1601.69 960.11 L1603.29 963.51 L1604.89 966.9 L1606.5 970.28 L1608.1 973.63 L1609.7 976.97 L1611.3 980.26 L1622.4 981.7 L1630.5 966.32 L1632.13 962.02 L1633.75 957.8 L1635.38 953.66 L1637 949.62 L1638.63 945.65 L1640.26 941.78 L1641.88 937.98 L1643.51 934.27 L1645.13 930.63 L1646.76 927.07 L1648.38 923.58 L1650.01 920.16 L1651.64 916.81 L1653.26 913.53 L1654.89 910.31 L1656.51 907.16 L1658.14 904.06 L1659.77 901.03 L1661.39 898.06 L1663.02 895.15 L1664.64 892.29 L1666.27 889.49 L1667.9 886.75 L1669.52 884.05 L1671.15 881.41 L1672.77 878.83 L1674.4 876.29 L1676.03 873.8 L1677.65 871.36 L1679.28 868.96 L1680.9 866.61 L1682.53 864.31 L1684.15 862.05 L1685.78 859.82 L1687.41 857.64 L1689.03 855.5 L1690.66 853.4 L1692.28 851.33 L1693.91 849.3 L1695.54 847.3 L1697.16 845.34 L1698.79 843.4 L1700.41 841.5 L1702.04 839.63 L1703.67 837.79 L1705.29 835.98 L1706.92 834.2 L1708.54 832.45 L1710.17 830.72 L1711.79 829.03 L1713.42 827.36 L1715.05 825.72 L1716.67 824.1 L1718.3 822.52 L1719.92 820.95 L1721.55 819.42 L1723.18 817.91 L1724.8 816.42 L1726.43 814.96 L1728.05 813.53 L1729.68 812.12 L1731.31 810.73 L1732.93 809.36 L1734.56 808.02 L1736.18 806.7 L1737.81 805.4 L1739.44 804.12 L1741.06 802.87 L1742.69 801.63 L1744.31 800.42 L1745.94 799.22 L1747.56 798.05 L1749.19 796.89 L1750.82 795.75 L1752.44 794.63 L1754.07 793.53 L1755.69 792.45 L1757.32 791.38 L1758.95 790.33 L1760.57 789.29 L1762.2 788.28 L1763.82 787.27 L1765.45 786.29 L1767.08 785.31 L1768.7 784.36 L1770.33 783.41 L1771.95 782.48 L1773.58 781.56 L1775.21 780.66 L1776.83 779.77 L1778.46 778.88 L1780.08 778.02 L1781.71 777.16 L1783.33 776.31 L1784.96 775.48 L1786.59 774.65 L1788.21 773.83 L1789.84 773.02 L1791.46 772.23 L1793.09 771.44 L1794.72 770.65 L1796.34 769.88 L1797.97 769.11 L1799.59 768.35 L1801.22 767.6 L1802.85 766.85 L1804.47 766.11 L1806.1 765.37 L1807.72 764.64 L1809.35 763.91 L1810.97 763.19 L1812.6 762.47 L1814.23 761.75 L1815.85 761.04 L1817.48 760.33 L1819.1 759.62 L1820.73 758.91 L1822.36 758.2 L1823.98 757.5 L1825.61 756.8 L1827.23 756.09 L1828.86 755.39 L1830.49 754.68 L1832.11 753.98 L1833.74 753.27 L1835.36 752.56 L1836.99 751.85 L1838.62 751.13 L1840.24 750.41 L1841.87 749.69 L1843.49 748.97 L1845.12 748.24 L1846.74 747.51 L1848.37 746.77 L1850 746.03 L1851.62 745.28 L1853.25 744.52 L1854.87 743.76 L1856.5 742.99" fill="none" stroke="#f01c1c" stroke-width="3.6" stroke-linejoin="round"/><path d="M1388.7 745.6 L1390.3 746.21 L1391.9 746.81 L1393.5 747.42 L1395.11 748.03 L1396.71 748.65 L1398.31 749.26 L1399.91 749.89 L1401.51 750.51 L1403.11 751.14 L1404.71 751.77 L1406.32 752.41 L1407.92 753.06 L1409.52 753.71 L1411.12 754.36 L1412.72 755.02 L1414.32 755.69 L1415.92 756.36 L1417.53 757.04 L1419.13 757.73 L1420.73 758.43 L1422.33 759.13 L1423.93 759.84 L1425.53 760.56 L1427.13 761.29 L1428.74 762.02 L1430.34 762.77 L1431.94 763.53 L1433.54 764.29 L1435.14 765.07 L1436.74 765.85 L1438.34 766.65 L1439.95 767.45 L1441.55 768.27 L1443.15 769.1 L1444.75 769.94 L1446.35 770.79 L1447.95 771.66 L1449.55 772.54 L1451.16 773.43 L1452.76 774.33 L1454.36 775.25 L1455.96 776.18 L1457.56 777.13 L1459.16 778.09 L1460.76 779.06 L1462.37 780.05 L1463.97 781.06 L1465.57 782.08 L1467.17 783.11 L1468.77 784.16 L1470.37 785.23 L1471.97 786.32 L1473.58 787.42 L1475.18 788.54 L1476.78 789.67 L1478.38 790.83 L1479.98 792 L1481.58 793.19 L1483.18 794.4 L1484.79 795.63 L1486.39 796.87 L1487.99 798.14 L1489.59 799.43 L1491.19 800.73 L1492.79 802.06 L1494.39 803.41 L1496 804.78 L1497.6 806.17 L1499.2 807.58 L1500.8 809.01 L1502.4 810.47 L1504 811.95 L1505.61 813.45 L1507.21 814.97 L1508.81 816.52 L1510.41 818.09 L1512.01 819.68 L1513.61 821.3 L1515.21 822.94 L1516.82 824.61 L1518.42 826.3 L1520.02 828.02 L1521.62 829.76 L1523.22 831.53 L1524.82 833.33 L1526.42 835.15 L1528.03 837 L1529.63 838.87 L1531.23 840.78 L1532.83 842.71 L1534.43 844.67 L1536.03 846.65 L1537.63 848.67 L1539.24 850.71 L1540.84 852.78 L1542.44 854.88 L1544.04 857.02 L1545.64 859.18 L1547.24 861.38 L1548.84 863.61 L1550.45 865.88 L1552.05 868.18 L1553.65 870.52 L1555.25 872.89 L1556.85 875.31 L1558.45 877.76 L1560.05 880.26 L1561.66 882.79 L1563.26 885.37 L1564.86 888 L1566.46 890.67 L1568.06 893.38 L1569.66 896.15 L1571.26 898.96 L1572.87 901.82 L1574.47 904.73 L1576.07 907.69 L1577.67 910.7 L1579.27 913.76 L1580.87 916.87 L1582.47 920.03 L1584.08 923.23 L1585.68 926.46 L1587.28 929.73 L1588.88 933.04 L1590.48 936.37 L1592.08 939.72 L1593.68 943.1 L1595.29 946.48 L1596.89 949.88 L1598.49 953.29 L1600.09 956.7 L1601.69 960.11 L1603.29 963.51 L1604.89 966.9 L1606.5 970.28 L1608.1 973.63 L1609.7 976.97 L1611.3 980.26 L1622.4 981.7 L1630.5 966.32 L1632.13 962.02 L1633.75 957.8 L1635.38 953.66 L1637 949.62 L1638.63 945.65 L1640.26 941.78 L1641.88 937.98 L1643.51 934.27 L1645.13 930.63 L1646.76 927.07 L1648.38 923.58 L1650.01 920.16 L1651.64 916.81 L1653.26 913.53 L1654.89 910.31 L1656.51 907.16 L1658.14 904.06 L1659.77 901.03 L1661.39 898.06 L1663.02 895.15 L1664.64 892.29 L1666.27 889.49 L1667.9 886.75 L1669.52 884.05 L1671.15 881.41 L1672.77 878.83 L1674.4 876.29 L1676.03 873.8 L1677.65 871.36 L1679.28 868.96 L1680.9 866.61 L1682.53 864.31 L1684.15 862.05 L1685.78 859.82 L1687.41 857.64 L1689.03 855.5 L1690.66 853.4 L1692.28 851.33 L1693.91 849.3 L1695.54 847.3 L1697.16 845.34 L1698.79 843.4 L1700.41 841.5 L1702.04 839.63 L1703.67 837.79 L1705.29 835.98 L1706.92 834.2 L1708.54 832.45 L1710.17 830.72 L1711.79 829.03 L1713.42 827.36 L1715.05 825.72 L1716.67 824.1 L1718.3 822.52 L1719.92 820.95 L1721.55 819.42 L1723.18 817.91 L1724.8 816.42 L1726.43 814.96 L1728.05 813.53 L1729.68 812.12 L1731.31 810.73 L1732.93 809.36 L1734.56 808.02 L1736.18 806.7 L1737.81 805.4 L1739.44 804.12 L1741.06 802.87 L1742.69 801.63 L1744.31 800.42 L1745.94 799.22 L1747.56 798.05 L1749.19 796.89 L1750.82 795.75 L1752.44 794.63 L1754.07 793.53 L1755.69 792.45 L1757.32 791.38 L1758.95 790.33 L1760.57 789.29 L1762.2 788.28 L1763.82 787.27 L1765.45 786.29 L1767.08 785.31 L1768.7 784.36 L1770.33 783.41 L1771.95 782.48 L1773.58 781.56 L1775.21 780.66 L1776.83 779.77 L1778.46 778.88 L1780.08 778.02 L1781.71 777.16 L1783.33 776.31 L1784.96 775.48 L1786.59 774.65 L1788.21 773.83 L1789.84 773.02 L1791.46 772.23 L1793.09 771.44 L1794.72 770.65 L1796.34 769.88 L1797.97 769.11 L1799.59 768.35 L1801.22 767.6 L1802.85 766.85 L1804.47 766.11 L1806.1 765.37 L1807.72 764.64 L1809.35 763.91 L1810.97 763.19 L1812.6 762.47 L1814.23 761.75 L1815.85 761.04 L1817.48 760.33 L1819.1 759.62 L1820.73 758.91 L1822.36 758.2 L1823.98 757.5 L1825.61 756.8 L1827.23 756.09 L1828.86 755.39 L1830.49 754.68 L1832.11 753.98 L1833.74 753.27 L1835.36 752.56 L1836.99 751.85 L1838.62 751.13 L1840.24 750.41 L1841.87 749.69 L1843.49 748.97 L1845.12 748.24 L1846.74 747.51 L1848.37 746.77 L1850 746.03 L1851.62 745.28 L1853.25 744.52 L1854.87 743.76 L1856.5 742.99" fill="none" stroke="#ff4a4a" stroke-width="1.26" stroke-linejoin="round"/>
</g>
<path d="M1388.7 1010.8v-8M1388.7 636.2v8M1505.65 1010.8v-8M1505.65 636.2v8M1622.6 1010.8v-8M1622.6 636.2v8M1739.55 1010.8v-8M1739.55 636.2v8M1856.5 1010.8v-8M1856.5 636.2v8M1447.18 1010.8v-4.5M1447.18 636.2v4.5M1564.13 1010.8v-4.5M1564.13 636.2v4.5M1681.07 1010.8v-4.5M1681.07 636.2v4.5M1798.03 1010.8v-4.5M1798.03 636.2v4.5M1388.7 636.2h8M1856.5 636.2h-8M1388.7 698.63h8M1856.5 698.63h-8M1388.7 761.07h8M1856.5 761.07h-8M1388.7 823.5h8M1856.5 823.5h-8M1388.7 885.93h8M1856.5 885.93h-8M1388.7 948.37h8M1856.5 948.37h-8M1388.7 1010.8h8M1856.5 1010.8h-8M1388.7 667.42h4.5M1856.5 667.42h-4.5M1388.7 729.85h4.5M1856.5 729.85h-4.5M1388.7 792.28h4.5M1856.5 792.28h-4.5M1388.7 854.72h4.5M1856.5 854.72h-4.5M1388.7 917.15h4.5M1856.5 917.15h-4.5M1388.7 979.58h4.5M1856.5 979.58h-4.5" stroke="#1a1a1a" stroke-width="1.4" fill="none"/>
<rect x="1388.7" y="636.2" width="467.8" height="374.6" fill="none" stroke="#1a1a1a" stroke-width="1.5" />
<text x="1388.7" y="1039.3" font-family="'Liberation Serif','Times New Roman',serif" font-size="24" font-weight="normal" font-style="normal" text-anchor="middle" fill="#000" >9.2</text>
<text x="1505.65" y="1039.3" font-family="'Liberation Serif','Times New Roman',serif" font-size="24" font-weight="normal" font-style="normal" text-anchor="middle" fill="#000" >9.4</text>
<text x="1622.6" y="1039.3" font-family="'Liberation Serif','Times New Roman',serif" font-size="24" font-weight="normal" font-style="normal" text-anchor="middle" fill="#000" >9.6</text>
<text x="1739.55" y="1039.3" font-family="'Liberation Serif','Times New Roman',serif" font-size="24" font-weight="normal" font-style="normal" text-anchor="middle" fill="#000" >9.8</text>
<text x="1856.5" y="1039.3" font-family="'Liberation Serif','Times New Roman',serif" font-size="24" font-weight="normal" font-style="normal" text-anchor="middle" fill="#000" >10.0</text>
<text x="1379.7" y="644.2" font-family="'Liberation Serif','Times New Roman',serif" font-size="24" font-weight="normal" font-style="normal" text-anchor="end" fill="#000" >0</text>
<text x="1379.7" y="706.63" font-family="'Liberation Serif','Times New Roman',serif" font-size="24" font-weight="normal" font-style="normal" text-anchor="end" fill="#000" >-5</text>
<text x="1379.7" y="769.07" font-family="'Liberation Serif','Times New Roman',serif" font-size="24" font-weight="normal" font-style="normal" text-anchor="end" fill="#000" >-10</text>
<text x="1379.7" y="831.5" font-family="'Liberation Serif','Times New Roman',serif" font-size="24" font-weight="normal" font-style="normal" text-anchor="end" fill="#000" >-15</text>
<text x="1379.7" y="893.93" font-family="'Liberation Serif','Times New Roman',serif" font-size="24" font-weight="normal" font-style="normal" text-anchor="end" fill="#000" >-20</text>
<text x="1379.7" y="956.37" font-family="'Liberation Serif','Times New Roman',serif" font-size="24" font-weight="normal" font-style="normal" text-anchor="end" fill="#000" >-25</text>
<text x="1379.7" y="1018.8" font-family="'Liberation Serif','Times New Roman',serif" font-size="24" font-weight="normal" font-style="normal" text-anchor="end" fill="#000" >-30</text>
<line x1="1576" y1="701" x2="1630" y2="701" stroke="#3a3a3a" stroke-width="3.8" stroke-linecap="round"/>
<line x1="1576" y1="701" x2="1630" y2="701" stroke="#555" stroke-width="1.3" stroke-linecap="round"/>
<text x="1637.5" y="709" font-family="'Liberation Serif','Times New Roman',serif" font-size="24.5" font-weight="normal" font-style="normal" text-anchor="start" fill="#000" >Port1</text>
<line x1="1576" y1="731.5" x2="1630" y2="731.5" stroke="#f01c1c" stroke-width="3.8" stroke-linecap="round"/>
<line x1="1576" y1="731.5" x2="1630" y2="731.5" stroke="#ff4a4a" stroke-width="1.3" stroke-linecap="round"/>
<text x="1637.5" y="739.5" font-family="'Liberation Serif','Times New Roman',serif" font-size="24.5" font-weight="normal" font-style="normal" text-anchor="start" fill="#000" >Port2</text>
<text x="1622" y="1080.5" font-family="'Liberation Serif','Times New Roman',serif" font-size="25" font-weight="normal" font-style="normal" text-anchor="middle" fill="#000" >Frequency (GHz)</text>
<text x="1324.5" y="810" font-family="'Liberation Serif','Times New Roman',serif" font-size="25" font-weight="normal" font-style="normal" text-anchor="middle" fill="#000" transform="rotate(-90 1324.5 810)" >Reflection coefficient (dB)</text>
</g>
<g id="labels"><text x="3.8" y="37.6" font-family="'Liberation Sans',Arial,sans-serif" font-size="42" font-weight="bold" font-style="normal" text-anchor="start" fill="#000" >(a)</text><text x="620.8" y="37.6" font-family="'Liberation Sans',Arial,sans-serif" font-size="42" font-weight="bold" font-style="normal" text-anchor="start" fill="#000" >(b)</text><text x="3.8" y="594.3" font-family="'Liberation Sans',Arial,sans-serif" font-size="42" font-weight="bold" font-style="normal" text-anchor="start" fill="#000" >(c)</text><text x="620.8" y="594.3" font-family="'Liberation Sans',Arial,sans-serif" font-size="42" font-weight="bold" font-style="normal" text-anchor="start" fill="#000" >(d)</text></g>
</svg>
</body></html>
